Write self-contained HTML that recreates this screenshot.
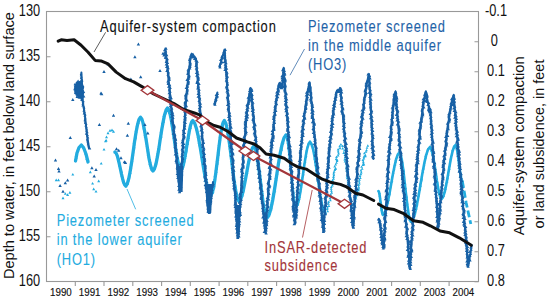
<!DOCTYPE html>
<html><head><meta charset="utf-8"><style>
html,body{margin:0;padding:0;background:#fff;}
svg{display:block;font-family:"Liberation Sans",sans-serif;}
</style></head><body>
<svg width="549" height="299" viewBox="0 0 549 299">
<rect x="46.5" y="11.5" width="432" height="270" fill="none" stroke="#999" stroke-width="1.1"/>
<path d="M46.5 56.7h4 M46.5 101.7h4 M46.5 146.7h4 M46.5 191.7h4 M46.5 236.7h4 M478.5 41.7h-4 M478.5 71.7h-4 M478.5 101.7h-4 M478.5 131.7h-4 M478.5 161.7h-4 M478.5 191.7h-4 M478.5 221.7h-4 M478.5 251.7h-4 M478.5 281.7h-4 M75.3 281.5v4.5 M104 281.5v4.5 M132.8 281.5v4.5 M161.6 281.5v4.5 M190.3 281.5v4.5 M219.1 281.5v4.5 M247.8 281.5v4.5 M276.6 281.5v4.5 M305.3 281.5v4.5 M334.1 281.5v4.5 M362.8 281.5v4.5 M391.6 281.5v4.5 M420.3 281.5v4.5 M449.1 281.5v4.5" stroke="#999" stroke-width="1.1" fill="none"/>
<polyline points="75.5,161 77,153 79,147.5 81.3,145 83.5,147.5 86,154 88,162" fill="none" stroke="#23acdf" stroke-width="3.3" stroke-linejoin="round" stroke-linecap="round"/>
<path d="M74 161.9h2.5l-1.2 -2.1zM74.1 160.3h2.5l-1.2 -2.1zM75.1 158.8h2.5l-1.2 -2.1zM74.6 157.1h2.5l-1.2 -2.1zM75.5 155.6h2.5l-1.2 -2.1zM75.6 153.9h2.5l-1.2 -2.1zM75.7 152.4h2.5l-1.2 -2.1zM76.8 151.2h2.5l-1.2 -2.1zM76.7 149.6h2.5l-1.2 -2.1zM77.7 148.4h2.5l-1.2 -2.1zM78.5 146.8h2.5l-1.2 -2.1zM80.5 145.6h2.5l-1.2 -2.1zM81.2 147.2h2.5l-1.2 -2.1zM81.8 148.7h2.5l-1.2 -2.1zM83.4 149.9h2.5l-1.2 -2.1zM83.9 151.6h2.5l-1.2 -2.1zM84 153.4h2.5l-1.2 -2.1zM84.2 155.1h2.5l-1.2 -2.1zM85.1 156.6h2.5l-1.2 -2.1zM85.7 158.2h2.5l-1.2 -2.1zM85.3 160h2.5l-1.2 -2.1zM87 161.2h2.5l-1.2 -2.1z" fill="#23acdf"/>
<polyline points="115,152 116.1,153.1 117.2,155.6 118.2,159.3 119.3,163.9 120.4,169 121.5,174.1 122.6,178.7 123.6,182.4 124.7,184.9 125.8,186 127.3,183.8 128.7,178.7 130.2,171.2 131.7,161.9 133.2,151.6 134.6,141.3 136.1,132 137.6,124.5 139,119.4 140.5,117.2 141.8,118.9 143,122.9 144.2,128.8 145.5,136.1 146.8,144.1 148,152.1 149.2,159.4 150.5,165.3 151.8,169.3 153,171 154.4,169 155.9,164.3 157.3,157.4 158.8,148.9 160.2,139.5 161.7,130.1 163.2,121.6 164.6,114.7 166.1,110 167.5,108 168.8,110 170.2,114.6 171.6,121.4 172.9,129.8 174.2,139 175.6,148.2 176.9,156.6 178.3,163.4 179.7,168 181,170 182.2,168.4 183.4,164.8 184.5,159.3 185.7,152.6 186.9,145.2 188.1,137.9 189.3,131.2 190.4,125.7 191.6,122.1 192.8,120.5 194.6,122.9 196.4,128.4 198.3,136.6 200.1,146.6 201.9,157.8 203.7,168.9 205.5,178.9 207.4,187.1 209.2,192.6 211,195 212.3,192.6 213.7,187.1 215,178.9 216.3,168.9 217.7,157.8 219,146.6 220.3,136.6 221.6,128.4 223,122.9 224.3,120.5 225.8,123.1 227.2,129.1 228.7,138 230.2,148.9 231.7,161 233.1,173.1 234.6,184 236.1,192.9 237.5,198.9 239,201.5 240.5,199.7 242,195.6 243.5,189.5 245,182 246.5,173.8 248,165.5 249.5,158 251,151.9 252.5,147.8 254,146 255.3,148.3 256.6,153.6 257.9,161.5 259.2,171.3 260.5,182 261.8,192.7 263.1,202.5 264.4,210.4 265.7,215.7 267,218 268.9,215.3 270.8,209.2 272.7,200.1 274.6,188.9 276.5,176.5 278.4,164.1 280.3,152.9 282.2,143.8 284.1,137.7 286,135" fill="none" stroke="#23acdf" stroke-width="3.3" stroke-linejoin="round" stroke-linecap="round"/>
<path d="M113.4 153.3h2.5l-1.2 -2.1zM115.1 154h2.5l-1.2 -2.1zM116.4 156.5h2.5l-1.2 -2.1zM117 158.3h2.5l-1.2 -2.1zM117.3 160.3h2.5l-1.2 -2.1zM116.9 162h2.5l-1.2 -2.1zM118.2 163.3h2.5l-1.2 -2.1zM118 164.9h2.5l-1.2 -2.1zM118.3 166.7h2.5l-1.2 -2.1zM119 168.3h2.5l-1.2 -2.1zM119.1 170h2.5l-1.2 -2.1zM120.1 171.6h2.5l-1.2 -2.1zM120.5 173.2h2.5l-1.2 -2.1zM120.6 175h2.5l-1.2 -2.1zM120.4 176.7h2.5l-1.2 -2.1zM121.1 178.1h2.5l-1.2 -2.1zM121.6 179.6h2.5l-1.2 -2.1zM121.7 181.6h2.5l-1.2 -2.1zM122.5 183.4h2.5l-1.2 -2.1zM123.7 185.7h2.5l-1.2 -2.1zM124.9 187.2h2.5l-1.2 -2.1zM126.3 184.9h2.5l-1.2 -2.1zM126.2 183h2.5l-1.2 -2.1zM127.1 181.4h2.5l-1.2 -2.1zM127.5 179.7h2.5l-1.2 -2.1zM128.3 178.3h2.5l-1.2 -2.1zM128.4 176.7h2.5l-1.2 -2.1zM128.1 175.1h2.5l-1.2 -2.1zM129.3 173.8h2.5l-1.2 -2.1zM128.4 172.1h2.5l-1.2 -2.1zM129.1 170.6h2.5l-1.2 -2.1zM129.8 169.1h2.5l-1.2 -2.1zM129.2 167.4h2.5l-1.2 -2.1zM129.9 165.9h2.5l-1.2 -2.1zM129.6 164.3h2.5l-1.2 -2.1zM130.7 162.9h2.5l-1.2 -2.1zM131 161.4h2.5l-1.2 -2.1zM131 159.9h2.5l-1.2 -2.1zM131.6 158.5h2.5l-1.2 -2.1zM131 156.9h2.5l-1.2 -2.1zM131.8 155.6h2.5l-1.2 -2.1zM131.8 154.1h2.5l-1.2 -2.1zM132 152.6h2.5l-1.2 -2.1zM132.1 151.1h2.5l-1.2 -2.1zM132.8 149.7h2.5l-1.2 -2.1zM133.2 148.3h2.5l-1.2 -2.1zM132.7 146.7h2.5l-1.2 -2.1zM133.2 145.3h2.5l-1.2 -2.1zM132.6 143.7h2.5l-1.2 -2.1zM133.7 142.4h2.5l-1.2 -2.1zM133.8 140.8h2.5l-1.2 -2.1zM134.6 139.3h2.5l-1.2 -2.1zM134.6 137.7h2.5l-1.2 -2.1zM134.1 136.1h2.5l-1.2 -2.1zM134.4 134.5h2.5l-1.2 -2.1zM135.1 133.1h2.5l-1.2 -2.1zM134.5 131.4h2.5l-1.2 -2.1zM135.4 130h2.5l-1.2 -2.1zM135.3 128.4h2.5l-1.2 -2.1zM135.5 126.9h2.5l-1.2 -2.1zM135.7 125.3h2.5l-1.2 -2.1zM137.2 123.9h2.5l-1.2 -2.1zM136.8 121.9h2.5l-1.2 -2.1zM137.5 120.2h2.5l-1.2 -2.1zM139.4 118.1h2.5l-1.2 -2.1zM140 120.1h2.5l-1.2 -2.1zM141.7 121.7h2.5l-1.2 -2.1zM141.8 123.9h2.5l-1.2 -2.1zM142 125.4h2.5l-1.2 -2.1zM141.9 126.9h2.5l-1.2 -2.1zM142.3 128.4h2.5l-1.2 -2.1zM142.5 129.9h2.5l-1.2 -2.1zM143.6 131.2h2.5l-1.2 -2.1zM143.6 132.7h2.5l-1.2 -2.1zM144 134.1h2.5l-1.2 -2.1zM143.5 135.7h2.5l-1.2 -2.1zM143.6 137.2h2.5l-1.2 -2.1zM145 138.6h2.5l-1.2 -2.1zM145.2 140.2h2.5l-1.2 -2.1zM145.4 141.8h2.5l-1.2 -2.1zM145.6 143.4h2.5l-1.2 -2.1zM145.5 145.1h2.5l-1.2 -2.1zM145.6 146.7h2.5l-1.2 -2.1zM146.3 148.2h2.5l-1.2 -2.1zM146.9 149.8h2.5l-1.2 -2.1zM146.6 151.5h2.5l-1.2 -2.1zM146.9 153.1h2.5l-1.2 -2.1zM146.9 154.6h2.5l-1.2 -2.1zM146.6 156.1h2.5l-1.2 -2.1zM147.2 157.5h2.5l-1.2 -2.1zM147.7 158.9h2.5l-1.2 -2.1zM147.9 160.4h2.5l-1.2 -2.1zM148.1 161.9h2.5l-1.2 -2.1zM149.2 163.2h2.5l-1.2 -2.1zM148.4 164.9h2.5l-1.2 -2.1zM148.9 166.4h2.5l-1.2 -2.1zM149.4 168.4h2.5l-1.2 -2.1zM150.2 170.5h2.5l-1.2 -2.1zM151.6 171.9h2.5l-1.2 -2.1zM153.1 169.9h2.5l-1.2 -2.1zM153.2 168.3h2.5l-1.2 -2.1zM154.4 166.9h2.5l-1.2 -2.1zM154.1 165.2h2.5l-1.2 -2.1zM154.4 163.8h2.5l-1.2 -2.1zM154.8 162.5h2.5l-1.2 -2.1zM155.1 161.1h2.5l-1.2 -2.1zM155.6 159.7h2.5l-1.2 -2.1zM155.5 158.3h2.5l-1.2 -2.1zM155.7 156.9h2.5l-1.2 -2.1zM156.1 155.5h2.5l-1.2 -2.1zM156.3 154.1h2.5l-1.2 -2.1zM156.9 152.7h2.5l-1.2 -2.1zM156.7 151.2h2.5l-1.2 -2.1zM158.1 150h2.5l-1.2 -2.1zM158 148.3h2.5l-1.2 -2.1zM157.6 146.7h2.5l-1.2 -2.1zM157.9 145.1h2.5l-1.2 -2.1zM158.3 143.6h2.5l-1.2 -2.1zM158.6 142h2.5l-1.2 -2.1zM158.5 140.4h2.5l-1.2 -2.1zM159.7 139h2.5l-1.2 -2.1zM160.2 137.5h2.5l-1.2 -2.1zM159.7 135.8h2.5l-1.2 -2.1zM160 134.2h2.5l-1.2 -2.1zM159.6 132.6h2.5l-1.2 -2.1zM159.9 131h2.5l-1.2 -2.1zM160.5 129.6h2.5l-1.2 -2.1zM160.6 128.2h2.5l-1.2 -2.1zM161.6 126.9h2.5l-1.2 -2.1zM161 125.3h2.5l-1.2 -2.1zM161 123.9h2.5l-1.2 -2.1zM162.5 122.7h2.5l-1.2 -2.1zM162.2 121.2h2.5l-1.2 -2.1zM162 119.7h2.5l-1.2 -2.1zM162.8 118.4h2.5l-1.2 -2.1zM162.4 116.9h2.5l-1.2 -2.1zM163.4 115.7h2.5l-1.2 -2.1zM164.5 114.3h2.5l-1.2 -2.1zM164.8 112.7h2.5l-1.2 -2.1zM165 111.2h2.5l-1.2 -2.1zM166.5 108.8h2.5l-1.2 -2.1zM167.8 110.9h2.5l-1.2 -2.1zM168.5 112.4h2.5l-1.2 -2.1zM168.1 114.1h2.5l-1.2 -2.1zM168.9 115.6h2.5l-1.2 -2.1zM168.9 117.3h2.5l-1.2 -2.1zM169.9 118.9h2.5l-1.2 -2.1zM170.4 120.6h2.5l-1.2 -2.1zM169.9 122.4h2.5l-1.2 -2.1zM169.9 123.9h2.5l-1.2 -2.1zM170.3 125.2h2.5l-1.2 -2.1zM170.6 126.6h2.5l-1.2 -2.1zM170.8 128h2.5l-1.2 -2.1zM171.1 129.4h2.5l-1.2 -2.1zM172 130.7h2.5l-1.2 -2.1zM171.9 132.3h2.5l-1.2 -2.1zM172.3 133.8h2.5l-1.2 -2.1zM173 135.3h2.5l-1.2 -2.1zM173.2 136.8h2.5l-1.2 -2.1zM173.1 138.4h2.5l-1.2 -2.1zM173.3 139.9h2.5l-1.2 -2.1zM173 141.6h2.5l-1.2 -2.1zM172.8 143.2h2.5l-1.2 -2.1zM173.8 144.6h2.5l-1.2 -2.1zM173.3 146.2h2.5l-1.2 -2.1zM173.5 147.8h2.5l-1.2 -2.1zM173.7 149.3h2.5l-1.2 -2.1zM174.8 150.6h2.5l-1.2 -2.1zM175.2 152h2.5l-1.2 -2.1zM175.4 153.4h2.5l-1.2 -2.1zM175.7 154.8h2.5l-1.2 -2.1zM175.9 156.2h2.5l-1.2 -2.1zM175.5 157.7h2.5l-1.2 -2.1zM175.5 159.4h2.5l-1.2 -2.1zM175.9 161.1h2.5l-1.2 -2.1zM176.8 162.7h2.5l-1.2 -2.1zM176.9 164.5h2.5l-1.2 -2.1zM177.1 166.1h2.5l-1.2 -2.1zM178.5 167.3h2.5l-1.2 -2.1zM178.2 169.1h2.5l-1.2 -2.1zM180.2 171.3h2.5l-1.2 -2.1zM181.3 169.5h2.5l-1.2 -2.1zM181.9 167.7h2.5l-1.2 -2.1zM182.1 165.7h2.5l-1.2 -2.1zM182.1 163.8h2.5l-1.2 -2.1zM183.3 162.2h2.5l-1.2 -2.1zM183.1 160.3h2.5l-1.2 -2.1zM184 158.7h2.5l-1.2 -2.1zM184.5 157.1h2.5l-1.2 -2.1zM184 155.3h2.5l-1.2 -2.1zM184.3 153.6h2.5l-1.2 -2.1zM185.3 152.2h2.5l-1.2 -2.1zM185.3 150.7h2.5l-1.2 -2.1zM184.7 149.1h2.5l-1.2 -2.1zM184.9 147.6h2.5l-1.2 -2.1zM185.2 146.2h2.5l-1.2 -2.1zM186.5 144.9h2.5l-1.2 -2.1zM186.6 143.4h2.5l-1.2 -2.1zM185.9 141.7h2.5l-1.2 -2.1zM187.1 140.4h2.5l-1.2 -2.1zM187.5 139h2.5l-1.2 -2.1zM187.4 137.2h2.5l-1.2 -2.1zM187.2 135.5h2.5l-1.2 -2.1zM187.8 133.8h2.5l-1.2 -2.1zM187.5 132h2.5l-1.2 -2.1zM187.8 130.2h2.5l-1.2 -2.1zM189.5 128.7h2.5l-1.2 -2.1zM189.4 126.8h2.5l-1.2 -2.1zM189.8 124.9h2.5l-1.2 -2.1zM190.9 123.4h2.5l-1.2 -2.1zM191.6 121.4h2.5l-1.2 -2.1zM192.1 123h2.5l-1.2 -2.1zM192.9 124h2.5l-1.2 -2.1zM194.2 125.1h2.5l-1.2 -2.1zM194.6 126.5h2.5l-1.2 -2.1zM195 127.9h2.5l-1.2 -2.1zM195.6 129.3h2.5l-1.2 -2.1zM195.4 131h2.5l-1.2 -2.1zM196.3 132.6h2.5l-1.2 -2.1zM196.4 134.3h2.5l-1.2 -2.1zM197.2 135.8h2.5l-1.2 -2.1zM196.5 137.6h2.5l-1.2 -2.1zM197.5 138.9h2.5l-1.2 -2.1zM197.6 140.4h2.5l-1.2 -2.1zM197.7 141.9h2.5l-1.2 -2.1zM197.5 143.4h2.5l-1.2 -2.1zM198.4 144.7h2.5l-1.2 -2.1zM198 146.3h2.5l-1.2 -2.1zM198.8 147.6h2.5l-1.2 -2.1zM199 149h2.5l-1.2 -2.1zM199.3 150.4h2.5l-1.2 -2.1zM200.2 151.7h2.5l-1.2 -2.1zM199.8 153.2h2.5l-1.2 -2.1zM200.4 154.5h2.5l-1.2 -2.1zM200.9 155.9h2.5l-1.2 -2.1zM200 157.4h2.5l-1.2 -2.1zM201.1 158.7h2.5l-1.2 -2.1zM200.9 160.1h2.5l-1.2 -2.1zM200.8 161.6h2.5l-1.2 -2.1zM201.3 162.9h2.5l-1.2 -2.1zM201.8 164.3h2.5l-1.2 -2.1zM201.8 165.7h2.5l-1.2 -2.1zM202 167.1h2.5l-1.2 -2.1zM201.9 168.5h2.5l-1.2 -2.1zM203 169.7h2.5l-1.2 -2.1zM202.7 171.3h2.5l-1.2 -2.1zM203.3 172.7h2.5l-1.2 -2.1zM203.6 174.1h2.5l-1.2 -2.1zM203.1 175.7h2.5l-1.2 -2.1zM203.8 177.1h2.5l-1.2 -2.1zM204 178.5h2.5l-1.2 -2.1zM203.9 180h2.5l-1.2 -2.1zM204.1 181.7h2.5l-1.2 -2.1zM205.1 183.2h2.5l-1.2 -2.1zM205.2 184.9h2.5l-1.2 -2.1zM205.8 186.5h2.5l-1.2 -2.1zM206.1 188.1h2.5l-1.2 -2.1zM206.3 189.6h2.5l-1.2 -2.1zM207.1 190.8h2.5l-1.2 -2.1zM207.4 192.2h2.5l-1.2 -2.1zM208 193.6h2.5l-1.2 -2.1zM208.4 195.2h2.5l-1.2 -2.1zM210 196.1h2.5l-1.2 -2.1zM211.6 193.7h2.5l-1.2 -2.1zM212 192.4h2.5l-1.2 -2.1zM211.4 190.8h2.5l-1.2 -2.1zM212.2 189.5h2.5l-1.2 -2.1zM213 188.2h2.5l-1.2 -2.1zM213.2 186.5h2.5l-1.2 -2.1zM212.5 184.8h2.5l-1.2 -2.1zM212.7 183.1h2.5l-1.2 -2.1zM213.4 181.6h2.5l-1.2 -2.1zM213.2 179.9h2.5l-1.2 -2.1zM213.6 178.4h2.5l-1.2 -2.1zM213.5 177h2.5l-1.2 -2.1zM214.6 175.6h2.5l-1.2 -2.1zM214.9 174.2h2.5l-1.2 -2.1zM215.3 172.8h2.5l-1.2 -2.1zM214.4 171.2h2.5l-1.2 -2.1zM215.4 169.9h2.5l-1.2 -2.1zM215.5 168.3h2.5l-1.2 -2.1zM215 166.6h2.5l-1.2 -2.1zM216.2 165.1h2.5l-1.2 -2.1zM216.5 163.6h2.5l-1.2 -2.1zM215.6 161.9h2.5l-1.2 -2.1zM216.9 160.4h2.5l-1.2 -2.1zM216.3 158.7h2.5l-1.2 -2.1zM216.6 157.2h2.5l-1.2 -2.1zM217.5 155.6h2.5l-1.2 -2.1zM217.4 154h2.5l-1.2 -2.1zM216.7 152.3h2.5l-1.2 -2.1zM217.3 150.8h2.5l-1.2 -2.1zM217.6 149.2h2.5l-1.2 -2.1zM217.5 147.6h2.5l-1.2 -2.1zM217.5 146.1h2.5l-1.2 -2.1zM217.9 144.7h2.5l-1.2 -2.1zM218.6 143.4h2.5l-1.2 -2.1zM217.8 141.8h2.5l-1.2 -2.1zM218.8 140.4h2.5l-1.2 -2.1zM218.8 139h2.5l-1.2 -2.1zM218.4 137.4h2.5l-1.2 -2.1zM219.1 135.9h2.5l-1.2 -2.1zM219.8 134.3h2.5l-1.2 -2.1zM219.9 132.7h2.5l-1.2 -2.1zM219.5 130.9h2.5l-1.2 -2.1zM221.1 129.5h2.5l-1.2 -2.1zM221.1 128.1h2.5l-1.2 -2.1zM221.7 126.8h2.5l-1.2 -2.1zM220.9 125.1h2.5l-1.2 -2.1zM221.4 123.7h2.5l-1.2 -2.1zM223.6 121.2h2.5l-1.2 -2.1zM223.5 123h2.5l-1.2 -2.1zM224.8 124h2.5l-1.2 -2.1zM225.4 125.5h2.5l-1.2 -2.1zM225.4 127.1h2.5l-1.2 -2.1zM225.1 128.7h2.5l-1.2 -2.1zM225.6 130.1h2.5l-1.2 -2.1zM226.6 131.5h2.5l-1.2 -2.1zM227 132.9h2.5l-1.2 -2.1zM226.2 134.6h2.5l-1.2 -2.1zM226.9 136h2.5l-1.2 -2.1zM227 137.5h2.5l-1.2 -2.1zM228 138.9h2.5l-1.2 -2.1zM228.3 140.4h2.5l-1.2 -2.1zM227.6 142.1h2.5l-1.2 -2.1zM228.2 143.6h2.5l-1.2 -2.1zM228.9 145.1h2.5l-1.2 -2.1zM227.9 146.9h2.5l-1.2 -2.1zM228.5 148.4h2.5l-1.2 -2.1zM228.5 150h2.5l-1.2 -2.1zM229.7 151.4h2.5l-1.2 -2.1zM228.8 153h2.5l-1.2 -2.1zM230.1 154.4h2.5l-1.2 -2.1zM229.2 156h2.5l-1.2 -2.1zM229.9 157.5h2.5l-1.2 -2.1zM230.3 158.9h2.5l-1.2 -2.1zM230.2 160.5h2.5l-1.2 -2.1zM229.8 162.1h2.5l-1.2 -2.1zM230.9 163.5h2.5l-1.2 -2.1zM231.3 164.9h2.5l-1.2 -2.1zM230.9 166.5h2.5l-1.2 -2.1zM231.5 168h2.5l-1.2 -2.1zM231.9 169.5h2.5l-1.2 -2.1zM232 171h2.5l-1.2 -2.1zM232.3 172.5h2.5l-1.2 -2.1zM232.3 174h2.5l-1.2 -2.1zM232.4 175.6h2.5l-1.2 -2.1zM232.6 177.2h2.5l-1.2 -2.1zM232.2 178.8h2.5l-1.2 -2.1zM233 180.3h2.5l-1.2 -2.1zM232.9 181.9h2.5l-1.2 -2.1zM233.6 183.4h2.5l-1.2 -2.1zM233.6 185h2.5l-1.2 -2.1zM234.3 186.4h2.5l-1.2 -2.1zM234.2 187.9h2.5l-1.2 -2.1zM234.8 189.4h2.5l-1.2 -2.1zM234 191h2.5l-1.2 -2.1zM234.5 192.4h2.5l-1.2 -2.1zM235.2 193.8h2.5l-1.2 -2.1zM235.2 195.4h2.5l-1.2 -2.1zM235 197h2.5l-1.2 -2.1zM236.5 198.3h2.5l-1.2 -2.1zM235.9 200.1h2.5l-1.2 -2.1zM237.1 201.1h2.5l-1.2 -2.1zM237.8 202.5h2.5l-1.2 -2.1zM239.7 200.9h2.5l-1.2 -2.1zM239.6 199.3h2.5l-1.2 -2.1zM240.3 198h2.5l-1.2 -2.1zM241 196.7h2.5l-1.2 -2.1zM241.8 195.3h2.5l-1.2 -2.1zM241.3 193.5h2.5l-1.2 -2.1zM242.3 192.2h2.5l-1.2 -2.1zM242.5 190.6h2.5l-1.2 -2.1zM242.7 189.1h2.5l-1.2 -2.1zM242.7 187.5h2.5l-1.2 -2.1zM243 186h2.5l-1.2 -2.1zM242.9 184.4h2.5l-1.2 -2.1zM243.3 182.9h2.5l-1.2 -2.1zM243.4 181.5h2.5l-1.2 -2.1zM244.6 180.3h2.5l-1.2 -2.1zM244.2 178.8h2.5l-1.2 -2.1zM244.3 177.4h2.5l-1.2 -2.1zM244.4 176h2.5l-1.2 -2.1zM245.7 174.8h2.5l-1.2 -2.1zM246 173.5h2.5l-1.2 -2.1zM246 172h2.5l-1.2 -2.1zM245.7 170.5h2.5l-1.2 -2.1zM245.9 169.2h2.5l-1.2 -2.1zM246.2 167.8h2.5l-1.2 -2.1zM246.7 166.5h2.5l-1.2 -2.1zM246.6 164.9h2.5l-1.2 -2.1zM247.3 163.4h2.5l-1.2 -2.1zM247.3 161.9h2.5l-1.2 -2.1zM248.6 160.6h2.5l-1.2 -2.1zM248.9 159.1h2.5l-1.2 -2.1zM248.7 157.4h2.5l-1.2 -2.1zM248.7 155.8h2.5l-1.2 -2.1zM250 154.5h2.5l-1.2 -2.1zM249.5 152.8h2.5l-1.2 -2.1zM250.1 151.4h2.5l-1.2 -2.1zM250.1 149.9h2.5l-1.2 -2.1zM251.1 148.7h2.5l-1.2 -2.1zM252.8 147h2.5l-1.2 -2.1zM254.1 149.3h2.5l-1.2 -2.1zM254.9 151h2.5l-1.2 -2.1zM254.9 152.8h2.5l-1.2 -2.1zM256 154.5h2.5l-1.2 -2.1zM255.9 156.1h2.5l-1.2 -2.1zM256.4 157.7h2.5l-1.2 -2.1zM256.3 159.3h2.5l-1.2 -2.1zM257 160.8h2.5l-1.2 -2.1zM257.3 162.4h2.5l-1.2 -2.1zM257.1 163.9h2.5l-1.2 -2.1zM257.4 165.2h2.5l-1.2 -2.1zM257.1 166.7h2.5l-1.2 -2.1zM257.4 168.1h2.5l-1.2 -2.1zM257.2 169.5h2.5l-1.2 -2.1zM257.6 170.9h2.5l-1.2 -2.1zM257.7 172.3h2.5l-1.2 -2.1zM257.6 173.9h2.5l-1.2 -2.1zM258.5 175.3h2.5l-1.2 -2.1zM258.8 176.8h2.5l-1.2 -2.1zM258 178.5h2.5l-1.2 -2.1zM259.4 179.9h2.5l-1.2 -2.1zM258.8 181.5h2.5l-1.2 -2.1zM259.1 183h2.5l-1.2 -2.1zM260.1 184.4h2.5l-1.2 -2.1zM259.2 186.1h2.5l-1.2 -2.1zM259.3 187.7h2.5l-1.2 -2.1zM259.8 189.1h2.5l-1.2 -2.1zM259.9 190.7h2.5l-1.2 -2.1zM259.9 192.2h2.5l-1.2 -2.1zM261.1 193.7h2.5l-1.2 -2.1zM260.7 195.1h2.5l-1.2 -2.1zM260.9 196.5h2.5l-1.2 -2.1zM260.7 198h2.5l-1.2 -2.1zM260.9 199.4h2.5l-1.2 -2.1zM261 200.7h2.5l-1.2 -2.1zM261.6 202.1h2.5l-1.2 -2.1zM261.3 203.6h2.5l-1.2 -2.1zM261.9 205.1h2.5l-1.2 -2.1zM262.1 206.7h2.5l-1.2 -2.1zM263 208.1h2.5l-1.2 -2.1zM263.6 209.7h2.5l-1.2 -2.1zM263.7 211.2h2.5l-1.2 -2.1zM263.8 213.1h2.5l-1.2 -2.1zM264.6 214.8h2.5l-1.2 -2.1zM264.1 216.9h2.5l-1.2 -2.1zM265.8 219h2.5l-1.2 -2.1zM266.9 217.8h2.5l-1.2 -2.1zM267.8 216.4h2.5l-1.2 -2.1zM268.4 214.9h2.5l-1.2 -2.1zM268.6 213.3h2.5l-1.2 -2.1zM268.4 211.5h2.5l-1.2 -2.1zM270 210.3h2.5l-1.2 -2.1zM270.2 208.8h2.5l-1.2 -2.1zM270.2 207.2h2.5l-1.2 -2.1zM270.6 205.7h2.5l-1.2 -2.1zM271 204.2h2.5l-1.2 -2.1zM270.6 202.5h2.5l-1.2 -2.1zM271.8 201.2h2.5l-1.2 -2.1zM271.4 199.6h2.5l-1.2 -2.1zM271.4 198.2h2.5l-1.2 -2.1zM271.9 196.8h2.5l-1.2 -2.1zM272.7 195.5h2.5l-1.2 -2.1zM272.2 194h2.5l-1.2 -2.1zM273.2 192.7h2.5l-1.2 -2.1zM273.8 191.4h2.5l-1.2 -2.1zM273.4 189.9h2.5l-1.2 -2.1zM273.4 188.3h2.5l-1.2 -2.1zM273.8 186.8h2.5l-1.2 -2.1zM274.3 185.3h2.5l-1.2 -2.1zM274.7 183.7h2.5l-1.2 -2.1zM274.7 182.2h2.5l-1.2 -2.1zM275 180.6h2.5l-1.2 -2.1zM274.4 178.9h2.5l-1.2 -2.1zM274.8 177.4h2.5l-1.2 -2.1zM275.2 175.9h2.5l-1.2 -2.1zM276.1 174.4h2.5l-1.2 -2.1zM275.7 172.8h2.5l-1.2 -2.1zM276.3 171.3h2.5l-1.2 -2.1zM275.8 169.7h2.5l-1.2 -2.1zM276.1 168.1h2.5l-1.2 -2.1zM276.6 166.6h2.5l-1.2 -2.1zM277.4 165.2h2.5l-1.2 -2.1zM277.7 163.8h2.5l-1.2 -2.1zM277.9 162.3h2.5l-1.2 -2.1zM277.6 160.9h2.5l-1.2 -2.1zM278.1 159.5h2.5l-1.2 -2.1zM278.3 158.1h2.5l-1.2 -2.1zM278.5 156.7h2.5l-1.2 -2.1zM278.3 155.2h2.5l-1.2 -2.1zM279.6 154h2.5l-1.2 -2.1zM279 152.3h2.5l-1.2 -2.1zM280.4 151h2.5l-1.2 -2.1zM280.6 149.5h2.5l-1.2 -2.1zM279.7 147.7h2.5l-1.2 -2.1zM280.6 146.3h2.5l-1.2 -2.1zM281.4 144.9h2.5l-1.2 -2.1zM282.1 143.4h2.5l-1.2 -2.1zM281.8 141.7h2.5l-1.2 -2.1zM282.1 140.1h2.5l-1.2 -2.1zM282.5 138.4h2.5l-1.2 -2.1zM284.3 137.7h2.5l-1.2 -2.1z" fill="#23acdf"/>
<polyline points="286,135 287,137.3 288,142.6 289,150.5 290,160.3 291,171 292,181.7 293,191.5 294,199.4 295,204.7 296,207 297.4,204.9 298.8,200.1 300.2,192.9 301.6,184.1 303,174.3 304.4,164.6 305.8,155.8 307.2,148.6 308.6,143.8 310,141.7 311.5,144 313.1,149.3 314.6,157.1 316.1,166.7 317.6,177.3 319.2,188 320.7,197.6 322.2,205.4 323.8,210.7 325.3,213" fill="none" stroke="#23acdf" stroke-width="2.6" stroke-linejoin="round" stroke-linecap="round"/>
<path d="M285.4 135.6h2l-1 -1.7zM285.9 138.1h2l-1 -1.7zM286.9 139.8h2l-1 -1.7zM286.7 141.6h2l-1 -1.7zM286.4 143.5h2l-1 -1.7zM287.7 144.9h2l-1 -1.7zM287 146.6h2l-1 -1.7zM287.6 148.1h2l-1 -1.7zM287.3 149.8h2l-1 -1.7zM287.7 151.3h2l-1 -1.7zM288.5 152.7h2l-1 -1.7zM287.8 154.1h2l-1 -1.7zM288.5 155.5h2l-1 -1.7zM289.3 156.8h2l-1 -1.7zM289.4 158.2h2l-1 -1.7zM288.9 159.7h2l-1 -1.7zM289.1 161h2l-1 -1.7zM289.4 162.6h2l-1 -1.7zM289.8 164.1h2l-1 -1.7zM289.7 165.6h2l-1 -1.7zM289.9 167.2h2l-1 -1.7zM289.3 168.8h2l-1 -1.7zM290.6 170.2h2l-1 -1.7zM289.7 171.8h2l-1 -1.7zM289.7 173.4h2l-1 -1.7zM290.8 174.8h2l-1 -1.7zM289.9 176.4h2l-1 -1.7zM290.3 177.9h2l-1 -1.7zM290.2 179.5h2l-1 -1.7zM291.2 181h2l-1 -1.7zM291.2 182.5h2l-1 -1.7zM291.3 183.9h2l-1 -1.7zM290.6 185.4h2l-1 -1.7zM291.3 186.7h2l-1 -1.7zM291.8 188.1h2l-1 -1.7zM291.8 189.5h2l-1 -1.7zM292.2 190.8h2l-1 -1.7zM292.7 192.2h2l-1 -1.7zM292.8 193.8h2l-1 -1.7zM292 195.5h2l-1 -1.7zM292.9 197h2l-1 -1.7zM292.2 198.7h2l-1 -1.7zM293.4 200.1h2l-1 -1.7zM293.7 201.9h2l-1 -1.7zM293.7 203.7h2l-1 -1.7zM294.4 205.3h2l-1 -1.7zM294.9 207.7h2l-1 -1.7zM297 205.9h2l-1 -1.7zM297.4 204.2h2l-1 -1.7zM297.8 202.6h2l-1 -1.7zM298 200.9h2l-1 -1.7zM298.7 199.5h2l-1 -1.7zM299 198.1h2l-1 -1.7zM298.7 196.6h2l-1 -1.7zM299.2 195.2h2l-1 -1.7zM298.6 193.6h2l-1 -1.7zM299.8 192.3h2l-1 -1.7zM299.6 190.7h2l-1 -1.7zM300.3 189.3h2l-1 -1.7zM300.4 187.8h2l-1 -1.7zM300.1 186.3h2l-1 -1.7zM300 184.8h2l-1 -1.7zM301.4 183.6h2l-1 -1.7zM300.5 182h2l-1 -1.7zM301.2 180.7h2l-1 -1.7zM301.2 179.3h2l-1 -1.7zM301.3 177.9h2l-1 -1.7zM302.2 176.6h2l-1 -1.7zM302.7 175.2h2l-1 -1.7zM301.9 173.7h2l-1 -1.7zM302.6 172.4h2l-1 -1.7zM302.3 170.9h2l-1 -1.7zM302.9 169.6h2l-1 -1.7zM302.9 168.2h2l-1 -1.7zM302.8 166.7h2l-1 -1.7zM303 165.3h2l-1 -1.7zM303.3 163.9h2l-1 -1.7zM304.5 162.5h2l-1 -1.7zM304.1 161h2l-1 -1.7zM304 159.4h2l-1 -1.7zM305.2 158.1h2l-1 -1.7zM305.5 156.7h2l-1 -1.7zM305 155.1h2l-1 -1.7zM304.9 153.6h2l-1 -1.7zM305.2 152.2h2l-1 -1.7zM305.4 150.7h2l-1 -1.7zM306 149.3h2l-1 -1.7zM306.1 147.6h2l-1 -1.7zM306.8 146.1h2l-1 -1.7zM307.3 144.4h2l-1 -1.7zM308.9 142.5h2l-1 -1.7zM310 144.9h2l-1 -1.7zM310.7 146.6h2l-1 -1.7zM311.7 148.2h2l-1 -1.7zM312.2 150h2l-1 -1.7zM312.4 151.6h2l-1 -1.7zM312.9 153.1h2l-1 -1.7zM313.2 154.7h2l-1 -1.7zM313.9 156.2h2l-1 -1.7zM313.9 157.8h2l-1 -1.7zM313.2 159.6h2l-1 -1.7zM314.6 161h2l-1 -1.7zM314.4 162.7h2l-1 -1.7zM314.5 164.3h2l-1 -1.7zM314.4 166h2l-1 -1.7zM315.5 167.4h2l-1 -1.7zM315.7 169h2l-1 -1.7zM315.9 170.5h2l-1 -1.7zM315.9 172h2l-1 -1.7zM316.1 173.6h2l-1 -1.7zM315.6 175.2h2l-1 -1.7zM316 176.7h2l-1 -1.7zM316.2 178.2h2l-1 -1.7zM317.6 179.6h2l-1 -1.7zM317.8 181.1h2l-1 -1.7zM317 182.7h2l-1 -1.7zM317 184.3h2l-1 -1.7zM317.8 185.7h2l-1 -1.7zM317.9 187.3h2l-1 -1.7zM318.9 188.6h2l-1 -1.7zM318.6 190.3h2l-1 -1.7zM318.1 192.1h2l-1 -1.7zM318.5 193.7h2l-1 -1.7zM318.7 195.3h2l-1 -1.7zM318.8 196.9h2l-1 -1.7zM320.1 198.3h2l-1 -1.7zM320.6 199.9h2l-1 -1.7zM320.8 201.4h2l-1 -1.7zM320.6 203.1h2l-1 -1.7zM320.7 204.7h2l-1 -1.7zM320.7 206.4h2l-1 -1.7zM321.5 208.1h2l-1 -1.7zM322.1 209.8h2l-1 -1.7zM322.5 211.7h2l-1 -1.7z" fill="#23acdf"/>
<polyline points="378.4,191 378.9,191.8 379.3,193.5 379.8,196.2 380.2,199.4 380.7,203 381.2,206.6 381.6,209.8 382.1,212.5 382.5,214.2 383,215 384.6,213 386.3,208.4 387.9,201.5 389.6,193 391.2,183.7 392.9,174.3 394.6,165.8 396.2,158.9 397.9,154.3 399.5,152.3 400.6,154.5 401.8,159.7 402.9,167.3 404.1,176.8 405.2,187.2 406.4,197.5 407.6,207 408.7,214.6 409.9,219.8 411,222 412.9,219.6 414.8,214.1 416.7,205.8 418.6,195.7 420.5,184.5 422.4,173.3 424.3,163.2 426.2,154.9 428.1,149.4 430,147 431.1,148.7 432.3,152.5 433.4,158.2 434.6,165.2 435.8,173 436.9,180.8 438.1,187.8 439.2,193.5 440.4,197.3 441.5,199 442.9,197.3 444.3,193.3 445.7,187.4 447.1,180 448.5,172 449.9,164 451.3,156.6 452.7,150.7 454.1,146.7 455.5,145 456.2,146.2 456.9,148.8 457.5,152.8 458.2,157.6 458.9,163 459.6,168.4 460.3,173.2 460.9,177.2 461.6,179.8 462.3,181" fill="none" stroke="#23acdf" stroke-width="2.6" stroke-linejoin="round" stroke-linecap="round"/>
<path d="M377.5 191.7h2l-1 -1.7zM377.8 192.6h2l-1 -1.7zM379 194.2h2l-1 -1.7zM378.4 197h2l-1 -1.7zM379.4 198.5h2l-1 -1.7zM378.7 200.3h2l-1 -1.7zM379.3 202h2l-1 -1.7zM380 203.7h2l-1 -1.7zM380.5 205.5h2l-1 -1.7zM380.5 207.3h2l-1 -1.7zM380.2 209h2l-1 -1.7zM380.4 210.7h2l-1 -1.7zM381.6 213.1h2l-1 -1.7zM382.1 214.7h2l-1 -1.7zM382.1 215.8h2l-1 -1.7zM383.8 213.8h2l-1 -1.7zM384.1 212.2h2l-1 -1.7zM384.4 210.6h2l-1 -1.7zM385.5 209.2h2l-1 -1.7zM385 207.6h2l-1 -1.7zM385.7 206.3h2l-1 -1.7zM386.3 205h2l-1 -1.7zM387.3 203.8h2l-1 -1.7zM387.2 202.3h2l-1 -1.7zM387.8 201h2l-1 -1.7zM387.5 199.4h2l-1 -1.7zM387.4 198h2l-1 -1.7zM387.7 196.5h2l-1 -1.7zM389 195.3h2l-1 -1.7zM388.9 193.8h2l-1 -1.7zM388.6 192.2h2l-1 -1.7zM388.5 190.5h2l-1 -1.7zM389.4 189.1h2l-1 -1.7zM390 187.6h2l-1 -1.7zM389.9 186h2l-1 -1.7zM389.9 184.4h2l-1 -1.7zM390.8 182.9h2l-1 -1.7zM391.4 181.4h2l-1 -1.7zM390.7 179.7h2l-1 -1.7zM390.7 178.1h2l-1 -1.7zM391.4 176.6h2l-1 -1.7zM391.8 175.1h2l-1 -1.7zM392.5 173.7h2l-1 -1.7zM392.1 172.2h2l-1 -1.7zM393.2 170.9h2l-1 -1.7zM393.4 169.5h2l-1 -1.7zM393.3 168h2l-1 -1.7zM393.2 166.5h2l-1 -1.7zM394.5 165.4h2l-1 -1.7zM394 163.8h2l-1 -1.7zM395 162.6h2l-1 -1.7zM394.5 161h2l-1 -1.7zM394.9 159.6h2l-1 -1.7zM396.1 158.3h2l-1 -1.7zM396.1 156.5h2l-1 -1.7zM397.4 155.5h2l-1 -1.7zM398.5 153.1h2l-1 -1.7zM400.1 155.2h2l-1 -1.7zM400.4 156.9h2l-1 -1.7zM400.6 158.7h2l-1 -1.7zM400.6 160.5h2l-1 -1.7zM400.4 162.1h2l-1 -1.7zM401.8 163.4h2l-1 -1.7zM401.7 165h2l-1 -1.7zM402.1 166.5h2l-1 -1.7zM401.3 168.2h2l-1 -1.7zM402.7 169.6h2l-1 -1.7zM403 171.2h2l-1 -1.7zM403.2 172.7h2l-1 -1.7zM402.9 174.4h2l-1 -1.7zM402.4 176h2l-1 -1.7zM402.6 177.6h2l-1 -1.7zM403 179.1h2l-1 -1.7zM402.8 180.6h2l-1 -1.7zM403 182.1h2l-1 -1.7zM404 183.5h2l-1 -1.7zM404.4 184.9h2l-1 -1.7zM403.5 186.5h2l-1 -1.7zM403.9 188h2l-1 -1.7zM405.1 189.3h2l-1 -1.7zM404.4 190.9h2l-1 -1.7zM404.9 192.4h2l-1 -1.7zM405.1 193.8h2l-1 -1.7zM405.3 195.3h2l-1 -1.7zM405.7 196.8h2l-1 -1.7zM406.1 198.2h2l-1 -1.7zM405.9 199.9h2l-1 -1.7zM406 201.4h2l-1 -1.7zM405.4 203.1h2l-1 -1.7zM406.7 204.5h2l-1 -1.7zM405.7 206.3h2l-1 -1.7zM407 207.7h2l-1 -1.7zM407 209.3h2l-1 -1.7zM406.6 210.9h2l-1 -1.7zM406.8 212.4h2l-1 -1.7zM407.6 213.9h2l-1 -1.7zM408.3 215.3h2l-1 -1.7zM408.1 217.1h2l-1 -1.7zM408.7 218.8h2l-1 -1.7zM408.4 220.8h2l-1 -1.7zM409.7 222.5h2l-1 -1.7zM410.8 221.5h2l-1 -1.7zM412.5 220.6h2l-1 -1.7zM411.8 218.8h2l-1 -1.7zM412.8 217.6h2l-1 -1.7zM413.8 216.4h2l-1 -1.7zM414.2 214.9h2l-1 -1.7zM413.5 213.3h2l-1 -1.7zM413.8 211.9h2l-1 -1.7zM414.2 210.6h2l-1 -1.7zM415.7 209.5h2l-1 -1.7zM415.1 207.9h2l-1 -1.7zM416.1 206.7h2l-1 -1.7zM416.5 205.3h2l-1 -1.7zM416 203.7h2l-1 -1.7zM416.2 202.2h2l-1 -1.7zM417.4 200.9h2l-1 -1.7zM417.2 199.4h2l-1 -1.7zM417 197.8h2l-1 -1.7zM417.9 196.5h2l-1 -1.7zM417.6 195h2l-1 -1.7zM417.8 193.6h2l-1 -1.7zM417.7 192.2h2l-1 -1.7zM418.9 190.9h2l-1 -1.7zM419.4 189.6h2l-1 -1.7zM419.2 188.1h2l-1 -1.7zM419.9 186.8h2l-1 -1.7zM418.9 185.2h2l-1 -1.7zM419.4 183.8h2l-1 -1.7zM420 182.5h2l-1 -1.7zM420.9 181.2h2l-1 -1.7zM421.1 179.8h2l-1 -1.7zM420.6 178.3h2l-1 -1.7zM420.6 176.8h2l-1 -1.7zM421.1 175.5h2l-1 -1.7zM421.4 174.1h2l-1 -1.7zM422.3 172.8h2l-1 -1.7zM421.5 171.1h2l-1 -1.7zM422.7 169.8h2l-1 -1.7zM422.8 168.4h2l-1 -1.7zM423.2 166.9h2l-1 -1.7zM423.4 165.5h2l-1 -1.7zM423.5 164h2l-1 -1.7zM423.4 162.5h2l-1 -1.7zM423.7 161.1h2l-1 -1.7zM424.1 159.8h2l-1 -1.7zM425 158.6h2l-1 -1.7zM424.3 157h2l-1 -1.7zM424.8 155.6h2l-1 -1.7zM426 154.5h2l-1 -1.7zM425.8 152.8h2l-1 -1.7zM426.1 151.4h2l-1 -1.7zM426.6 149.8h2l-1 -1.7zM428.1 149h2l-1 -1.7zM429.2 147.6h2l-1 -1.7zM429.5 149.6h2l-1 -1.7zM430.2 151.5h2l-1 -1.7zM430.7 153.4h2l-1 -1.7zM431.9 154.6h2l-1 -1.7zM432.5 156h2l-1 -1.7zM432.7 157.4h2l-1 -1.7zM432.5 159h2l-1 -1.7zM432.4 160.4h2l-1 -1.7zM433 161.8h2l-1 -1.7zM433.5 163.2h2l-1 -1.7zM433.5 164.6h2l-1 -1.7zM433.5 166.1h2l-1 -1.7zM433.6 167.6h2l-1 -1.7zM433.7 169.2h2l-1 -1.7zM433.8 170.8h2l-1 -1.7zM434.3 172.3h2l-1 -1.7zM435.3 173.7h2l-1 -1.7zM434.5 175.4h2l-1 -1.7zM435.5 176.8h2l-1 -1.7zM435.4 178.4h2l-1 -1.7zM435.9 180h2l-1 -1.7zM435.6 181.6h2l-1 -1.7zM436.6 182.9h2l-1 -1.7zM436.7 184.3h2l-1 -1.7zM437 185.7h2l-1 -1.7zM437.3 187.1h2l-1 -1.7zM436.5 188.7h2l-1 -1.7zM437.3 190h2l-1 -1.7zM437.9 191.4h2l-1 -1.7zM438.1 192.8h2l-1 -1.7zM437.6 194.5h2l-1 -1.7zM438.8 196.2h2l-1 -1.7zM439.7 197.9h2l-1 -1.7zM440.9 200.1h2l-1 -1.7zM442.1 198.1h2l-1 -1.7zM443 196.9h2l-1 -1.7zM442.3 195.2h2l-1 -1.7zM443.3 194.1h2l-1 -1.7zM444.1 192.7h2l-1 -1.7zM444.5 191.2h2l-1 -1.7zM444.9 189.8h2l-1 -1.7zM444.1 188h2l-1 -1.7zM444.7 186.6h2l-1 -1.7zM444.8 185.1h2l-1 -1.7zM445.1 183.7h2l-1 -1.7zM446.5 182.4h2l-1 -1.7zM446.2 180.8h2l-1 -1.7zM447 179.3h2l-1 -1.7zM446.5 177.6h2l-1 -1.7zM447.5 176.1h2l-1 -1.7zM447.2 174.4h2l-1 -1.7zM447.2 172.7h2l-1 -1.7zM448.2 171.2h2l-1 -1.7zM448.7 169.7h2l-1 -1.7zM447.8 167.9h2l-1 -1.7zM448.8 166.4h2l-1 -1.7zM449.1 164.8h2l-1 -1.7zM448.8 163.2h2l-1 -1.7zM449.3 161.8h2l-1 -1.7zM449.3 160.2h2l-1 -1.7zM449.6 158.8h2l-1 -1.7zM450 157.3h2l-1 -1.7zM450.8 156h2l-1 -1.7zM451.2 154.5h2l-1 -1.7zM451 152.9h2l-1 -1.7zM451.1 151.3h2l-1 -1.7zM452 150.1h2l-1 -1.7zM452.9 148.9h2l-1 -1.7zM452.8 147.2h2l-1 -1.7zM454.8 145.6h2l-1 -1.7zM455.6 146.8h2l-1 -1.7zM455.5 149.7h2l-1 -1.7zM456.2 151.6h2l-1 -1.7zM457.2 153.5h2l-1 -1.7zM457.3 155.1h2l-1 -1.7zM457.2 156.8h2l-1 -1.7zM457.2 158.4h2l-1 -1.7zM457.3 160.2h2l-1 -1.7zM458.3 161.9h2l-1 -1.7zM458.4 163.7h2l-1 -1.7zM457.9 165.6h2l-1 -1.7zM458.5 167.3h2l-1 -1.7zM458.9 169.1h2l-1 -1.7zM459.1 170.7h2l-1 -1.7zM458.4 172.5h2l-1 -1.7zM459.5 174h2l-1 -1.7zM459.5 176h2l-1 -1.7zM460.2 177.9h2l-1 -1.7zM460.7 180.6h2l-1 -1.7z" fill="#23acdf"/>
<path d="M462.3 181L466.2 203L470.8 224" fill="none" stroke="#23acdf" stroke-width="2.8" stroke-dasharray="7 3"/>
<path d="M324.4 214.5h2.8l-1.4 -2.4zM326.3 212.2h2.8l-1.4 -2.4zM325.9 210.1h2.8l-1.4 -2.4zM326.1 208.4h2.8l-1.4 -2.4zM327.5 206.9h2.8l-1.4 -2.4zM327.1 204.8h2.8l-1.4 -2.4zM327.2 202.9h2.8l-1.4 -2.4zM329 201.3h2.8l-1.4 -2.4zM328.6 199.2h2.8l-1.4 -2.4zM329.6 197.5h2.8l-1.4 -2.4zM329.3 195.5h2.8l-1.4 -2.4zM330.3 193.7h2.8l-1.4 -2.4zM330 191.8h2.8l-1.4 -2.4zM329.8 189.8h2.8l-1.4 -2.4zM329.9 188.1h2.8l-1.4 -2.4zM331 186.5h2.8l-1.4 -2.4zM331.4 184.8h2.8l-1.4 -2.4zM332.1 183.2h2.8l-1.4 -2.4zM331.1 181.2h2.8l-1.4 -2.4zM332.2 179.7h2.8l-1.4 -2.4zM332.1 177.9h2.8l-1.4 -2.4zM332.5 176.2h2.8l-1.4 -2.4zM332.3 174.4h2.8l-1.4 -2.4zM332.7 172.7h2.8l-1.4 -2.4zM333.4 171.1h2.8l-1.4 -2.4zM334.3 169.5h2.8l-1.4 -2.4zM333.3 167.4h2.8l-1.4 -2.4zM334.3 165.6h2.8l-1.4 -2.4zM335.1 163.8h2.8l-1.4 -2.4zM335.7 162h2.8l-1.4 -2.4zM334.8 159.9h2.8l-1.4 -2.4zM335.1 158h2.8l-1.4 -2.4zM336.7 156.4h2.8l-1.4 -2.4zM337.2 154.5h2.8l-1.4 -2.4zM336.8 152.4h2.8l-1.4 -2.4zM336.7 150.5h2.8l-1.4 -2.4zM338.6 149.2h2.8l-1.4 -2.4zM338.3 147.2h2.8l-1.4 -2.4zM339.5 145.4h2.8l-1.4 -2.4zM341.1 147.1h2.8l-1.4 -2.4zM341.3 149.5h2.8l-1.4 -2.4zM342.9 151.5h2.8l-1.4 -2.4zM342.3 153.9h2.8l-1.4 -2.4zM343.6 156h2.8l-1.4 -2.4zM343.7 158.2h2.8l-1.4 -2.4zM343.3 160.4h2.8l-1.4 -2.4zM343.6 162.5h2.8l-1.4 -2.4zM344.9 164.4h2.8l-1.4 -2.4zM345.1 166.5h2.8l-1.4 -2.4zM345.1 168.3h2.8l-1.4 -2.4zM345.1 170.2h2.8l-1.4 -2.4zM345.6 172h2.8l-1.4 -2.4zM346.2 173.7h2.8l-1.4 -2.4zM346.3 175.6h2.8l-1.4 -2.4zM345.7 177.5h2.8l-1.4 -2.4zM345.7 179.3h2.8l-1.4 -2.4zM347.3 181h2.8l-1.4 -2.4zM346.7 182.9h2.8l-1.4 -2.4zM346.6 184.8h2.8l-1.4 -2.4zM348 186.7h2.8l-1.4 -2.4zM347 188.9h2.8l-1.4 -2.4zM348.5 190.8h2.8l-1.4 -2.4zM348 193h2.8l-1.4 -2.4zM348.5 195.2h2.8l-1.4 -2.4zM348.7 197.5h2.8l-1.4 -2.4zM349.6 199.6h2.8l-1.4 -2.4zM350 201.9h2.8l-1.4 -2.4zM350.3 204.2h2.8l-1.4 -2.4zM351.5 206h2.8l-1.4 -2.4zM353.4 204.2h2.8l-1.4 -2.4zM353.9 201.8h2.8l-1.4 -2.4zM354.7 199.6h2.8l-1.4 -2.4zM354.5 197.7h2.8l-1.4 -2.4zM355.8 196.2h2.8l-1.4 -2.4zM356 194.5h2.8l-1.4 -2.4zM356 192.7h2.8l-1.4 -2.4zM357.1 191.2h2.8l-1.4 -2.4zM357.5 189.6h2.8l-1.4 -2.4zM357.3 187.8h2.8l-1.4 -2.4zM357.2 186h2.8l-1.4 -2.4zM358 184.5h2.8l-1.4 -2.4zM357.7 182.5h2.8l-1.4 -2.4zM358.1 180.7h2.8l-1.4 -2.4zM358.9 178.9h2.8l-1.4 -2.4zM358.6 177h2.8l-1.4 -2.4zM359.5 175.3h2.8l-1.4 -2.4zM359.9 173.4h2.8l-1.4 -2.4zM359.5 171.5h2.8l-1.4 -2.4zM360.8 169.8h2.8l-1.4 -2.4zM360.2 167.8h2.8l-1.4 -2.4zM361.6 166.1h2.8l-1.4 -2.4zM362 164.5h2.8l-1.4 -2.4zM361.9 162.7h2.8l-1.4 -2.4zM361.5 160.9h2.8l-1.4 -2.4zM362.5 159.4h2.8l-1.4 -2.4zM362.6 157.7h2.8l-1.4 -2.4zM363.9 156.2h2.8l-1.4 -2.4zM363 154.2h2.8l-1.4 -2.4zM364.6 152.8h2.8l-1.4 -2.4zM365.1 151.2h2.8l-1.4 -2.4zM365.6 148.8h2.8l-1.4 -2.4zM366.4 146.7h2.8l-1.4 -2.4z" fill="#23acdf"/>
<path d="M54.7 181.2h3l-1.5-2.6zM57 181.2h3l-1.5-2.6zM61.5 199.2h3l-1.5-2.6zM63.8 194.8h3l-1.5-2.6zM66.1 195.9h3l-1.5-2.6zM68.4 193.7h3l-1.5-2.6zM71.3 175.5h3l-1.5-2.6zM88.8 173.2h3l-1.5-2.6zM91.1 184.6h3l-1.5-2.6zM92.2 190.2h3l-1.5-2.6zM94.5 192.5h3l-1.5-2.6zM97.2 182.2h3l-1.5-2.6zM99.7 164.6h3l-1.5-2.6zM102.5 150.5h3l-1.5-2.6zM104.7 141.6h3l-1.5-2.6zM104 142.2h3l-1.5-2.6zM105 138.2h3l-1.5-2.6zM106.5 134.2h3l-1.5-2.6zM108.5 131.7h3l-1.5-2.6zM110.5 131.2h3l-1.5-2.6zM112 132.7h3l-1.5-2.6zM335.5 161h3l-1.5-2.6zM333.8 170h3l-1.5-2.6zM363.8 157.2h3l-1.5-2.6zM362.3 165.5h3l-1.5-2.6z" fill="#23acdf"/>
<polyline points="165.4,48.5 166.9,62.9 168.3,77.2 169.8,91.5 171.2,105.9 172.7,120.2 174.2,134.6 175.6,148.9 177.1,163.3 178.5,177.7 180,192 181.2,173.1 182.3,154.6 183.4,136.8 184.6,120 185.8,104.4 186.9,90.5 188.1,78.3 189.2,68.1 190.3,59.9 191.5,54 191.9,54.5 192.4,54.9 192.8,55.4 193.3,55.9 193.8,56.4 194.2,56.8 194.7,57.3 195.1,57.8 195.6,58.2 196,58.7 197.2,74.1 198.5,89.5 199.8,104.8 201,120.2 202.2,135.6 203.5,151 204.8,166.4 206,181.7 207.2,197.1 208.5,212.5 208.9,209.4 209.4,206.4 209.8,203.3 210.3,200.3 210.8,197.2 211.2,194.2 211.7,191.2 212.1,188.1 212.6,185.1 213,182" fill="none" stroke="#1760a5" stroke-width="2.0" stroke-linejoin="round" stroke-linecap="round"/>
<path d="M164.4 49.8h3.3l-1.6 -2.8zM162.9 51.2h3.3l-1.6 -2.8zM164 52.4h3.3l-1.6 -2.8zM163.2 53.8h3.3l-1.6 -2.8zM163.5 55.1h3.3l-1.6 -2.8zM165.1 56.3h3.3l-1.6 -2.8zM164 57.7h3.3l-1.6 -2.8zM163.8 59h3.3l-1.6 -2.8zM165.7 60.2h3.3l-1.6 -2.8zM165.2 61.5h3.3l-1.6 -2.8zM164.6 62.9h3.3l-1.6 -2.8zM165.9 64.1h3.3l-1.6 -2.8zM164.6 65.6h3.3l-1.6 -2.8zM165.9 66.7h3.3l-1.6 -2.8zM165 68.1h3.3l-1.6 -2.8zM166.5 69.3h3.3l-1.6 -2.8zM165.9 70.7h3.3l-1.6 -2.8zM165.2 72.1h3.3l-1.6 -2.8zM166.7 73.2h3.3l-1.6 -2.8zM166.7 74.6h3.3l-1.6 -2.8zM166.4 75.9h3.3l-1.6 -2.8zM166.9 77.2h3.3l-1.6 -2.8zM167.6 78.4h3.3l-1.6 -2.8zM167.4 79.8h3.3l-1.6 -2.8zM167.6 81.1h3.3l-1.6 -2.8zM166.2 82.5h3.3l-1.6 -2.8zM166.8 83.8h3.3l-1.6 -2.8zM166.5 85.1h3.3l-1.6 -2.8zM168.1 86.3h3.3l-1.6 -2.8zM167 87.7h3.3l-1.6 -2.8zM168.5 88.9h3.3l-1.6 -2.8zM167.8 90.3h3.3l-1.6 -2.8zM167.7 91.6h3.3l-1.6 -2.8zM168.4 92.8h3.3l-1.6 -2.8zM167.5 94.3h3.3l-1.6 -2.8zM168.3 95.5h3.3l-1.6 -2.8zM168.4 96.8h3.3l-1.6 -2.8zM167.9 98.2h3.3l-1.6 -2.8zM169.6 99.3h3.3l-1.6 -2.8zM167.9 100.8h3.3l-1.6 -2.8zM168.8 102h3.3l-1.6 -2.8zM169.4 103.3h3.3l-1.6 -2.8zM168.7 104.7h3.3l-1.6 -2.8zM169.9 105.9h3.3l-1.6 -2.8zM168.6 107.3h3.3l-1.6 -2.8zM169.6 108.5h3.3l-1.6 -2.8zM170.1 109.8h3.3l-1.6 -2.8zM169.5 111.2h3.3l-1.6 -2.8zM170.2 112.4h3.3l-1.6 -2.8zM170.9 113.7h3.3l-1.6 -2.8zM169.9 115.1h3.3l-1.6 -2.8zM171.4 116.3h3.3l-1.6 -2.8zM170 117.7h3.3l-1.6 -2.8zM171.3 118.9h3.3l-1.6 -2.8zM170.6 120.3h3.3l-1.6 -2.8zM170.1 121.7h3.3l-1.6 -2.8zM171 122.9h3.3l-1.6 -2.8zM171 124.2h3.3l-1.6 -2.8zM171.8 125.4h3.3l-1.6 -2.8zM172.6 126.7h3.3l-1.6 -2.8zM172.6 128h3.3l-1.6 -2.8zM172.5 129.3h3.3l-1.6 -2.8zM171.7 130.7h3.3l-1.6 -2.8zM172.2 132h3.3l-1.6 -2.8zM172.2 133.3h3.3l-1.6 -2.8zM171.6 134.7h3.3l-1.6 -2.8zM173.2 135.8h3.3l-1.6 -2.8zM173.2 137.2h3.3l-1.6 -2.8zM172.5 138.6h3.3l-1.6 -2.8zM173.9 139.7h3.3l-1.6 -2.8zM174 141h3.3l-1.6 -2.8zM173.5 142.4h3.3l-1.6 -2.8zM174.1 143.7h3.3l-1.6 -2.8zM173.7 145h3.3l-1.6 -2.8zM174.1 146.3h3.3l-1.6 -2.8zM173.5 147.7h3.3l-1.6 -2.8zM173.7 149h3.3l-1.6 -2.8zM174.6 150.2h3.3l-1.6 -2.8zM173.9 151.6h3.3l-1.6 -2.8zM174.3 152.9h3.3l-1.6 -2.8zM175.1 154.1h3.3l-1.6 -2.8zM173.6 155.6h3.3l-1.6 -2.8zM175.1 156.7h3.3l-1.6 -2.8zM175.5 158h3.3l-1.6 -2.8zM175.7 159.3h3.3l-1.6 -2.8zM174.8 160.7h3.3l-1.6 -2.8zM174.4 162.1h3.3l-1.6 -2.8zM174.7 163.4h3.3l-1.6 -2.8zM175.6 164.6h3.3l-1.6 -2.8zM176 165.9h3.3l-1.6 -2.8zM176.7 167.1h3.3l-1.6 -2.8zM175.5 168.6h3.3l-1.6 -2.8zM175.8 169.9h3.3l-1.6 -2.8zM176.4 171.1h3.3l-1.6 -2.8zM175.9 172.5h3.3l-1.6 -2.8zM176.5 173.7h3.3l-1.6 -2.8zM175.6 175.1h3.3l-1.6 -2.8zM176.2 176.4h3.3l-1.6 -2.8zM177.3 177.6h3.3l-1.6 -2.8zM176.1 179.1h3.3l-1.6 -2.8zM177.9 180.2h3.3l-1.6 -2.8zM177.1 181.6h3.3l-1.6 -2.8zM177.5 182.9h3.3l-1.6 -2.8zM177.9 184.1h3.3l-1.6 -2.8zM178.4 185.4h3.3l-1.6 -2.8zM177.1 186.9h3.3l-1.6 -2.8zM178.8 188h3.3l-1.6 -2.8zM177.9 189.4h3.3l-1.6 -2.8zM177.2 190.8h3.3l-1.6 -2.8zM178.9 191.9h3.3l-1.6 -2.8zM177.8 193.3h3.3l-1.6 -2.8zM178.6 192h3.3l-1.6 -2.8zM178.5 190.6h3.3l-1.6 -2.8zM178.9 189.3h3.3l-1.6 -2.8zM179.3 188h3.3l-1.6 -2.8zM178.1 186.5h3.3l-1.6 -2.8zM178.5 185.2h3.3l-1.6 -2.8zM178.5 183.9h3.3l-1.6 -2.8zM178.1 182.5h3.3l-1.6 -2.8zM179.9 181.2h3.3l-1.6 -2.8zM179.7 179.9h3.3l-1.6 -2.8zM179.7 178.5h3.3l-1.6 -2.8zM178.4 177.1h3.3l-1.6 -2.8zM180.1 175.8h3.3l-1.6 -2.8zM180 174.5h3.3l-1.6 -2.8zM179.5 173.1h3.3l-1.6 -2.8zM180.1 171.8h3.3l-1.6 -2.8zM179.7 170.5h3.3l-1.6 -2.8zM179.3 169.1h3.3l-1.6 -2.8zM179.1 167.8h3.3l-1.6 -2.8zM179.5 166.5h3.3l-1.6 -2.8zM179.2 165.1h3.3l-1.6 -2.8zM179.8 163.9h3.3l-1.6 -2.8zM180.7 162.6h3.3l-1.6 -2.8zM180.7 161.3h3.3l-1.6 -2.8zM181.1 160h3.3l-1.6 -2.8zM180.9 158.6h3.3l-1.6 -2.8zM180.1 157.2h3.3l-1.6 -2.8zM180.8 155.9h3.3l-1.6 -2.8zM180.6 154.6h3.3l-1.6 -2.8zM181.4 153.2h3.3l-1.6 -2.8zM181 151.8h3.3l-1.6 -2.8zM180.5 150.4h3.3l-1.6 -2.8zM181.4 149.1h3.3l-1.6 -2.8zM182.1 147.8h3.3l-1.6 -2.8zM180.7 146.3h3.3l-1.6 -2.8zM182.1 145h3.3l-1.6 -2.8zM180.5 143.5h3.3l-1.6 -2.8zM181.1 142.2h3.3l-1.6 -2.8zM181.1 140.8h3.3l-1.6 -2.8zM182.2 139.5h3.3l-1.6 -2.8zM182.7 138.2h3.3l-1.6 -2.8zM182.4 136.7h3.3l-1.6 -2.8zM181.6 135.3h3.3l-1.6 -2.8zM182.8 134h3.3l-1.6 -2.8zM181.8 132.5h3.3l-1.6 -2.8zM181.8 131.1h3.3l-1.6 -2.8zM183.2 129.7h3.3l-1.6 -2.8zM182.7 128.3h3.3l-1.6 -2.8zM183 126.9h3.3l-1.6 -2.8zM183 125.5h3.3l-1.6 -2.8zM183.7 124.1h3.3l-1.6 -2.8zM182.8 122.7h3.3l-1.6 -2.8zM183.6 121.3h3.3l-1.6 -2.8zM183.4 119.9h3.3l-1.6 -2.8zM183.9 118.5h3.3l-1.6 -2.8zM183.1 117h3.3l-1.6 -2.8zM183.8 115.7h3.3l-1.6 -2.8zM183.6 114.2h3.3l-1.6 -2.8zM183.2 112.8h3.3l-1.6 -2.8zM183.1 111.3h3.3l-1.6 -2.8zM184 110h3.3l-1.6 -2.8zM183 108.5h3.3l-1.6 -2.8zM184.8 107.2h3.3l-1.6 -2.8zM183.4 105.7h3.3l-1.6 -2.8zM183.3 104.3h3.3l-1.6 -2.8zM183.5 102.9h3.3l-1.6 -2.8zM185.3 101.6h3.3l-1.6 -2.8zM184.3 100.1h3.3l-1.6 -2.8zM184 98.7h3.3l-1.6 -2.8zM183.9 97.3h3.3l-1.6 -2.8zM184 95.9h3.3l-1.6 -2.8zM185.4 94.6h3.3l-1.6 -2.8zM185.4 93.2h3.3l-1.6 -2.8zM185.6 91.8h3.3l-1.6 -2.8zM185.8 90.5h3.3l-1.6 -2.8zM184.6 89h3.3l-1.6 -2.8zM185.8 87.7h3.3l-1.6 -2.8zM185.5 86.3h3.3l-1.6 -2.8zM186.5 85.1h3.3l-1.6 -2.8zM186.7 83.7h3.3l-1.6 -2.8zM186.9 82.4h3.3l-1.6 -2.8zM185.4 80.9h3.3l-1.6 -2.8zM187.1 79.7h3.3l-1.6 -2.8zM187.4 78.2h3.3l-1.6 -2.8zM187.6 76.8h3.3l-1.6 -2.8zM186.1 75.1h3.3l-1.6 -2.8zM186.5 73.7h3.3l-1.6 -2.8zM186.5 72.2h3.3l-1.6 -2.8zM186.5 70.7h3.3l-1.6 -2.8zM188.2 69.5h3.3l-1.6 -2.8zM188.4 68.1h3.3l-1.6 -2.8zM188.2 66.7h3.3l-1.6 -2.8zM188.8 65.4h3.3l-1.6 -2.8zM188.6 64h3.3l-1.6 -2.8zM188.1 62.5h3.3l-1.6 -2.8zM187.9 61.1h3.3l-1.6 -2.8zM188.2 59.6h3.3l-1.6 -2.8zM189.8 58.4h3.3l-1.6 -2.8zM189 56.7h3.3l-1.6 -2.8zM190.1 55.1h3.3l-1.6 -2.8zM190.4 55.7h3.3l-1.6 -2.8zM191.4 55.6h3.3l-1.6 -2.8zM191.6 56.4h3.3l-1.6 -2.8zM192 56.9h3.3l-1.6 -2.8zM191.8 58h3.3l-1.6 -2.8zM192.7 58h3.3l-1.6 -2.8zM193.3 58.4h3.3l-1.6 -2.8zM192.8 59.7h3.3l-1.6 -2.8zM193.9 59.6h3.3l-1.6 -2.8zM193.6 60.1h3.3l-1.6 -2.8zM194.2 61.4h3.3l-1.6 -2.8zM195.5 62.7h3.3l-1.6 -2.8zM194.9 64.2h3.3l-1.6 -2.8zM194.9 65.6h3.3l-1.6 -2.8zM194.4 67.1h3.3l-1.6 -2.8zM195.3 68.4h3.3l-1.6 -2.8zM194.7 69.8h3.3l-1.6 -2.8zM195.2 71.2h3.3l-1.6 -2.8zM195.9 72.6h3.3l-1.6 -2.8zM194.8 74.1h3.3l-1.6 -2.8zM196.4 75.3h3.3l-1.6 -2.8zM195.1 76.8h3.3l-1.6 -2.8zM196.5 78.1h3.3l-1.6 -2.8zM196.9 79.5h3.3l-1.6 -2.8zM196.6 80.9h3.3l-1.6 -2.8zM195.6 82.4h3.3l-1.6 -2.8zM195.3 83.9h3.3l-1.6 -2.8zM197.4 85.1h3.3l-1.6 -2.8zM196.5 86.6h3.3l-1.6 -2.8zM196.6 88h3.3l-1.6 -2.8zM196.1 89.4h3.3l-1.6 -2.8zM197.5 90.7h3.3l-1.6 -2.8zM197 92.2h3.3l-1.6 -2.8zM197.4 93.6h3.3l-1.6 -2.8zM196.5 95h3.3l-1.6 -2.8zM197.8 96.3h3.3l-1.6 -2.8zM196.5 97.8h3.3l-1.6 -2.8zM198 99.1h3.3l-1.6 -2.8zM198.2 100.5h3.3l-1.6 -2.8zM197.4 102h3.3l-1.6 -2.8zM197.9 103.4h3.3l-1.6 -2.8zM198.8 104.7h3.3l-1.6 -2.8zM197.8 106.2h3.3l-1.6 -2.8zM199 107.5h3.3l-1.6 -2.8zM197.8 109h3.3l-1.6 -2.8zM198 110.4h3.3l-1.6 -2.8zM198 111.8h3.3l-1.6 -2.8zM198.4 113.2h3.3l-1.6 -2.8zM199.1 114.5h3.3l-1.6 -2.8zM199.1 115.9h3.3l-1.6 -2.8zM199.2 117.3h3.3l-1.6 -2.8zM198.3 118.8h3.3l-1.6 -2.8zM200.1 120.1h3.3l-1.6 -2.8zM198.6 121.6h3.3l-1.6 -2.8zM200.4 122.9h3.3l-1.6 -2.8zM200.2 124.3h3.3l-1.6 -2.8zM200.2 125.7h3.3l-1.6 -2.8zM199 127.2h3.3l-1.6 -2.8zM199.9 128.5h3.3l-1.6 -2.8zM200.3 129.9h3.3l-1.6 -2.8zM199.4 131.4h3.3l-1.6 -2.8zM200.8 132.7h3.3l-1.6 -2.8zM200.5 134.1h3.3l-1.6 -2.8zM200.4 135.5h3.3l-1.6 -2.8zM200.1 137h3.3l-1.6 -2.8zM200.2 138.4h3.3l-1.6 -2.8zM200.5 139.7h3.3l-1.6 -2.8zM201.2 141.1h3.3l-1.6 -2.8zM201.4 142.5h3.3l-1.6 -2.8zM201.9 143.9h3.3l-1.6 -2.8zM200.6 145.4h3.3l-1.6 -2.8zM201.1 146.7h3.3l-1.6 -2.8zM201 148.1h3.3l-1.6 -2.8zM202.3 149.5h3.3l-1.6 -2.8zM201.9 150.9h3.3l-1.6 -2.8zM201.3 152.3h3.3l-1.6 -2.8zM201.8 153.7h3.3l-1.6 -2.8zM202.8 155h3.3l-1.6 -2.8zM202.3 156.5h3.3l-1.6 -2.8zM201.5 158h3.3l-1.6 -2.8zM202.9 159.2h3.3l-1.6 -2.8zM203.1 160.6h3.3l-1.6 -2.8zM203 162.1h3.3l-1.6 -2.8zM202.4 163.5h3.3l-1.6 -2.8zM202.2 164.9h3.3l-1.6 -2.8zM203.7 166.2h3.3l-1.6 -2.8zM203.8 167.6h3.3l-1.6 -2.8zM203.7 169h3.3l-1.6 -2.8zM203.7 170.4h3.3l-1.6 -2.8zM203.4 171.9h3.3l-1.6 -2.8zM204.2 173.2h3.3l-1.6 -2.8zM204 174.6h3.3l-1.6 -2.8zM204.4 176h3.3l-1.6 -2.8zM202.9 177.5h3.3l-1.6 -2.8zM203.6 178.9h3.3l-1.6 -2.8zM204.9 180.2h3.3l-1.6 -2.8zM203.3 181.7h3.3l-1.6 -2.8zM205.1 183h3.3l-1.6 -2.8zM204.7 184.4h3.3l-1.6 -2.8zM203.6 185.9h3.3l-1.6 -2.8zM204.1 187.3h3.3l-1.6 -2.8zM204.3 188.7h3.3l-1.6 -2.8zM205 190h3.3l-1.6 -2.8zM205.6 191.4h3.3l-1.6 -2.8zM204.9 192.9h3.3l-1.6 -2.8zM206 194.2h3.3l-1.6 -2.8zM206 195.6h3.3l-1.6 -2.8zM205.7 197h3.3l-1.6 -2.8zM206.5 198.4h3.3l-1.6 -2.8zM205.9 199.8h3.3l-1.6 -2.8zM205.2 201.3h3.3l-1.6 -2.8zM205.6 202.7h3.3l-1.6 -2.8zM206.1 204h3.3l-1.6 -2.8zM205.9 205.5h3.3l-1.6 -2.8zM206.4 206.8h3.3l-1.6 -2.8zM207.1 208.2h3.3l-1.6 -2.8zM206.3 209.6h3.3l-1.6 -2.8zM206.8 211h3.3l-1.6 -2.8zM206.3 212.5h3.3l-1.6 -2.8zM207.7 213.9h3.3l-1.6 -2.8zM206.9 212.3h3.3l-1.6 -2.8zM207.4 210.8h3.3l-1.6 -2.8zM208 209.3h3.3l-1.6 -2.8zM207.6 207.7h3.3l-1.6 -2.8zM207.4 206.1h3.3l-1.6 -2.8zM208.6 204.7h3.3l-1.6 -2.8zM209.2 203.3h3.3l-1.6 -2.8zM209.2 201.7h3.3l-1.6 -2.8zM209.3 200.2h3.3l-1.6 -2.8zM209.8 198.7h3.3l-1.6 -2.8zM209.7 197.1h3.3l-1.6 -2.8zM209.8 195.6h3.3l-1.6 -2.8zM209.7 194h3.3l-1.6 -2.8zM209.6 192.4h3.3l-1.6 -2.8zM210.5 191h3.3l-1.6 -2.8zM209.7 189.3h3.3l-1.6 -2.8zM210.5 187.9h3.3l-1.6 -2.8zM211.5 186.5h3.3l-1.6 -2.8zM211.5 184.9h3.3l-1.6 -2.8z" fill="#1760a5"/>
<polyline points="214.7,104.4 215,103.2 215.2,102 215.5,100.8 215.8,99.6 216.1,98.4 216.3,97.2 216.6,96 216.9,94.8 217.1,93.6 217.4,92.4" fill="none" stroke="#1760a5" stroke-width="2.0" stroke-linejoin="round" stroke-linecap="round"/>
<path d="M213.3 105.8h3.3l-1.6 -2.8zM212.8 104.4h3.3l-1.6 -2.8zM213.4 103.3h3.3l-1.6 -2.8zM213.8 102.1h3.3l-1.6 -2.8zM214.4 101h3.3l-1.6 -2.8zM214.2 99.7h3.3l-1.6 -2.8zM215 98.6h3.3l-1.6 -2.8zM215.8 97.5h3.3l-1.6 -2.8zM214.6 96h3.3l-1.6 -2.8zM215.8 95h3.3l-1.6 -2.8z" fill="#1760a5"/>
<polyline points="219.5,67 220,65.3 220.5,63.5 221,61.8 221.5,60 222,58.3 222.5,56.6 223,54.8 223.5,53.1 224,51.3 224.5,49.6 225.9,68.4 227.2,87.2 228.6,106 229.9,124.8 231.3,143.6 232.7,162.4 234,181.2 235.4,200 236.7,218.8 238.1,237.6 239.3,217.2 240.6,197.1 241.8,177.8 243.1,159.6 244.3,142.7 245.6,127.6 246.8,114.4 248.1,103.3 249.3,94.5 250.6,88.1 252.1,102.6 253.6,117.1 255,131.6 256.5,146.1 258,160.6 259.5,175 261,189.5 262.4,204 263.9,218.5 265.4,233 266.8,212.5 268.2,192.4 269.6,173 271,154.7 272.4,137.8 273.9,122.6 275.3,109.4 276.7,98.3 278.1,89.5 279.5,83 279.8,83.5 280,84 280.2,84.5 280.5,85 280.8,85.5 281,86 281.2,86.5 281.5,87 281.8,87.5 282,88 282.2,86 282.3,84 282.5,82 282.6,80 282.8,78 283,76 283.1,74 283.3,72 283.4,70 283.6,68 284.7,83.6 285.9,99.2 287,114.8 288.2,130.4 289.3,146 290.4,161.6 291.6,177.2 292.7,192.8 293.9,208.4 295,224 296.5,204.6 297.9,185.6 299.4,167.3 300.9,150.1 302.4,134.1 303.8,119.8 305.3,107.3 306.8,96.8 308.2,88.5 309.7,82.4 311.1,97.3 312.4,112.3 313.8,127.2 315.2,142.2 316.5,157.1 317.9,172 319.3,187 320.7,201.9 322,216.9 323.4,231.8 324.8,212.5 326.1,193.5 327.5,175.2 328.8,158 330.2,142.1 331.6,127.7 332.9,115.3 334.3,104.8 335.6,96.5 337,90.4 337.1,90.6 337.3,90.7 337.4,90.9 337.6,91 337.8,91.2 337.9,91.4 338.1,91.5 338.2,91.7 338.4,91.8 338.5,92 338.7,91.6 338.9,91.2 339.1,90.8 339.3,90.4 339.4,90 339.6,89.7 339.8,89.3 340,88.9 340.2,88.5 340.4,88.1 341.6,102 342.9,115.9 344.1,129.9 345.4,143.8 346.6,157.7 347.9,171.6 349.1,185.5 350.4,199.5 351.6,213.4 352.9,227.3 354.5,206.3 356.1,185.8 357.7,166 359.3,147.3 360.9,130 362.6,114.5 364.2,101 365.8,89.6 367.4,80.6 369,74 369.4,82.5 369.9,91 370.3,99.5 370.8,108 371.2,116.5 371.6,125 372.1,133.5 372.5,142 373,150.5 373.4,159" fill="none" stroke="#1760a5" stroke-width="2.0" stroke-linejoin="round" stroke-linecap="round"/>
<path d="M218.4 68.5h3.3l-1.6 -2.8zM218.1 66.5h3.3l-1.6 -2.8zM218.8 64.8h3.3l-1.6 -2.8zM220.3 63.4h3.3l-1.6 -2.8zM219 61.1h3.3l-1.6 -2.8zM220.4 59.6h3.3l-1.6 -2.8zM220.2 57.7h3.3l-1.6 -2.8zM221.9 56.3h3.3l-1.6 -2.8zM222.7 54.6h3.3l-1.6 -2.8zM222.4 52.7h3.3l-1.6 -2.8zM223.6 50.9h3.3l-1.6 -2.8zM222.8 52.3h3.3l-1.6 -2.8zM223 53.6h3.3l-1.6 -2.8zM222.7 55h3.3l-1.6 -2.8zM223.2 56.3h3.3l-1.6 -2.8zM223.1 57.7h3.3l-1.6 -2.8zM222.8 59h3.3l-1.6 -2.8zM223.5 60.3h3.3l-1.6 -2.8zM223.8 61.6h3.3l-1.6 -2.8zM222.8 63.1h3.3l-1.6 -2.8zM224.4 64.3h3.3l-1.6 -2.8zM223.6 65.7h3.3l-1.6 -2.8zM224.2 67h3.3l-1.6 -2.8zM223.6 68.4h3.3l-1.6 -2.8zM225 69.7h3.3l-1.6 -2.8zM223.3 71.1h3.3l-1.6 -2.8zM224.7 72.4h3.3l-1.6 -2.8zM225.4 73.7h3.3l-1.6 -2.8zM225 75.1h3.3l-1.6 -2.8zM224.9 76.4h3.3l-1.6 -2.8zM225.8 77.7h3.3l-1.6 -2.8zM225.1 79.1h3.3l-1.6 -2.8zM225.1 80.5h3.3l-1.6 -2.8zM224.7 81.8h3.3l-1.6 -2.8zM225.5 83.1h3.3l-1.6 -2.8zM225.7 84.5h3.3l-1.6 -2.8zM225.9 85.8h3.3l-1.6 -2.8zM225 87.2h3.3l-1.6 -2.8zM224.7 88.6h3.3l-1.6 -2.8zM225.6 89.9h3.3l-1.6 -2.8zM226.3 91.2h3.3l-1.6 -2.8zM225.3 92.6h3.3l-1.6 -2.8zM226.2 93.9h3.3l-1.6 -2.8zM226.6 95.2h3.3l-1.6 -2.8zM226.9 96.5h3.3l-1.6 -2.8zM225.7 98h3.3l-1.6 -2.8zM225.7 99.3h3.3l-1.6 -2.8zM226.2 100.6h3.3l-1.6 -2.8zM226.6 101.9h3.3l-1.6 -2.8zM226.5 103.3h3.3l-1.6 -2.8zM227.3 104.6h3.3l-1.6 -2.8zM225.9 106h3.3l-1.6 -2.8zM227.2 107.3h3.3l-1.6 -2.8zM226.8 108.7h3.3l-1.6 -2.8zM226.5 110.1h3.3l-1.6 -2.8zM226.6 111.4h3.3l-1.6 -2.8zM227.4 112.7h3.3l-1.6 -2.8zM227.8 114h3.3l-1.6 -2.8zM227.4 115.4h3.3l-1.6 -2.8zM228.4 116.7h3.3l-1.6 -2.8zM227 118.1h3.3l-1.6 -2.8zM228.1 119.4h3.3l-1.6 -2.8zM227.2 120.8h3.3l-1.6 -2.8zM228.5 122.1h3.3l-1.6 -2.8zM228.3 123.4h3.3l-1.6 -2.8zM228.7 124.7h3.3l-1.6 -2.8zM228.4 126.1h3.3l-1.6 -2.8zM229 127.4h3.3l-1.6 -2.8zM229.5 128.7h3.3l-1.6 -2.8zM228.1 130.2h3.3l-1.6 -2.8zM229.1 131.5h3.3l-1.6 -2.8zM229.3 132.8h3.3l-1.6 -2.8zM229.3 134.1h3.3l-1.6 -2.8zM229 135.5h3.3l-1.6 -2.8zM229.2 136.9h3.3l-1.6 -2.8zM228.9 138.2h3.3l-1.6 -2.8zM228.9 139.6h3.3l-1.6 -2.8zM229.6 140.9h3.3l-1.6 -2.8zM228.6 142.3h3.3l-1.6 -2.8zM228.8 143.6h3.3l-1.6 -2.8zM230.5 144.9h3.3l-1.6 -2.8zM229.1 146.3h3.3l-1.6 -2.8zM229 147.7h3.3l-1.6 -2.8zM229.4 149h3.3l-1.6 -2.8zM230.8 150.2h3.3l-1.6 -2.8zM229.5 151.7h3.3l-1.6 -2.8zM230 153h3.3l-1.6 -2.8zM231.3 154.3h3.3l-1.6 -2.8zM231.4 155.6h3.3l-1.6 -2.8zM229.6 157.1h3.3l-1.6 -2.8zM230.3 158.4h3.3l-1.6 -2.8zM231.2 159.7h3.3l-1.6 -2.8zM231.6 161h3.3l-1.6 -2.8zM231.6 162.3h3.3l-1.6 -2.8zM231.5 163.7h3.3l-1.6 -2.8zM230.6 165.1h3.3l-1.6 -2.8zM231.5 166.4h3.3l-1.6 -2.8zM232 167.7h3.3l-1.6 -2.8zM230.6 169.1h3.3l-1.6 -2.8zM230.9 170.5h3.3l-1.6 -2.8zM232.3 171.7h3.3l-1.6 -2.8zM230.9 173.2h3.3l-1.6 -2.8zM231.6 174.5h3.3l-1.6 -2.8zM231.3 175.8h3.3l-1.6 -2.8zM231.6 177.2h3.3l-1.6 -2.8zM231.3 178.5h3.3l-1.6 -2.8zM231.6 179.9h3.3l-1.6 -2.8zM231.6 181.2h3.3l-1.6 -2.8zM233 182.5h3.3l-1.6 -2.8zM232.1 183.9h3.3l-1.6 -2.8zM232.5 185.2h3.3l-1.6 -2.8zM232.2 186.6h3.3l-1.6 -2.8zM232.9 187.9h3.3l-1.6 -2.8zM232.1 189.3h3.3l-1.6 -2.8zM232.8 190.6h3.3l-1.6 -2.8zM233.5 191.9h3.3l-1.6 -2.8zM233.7 193.2h3.3l-1.6 -2.8zM234 194.6h3.3l-1.6 -2.8zM233.4 195.9h3.3l-1.6 -2.8zM234.3 197.2h3.3l-1.6 -2.8zM233.6 198.6h3.3l-1.6 -2.8zM234.3 199.9h3.3l-1.6 -2.8zM233.7 201.3h3.3l-1.6 -2.8zM233.8 202.7h3.3l-1.6 -2.8zM233.8 204h3.3l-1.6 -2.8zM233.3 205.4h3.3l-1.6 -2.8zM235.1 206.6h3.3l-1.6 -2.8zM233.5 208.1h3.3l-1.6 -2.8zM234.4 209.4h3.3l-1.6 -2.8zM234.3 210.7h3.3l-1.6 -2.8zM234.2 212.1h3.3l-1.6 -2.8zM233.9 213.5h3.3l-1.6 -2.8zM235 214.7h3.3l-1.6 -2.8zM235 216.1h3.3l-1.6 -2.8zM234 217.5h3.3l-1.6 -2.8zM235.8 218.7h3.3l-1.6 -2.8zM234.8 220.1h3.3l-1.6 -2.8zM234.9 221.5h3.3l-1.6 -2.8zM236.2 222.7h3.3l-1.6 -2.8zM235.2 224.2h3.3l-1.6 -2.8zM235.1 225.5h3.3l-1.6 -2.8zM234.7 226.9h3.3l-1.6 -2.8zM236 228.2h3.3l-1.6 -2.8zM234.8 229.6h3.3l-1.6 -2.8zM235.8 230.9h3.3l-1.6 -2.8zM236 232.2h3.3l-1.6 -2.8zM235.3 233.6h3.3l-1.6 -2.8zM237.1 234.8h3.3l-1.6 -2.8zM235.8 236.3h3.3l-1.6 -2.8zM236.1 237.6h3.3l-1.6 -2.8zM236.1 238.9h3.3l-1.6 -2.8zM237.3 237.6h3.3l-1.6 -2.8zM236.3 236.2h3.3l-1.6 -2.8zM236.6 234.8h3.3l-1.6 -2.8zM236.8 233.5h3.3l-1.6 -2.8zM237.4 232.1h3.3l-1.6 -2.8zM236.4 230.7h3.3l-1.6 -2.8zM236.9 229.4h3.3l-1.6 -2.8zM237 228h3.3l-1.6 -2.8zM237.3 226.7h3.3l-1.6 -2.8zM237.9 225.3h3.3l-1.6 -2.8zM237 223.9h3.3l-1.6 -2.8zM238.1 222.6h3.3l-1.6 -2.8zM237.3 221.2h3.3l-1.6 -2.8zM237.6 219.8h3.3l-1.6 -2.8zM237.2 218.5h3.3l-1.6 -2.8zM237.8 217.1h3.3l-1.6 -2.8zM238.8 215.9h3.3l-1.6 -2.8zM238.3 214.5h3.3l-1.6 -2.8zM238.6 213.2h3.3l-1.6 -2.8zM237.8 211.8h3.3l-1.6 -2.8zM237.8 210.4h3.3l-1.6 -2.8zM237.9 209.1h3.3l-1.6 -2.8zM238.5 207.8h3.3l-1.6 -2.8zM238.7 206.5h3.3l-1.6 -2.8zM239.1 205.1h3.3l-1.6 -2.8zM237.7 203.7h3.3l-1.6 -2.8zM239.1 202.5h3.3l-1.6 -2.8zM239.6 201.1h3.3l-1.6 -2.8zM239 199.8h3.3l-1.6 -2.8zM238.1 198.4h3.3l-1.6 -2.8zM238.6 197h3.3l-1.6 -2.8zM238.1 195.6h3.3l-1.6 -2.8zM238.6 194.2h3.3l-1.6 -2.8zM240.1 193h3.3l-1.6 -2.8zM239.6 191.5h3.3l-1.6 -2.8zM239.8 190.2h3.3l-1.6 -2.8zM240.2 188.8h3.3l-1.6 -2.8zM240.5 187.4h3.3l-1.6 -2.8zM240 186h3.3l-1.6 -2.8zM240.1 184.6h3.3l-1.6 -2.8zM240.2 183.3h3.3l-1.6 -2.8zM240.4 181.9h3.3l-1.6 -2.8zM240.3 180.5h3.3l-1.6 -2.8zM240.6 179.1h3.3l-1.6 -2.8zM239.7 177.8h3.3l-1.6 -2.8zM240.7 176.5h3.3l-1.6 -2.8zM240.4 175.2h3.3l-1.6 -2.8zM241.1 173.9h3.3l-1.6 -2.8zM239.9 172.5h3.3l-1.6 -2.8zM240.1 171.2h3.3l-1.6 -2.8zM239.9 169.9h3.3l-1.6 -2.8zM241.5 168.7h3.3l-1.6 -2.8zM241.8 167.4h3.3l-1.6 -2.8zM241.4 166.1h3.3l-1.6 -2.8zM240.9 164.8h3.3l-1.6 -2.8zM241.9 163.5h3.3l-1.6 -2.8zM241.9 162.2h3.3l-1.6 -2.8zM241.6 160.9h3.3l-1.6 -2.8zM241.1 159.4h3.3l-1.6 -2.8zM241.3 158h3.3l-1.6 -2.8zM241.6 156.7h3.3l-1.6 -2.8zM241.5 155.2h3.3l-1.6 -2.8zM241.8 153.9h3.3l-1.6 -2.8zM242.4 152.5h3.3l-1.6 -2.8zM243 151.1h3.3l-1.6 -2.8zM241.4 149.6h3.3l-1.6 -2.8zM242.5 148.3h3.3l-1.6 -2.8zM241.6 146.8h3.3l-1.6 -2.8zM241.8 145.4h3.3l-1.6 -2.8zM243.3 144.1h3.3l-1.6 -2.8zM243 142.7h3.3l-1.6 -2.8zM243.8 141.4h3.3l-1.6 -2.8zM242.9 139.9h3.3l-1.6 -2.8zM242.2 138.5h3.3l-1.6 -2.8zM243 137.1h3.3l-1.6 -2.8zM243.6 135.8h3.3l-1.6 -2.8zM244.4 134.5h3.3l-1.6 -2.8zM244.6 133.1h3.3l-1.6 -2.8zM243.7 131.7h3.3l-1.6 -2.8zM243.7 130.3h3.3l-1.6 -2.8zM243.2 128.8h3.3l-1.6 -2.8zM244.4 127.6h3.3l-1.6 -2.8zM243.6 126.2h3.3l-1.6 -2.8zM243.6 124.9h3.3l-1.6 -2.8zM243.5 123.5h3.3l-1.6 -2.8zM243.6 122.2h3.3l-1.6 -2.8zM245.1 121h3.3l-1.6 -2.8zM244.1 119.6h3.3l-1.6 -2.8zM245.9 118.4h3.3l-1.6 -2.8zM244.3 117h3.3l-1.6 -2.8zM245.9 115.8h3.3l-1.6 -2.8zM244.6 114.2h3.3l-1.6 -2.8zM244.6 112.8h3.3l-1.6 -2.8zM246.1 111.6h3.3l-1.6 -2.8zM245.3 110.1h3.3l-1.6 -2.8zM246.4 108.8h3.3l-1.6 -2.8zM245.5 107.3h3.3l-1.6 -2.8zM245.4 105.9h3.3l-1.6 -2.8zM247 104.7h3.3l-1.6 -2.8zM247.1 103.2h3.3l-1.6 -2.8zM247.6 101.8h3.3l-1.6 -2.8zM247.5 100.3h3.3l-1.6 -2.8zM246.5 98.7h3.3l-1.6 -2.8zM247.7 97.4h3.3l-1.6 -2.8zM248.1 95.9h3.3l-1.6 -2.8zM247.9 94.5h3.3l-1.6 -2.8zM249 93.4h3.3l-1.6 -2.8zM248 91.9h3.3l-1.6 -2.8zM249.6 90.9h3.3l-1.6 -2.8zM248.5 89.5h3.3l-1.6 -2.8zM250.1 90.6h3.3l-1.6 -2.8zM250.2 92h3.3l-1.6 -2.8zM249.1 93.4h3.3l-1.6 -2.8zM248.9 94.8h3.3l-1.6 -2.8zM250.5 95.9h3.3l-1.6 -2.8zM250.1 97.3h3.3l-1.6 -2.8zM249.4 98.7h3.3l-1.6 -2.8zM250.7 99.9h3.3l-1.6 -2.8zM249.4 101.3h3.3l-1.6 -2.8zM250.3 102.6h3.3l-1.6 -2.8zM251.3 103.8h3.3l-1.6 -2.8zM250.8 105.2h3.3l-1.6 -2.8zM250.5 106.6h3.3l-1.6 -2.8zM251 107.8h3.3l-1.6 -2.8zM250.6 109.2h3.3l-1.6 -2.8zM251.8 110.4h3.3l-1.6 -2.8zM250.6 111.9h3.3l-1.6 -2.8zM251.6 113.1h3.3l-1.6 -2.8zM251.2 114.5h3.3l-1.6 -2.8zM251.4 115.8h3.3l-1.6 -2.8zM251.9 117.1h3.3l-1.6 -2.8zM252.1 118.4h3.3l-1.6 -2.8zM251.5 119.8h3.3l-1.6 -2.8zM251.3 121.1h3.3l-1.6 -2.8zM251.7 122.4h3.3l-1.6 -2.8zM252.3 123.7h3.3l-1.6 -2.8zM253 124.9h3.3l-1.6 -2.8zM253.6 126.2h3.3l-1.6 -2.8zM251.9 127.7h3.3l-1.6 -2.8zM252.6 129h3.3l-1.6 -2.8zM252.5 130.3h3.3l-1.6 -2.8zM253.6 131.5h3.3l-1.6 -2.8zM253.2 132.9h3.3l-1.6 -2.8zM252.6 134.3h3.3l-1.6 -2.8zM253 135.6h3.3l-1.6 -2.8zM253.6 136.9h3.3l-1.6 -2.8zM254.3 138.1h3.3l-1.6 -2.8zM254.2 139.5h3.3l-1.6 -2.8zM253.4 140.9h3.3l-1.6 -2.8zM254.6 142.1h3.3l-1.6 -2.8zM254.1 143.5h3.3l-1.6 -2.8zM254.4 144.8h3.3l-1.6 -2.8zM253.9 146.1h3.3l-1.6 -2.8zM254.3 147.4h3.3l-1.6 -2.8zM255.4 148.7h3.3l-1.6 -2.8zM256.1 149.9h3.3l-1.6 -2.8zM255.7 151.3h3.3l-1.6 -2.8zM255.6 152.6h3.3l-1.6 -2.8zM255.4 154h3.3l-1.6 -2.8zM255 155.3h3.3l-1.6 -2.8zM255 156.7h3.3l-1.6 -2.8zM256.9 157.8h3.3l-1.6 -2.8zM255.4 159.3h3.3l-1.6 -2.8zM255.6 160.6h3.3l-1.6 -2.8zM255.6 161.9h3.3l-1.6 -2.8zM256.3 163.2h3.3l-1.6 -2.8zM257.1 164.5h3.3l-1.6 -2.8zM256.1 165.9h3.3l-1.6 -2.8zM256.3 167.2h3.3l-1.6 -2.8zM256.7 168.5h3.3l-1.6 -2.8zM256.3 169.9h3.3l-1.6 -2.8zM257.6 171.1h3.3l-1.6 -2.8zM258.3 172.3h3.3l-1.6 -2.8zM257.5 173.7h3.3l-1.6 -2.8zM257.1 175.1h3.3l-1.6 -2.8zM258.4 176.3h3.3l-1.6 -2.8zM257.5 177.7h3.3l-1.6 -2.8zM257.2 179.1h3.3l-1.6 -2.8zM258.8 180.3h3.3l-1.6 -2.8zM258.2 181.7h3.3l-1.6 -2.8zM258.1 183h3.3l-1.6 -2.8zM258.7 184.3h3.3l-1.6 -2.8zM259.4 185.5h3.3l-1.6 -2.8zM259.4 186.8h3.3l-1.6 -2.8zM258.5 188.3h3.3l-1.6 -2.8zM258.6 189.6h3.3l-1.6 -2.8zM259.4 190.8h3.3l-1.6 -2.8zM260.3 192.1h3.3l-1.6 -2.8zM259 193.5h3.3l-1.6 -2.8zM259.2 194.9h3.3l-1.6 -2.8zM260.4 196.1h3.3l-1.6 -2.8zM259.8 197.5h3.3l-1.6 -2.8zM259.3 198.8h3.3l-1.6 -2.8zM259.5 200.1h3.3l-1.6 -2.8zM260.3 201.4h3.3l-1.6 -2.8zM260.6 202.7h3.3l-1.6 -2.8zM260.5 204h3.3l-1.6 -2.8zM261.4 205.3h3.3l-1.6 -2.8zM261.5 206.6h3.3l-1.6 -2.8zM261.7 207.9h3.3l-1.6 -2.8zM260.8 209.3h3.3l-1.6 -2.8zM261.6 210.6h3.3l-1.6 -2.8zM261.3 211.9h3.3l-1.6 -2.8zM261.8 213.2h3.3l-1.6 -2.8zM261.7 214.6h3.3l-1.6 -2.8zM262.6 215.8h3.3l-1.6 -2.8zM262.9 217.1h3.3l-1.6 -2.8zM261.1 218.6h3.3l-1.6 -2.8zM262.5 219.8h3.3l-1.6 -2.8zM263.2 221.1h3.3l-1.6 -2.8zM262.3 222.5h3.3l-1.6 -2.8zM262.1 223.8h3.3l-1.6 -2.8zM263.5 225h3.3l-1.6 -2.8zM262.7 226.4h3.3l-1.6 -2.8zM263.4 227.7h3.3l-1.6 -2.8zM263.2 229.1h3.3l-1.6 -2.8zM264.3 230.3h3.3l-1.6 -2.8zM264.4 231.6h3.3l-1.6 -2.8zM262.6 233.1h3.3l-1.6 -2.8zM264.5 234.4h3.3l-1.6 -2.8zM263.8 233h3.3l-1.6 -2.8zM264.1 231.6h3.3l-1.6 -2.8zM263.6 230.2h3.3l-1.6 -2.8zM264.7 228.9h3.3l-1.6 -2.8zM264.1 227.5h3.3l-1.6 -2.8zM265.2 226.2h3.3l-1.6 -2.8zM264.9 224.8h3.3l-1.6 -2.8zM265.1 223.4h3.3l-1.6 -2.8zM265.5 222.1h3.3l-1.6 -2.8zM264.2 220.6h3.3l-1.6 -2.8zM263.9 219.2h3.3l-1.6 -2.8zM264.3 217.9h3.3l-1.6 -2.8zM264.3 216.5h3.3l-1.6 -2.8zM264.2 215.1h3.3l-1.6 -2.8zM264.3 213.8h3.3l-1.6 -2.8zM265.4 212.5h3.3l-1.6 -2.8zM266.1 211.2h3.3l-1.6 -2.8zM265.4 209.8h3.3l-1.6 -2.8zM266.4 208.5h3.3l-1.6 -2.8zM266.4 207.2h3.3l-1.6 -2.8zM264.9 205.7h3.3l-1.6 -2.8zM266 204.4h3.3l-1.6 -2.8zM265.7 203.1h3.3l-1.6 -2.8zM265.2 201.7h3.3l-1.6 -2.8zM267 200.5h3.3l-1.6 -2.8zM265.7 199h3.3l-1.6 -2.8zM266.4 197.7h3.3l-1.6 -2.8zM266.7 196.4h3.3l-1.6 -2.8zM267.4 195.1h3.3l-1.6 -2.8zM266.9 193.7h3.3l-1.6 -2.8zM266.5 192.3h3.3l-1.6 -2.8zM266.7 190.9h3.3l-1.6 -2.8zM266.2 189.5h3.3l-1.6 -2.8zM267.9 188.2h3.3l-1.6 -2.8zM268.1 186.8h3.3l-1.6 -2.8zM266.6 185.3h3.3l-1.6 -2.8zM266.4 183.9h3.3l-1.6 -2.8zM266.9 182.6h3.3l-1.6 -2.8zM267.2 181.2h3.3l-1.6 -2.8zM268.4 179.9h3.3l-1.6 -2.8zM268.5 178.5h3.3l-1.6 -2.8zM268.5 177.1h3.3l-1.6 -2.8zM267 175.6h3.3l-1.6 -2.8zM268.6 174.3h3.3l-1.6 -2.8zM268.5 173h3.3l-1.6 -2.8zM268.5 171.7h3.3l-1.6 -2.8zM269.3 170.5h3.3l-1.6 -2.8zM267.5 169h3.3l-1.6 -2.8zM267.8 167.7h3.3l-1.6 -2.8zM269.1 166.5h3.3l-1.6 -2.8zM269.6 165.2h3.3l-1.6 -2.8zM269.1 163.9h3.3l-1.6 -2.8zM268.5 162.5h3.3l-1.6 -2.8zM269.2 161.3h3.3l-1.6 -2.8zM269.6 160h3.3l-1.6 -2.8zM268.4 158.6h3.3l-1.6 -2.8zM268.9 157.3h3.3l-1.6 -2.8zM268.9 156h3.3l-1.6 -2.8zM268.7 154.6h3.3l-1.6 -2.8zM269.6 153.4h3.3l-1.6 -2.8zM269.1 152.1h3.3l-1.6 -2.8zM269.3 150.8h3.3l-1.6 -2.8zM269.2 149.5h3.3l-1.6 -2.8zM270.4 148.2h3.3l-1.6 -2.8zM269.2 146.8h3.3l-1.6 -2.8zM270.7 145.7h3.3l-1.6 -2.8zM269.8 144.3h3.3l-1.6 -2.8zM269.5 142.9h3.3l-1.6 -2.8zM271.4 141.8h3.3l-1.6 -2.8zM270.1 140.4h3.3l-1.6 -2.8zM271.7 139.2h3.3l-1.6 -2.8zM271.7 137.8h3.3l-1.6 -2.8zM271.8 136.4h3.3l-1.6 -2.8zM270.5 134.9h3.3l-1.6 -2.8zM271.2 133.6h3.3l-1.6 -2.8zM270.6 132.1h3.3l-1.6 -2.8zM272.4 130.9h3.3l-1.6 -2.8zM272.4 129.5h3.3l-1.6 -2.8zM272.1 128.1h3.3l-1.6 -2.8zM271.9 126.7h3.3l-1.6 -2.8zM271.8 125.3h3.3l-1.6 -2.8zM272.9 124h3.3l-1.6 -2.8zM272.3 122.6h3.3l-1.6 -2.8zM272.7 121.3h3.3l-1.6 -2.8zM271.9 119.9h3.3l-1.6 -2.8zM272.2 118.6h3.3l-1.6 -2.8zM272 117.2h3.3l-1.6 -2.8zM273.5 116h3.3l-1.6 -2.8zM273.3 114.7h3.3l-1.6 -2.8zM272.6 113.3h3.3l-1.6 -2.8zM274.2 112.1h3.3l-1.6 -2.8zM273.2 110.6h3.3l-1.6 -2.8zM273.6 109.3h3.3l-1.6 -2.8zM273.3 107.8h3.3l-1.6 -2.8zM273.7 106.5h3.3l-1.6 -2.8zM275 105.2h3.3l-1.6 -2.8zM274.2 103.7h3.3l-1.6 -2.8zM274 102.3h3.3l-1.6 -2.8zM274.8 101h3.3l-1.6 -2.8zM274.7 99.5h3.3l-1.6 -2.8zM276.1 98.2h3.3l-1.6 -2.8zM274.7 96.5h3.3l-1.6 -2.8zM276.7 95.3h3.3l-1.6 -2.8zM275.1 93.6h3.3l-1.6 -2.8zM277 92.4h3.3l-1.6 -2.8zM276.8 90.8h3.3l-1.6 -2.8zM276.2 89.4h3.3l-1.6 -2.8zM277 88.2h3.3l-1.6 -2.8zM276.9 86.8h3.3l-1.6 -2.8zM277.1 85.5h3.3l-1.6 -2.8zM278.4 84.1h3.3l-1.6 -2.8zM278.3 84.7h3.3l-1.6 -2.8zM277.5 85.8h3.3l-1.6 -2.8zM277.7 86.3h3.3l-1.6 -2.8zM278.1 86.7h3.3l-1.6 -2.8zM279.8 86.5h3.3l-1.6 -2.8zM279.7 87.1h3.3l-1.6 -2.8zM278.9 88.2h3.3l-1.6 -2.8zM280.6 87.9h3.3l-1.6 -2.8zM279.7 89h3.3l-1.6 -2.8zM279.9 89.3h3.3l-1.6 -2.8zM281.5 87.4h3.3l-1.6 -2.8zM279.7 85.2h3.3l-1.6 -2.8zM281.4 83.4h3.3l-1.6 -2.8zM280.7 81.3h3.3l-1.6 -2.8zM280.4 79.3h3.3l-1.6 -2.8zM280.3 77.2h3.3l-1.6 -2.8zM282.1 75.4h3.3l-1.6 -2.8zM281.7 73.3h3.3l-1.6 -2.8zM281.2 71.3h3.3l-1.6 -2.8zM282.1 69.3h3.3l-1.6 -2.8zM281.2 70.7h3.3l-1.6 -2.8zM282.7 71.9h3.3l-1.6 -2.8zM282.1 73.2h3.3l-1.6 -2.8zM283.1 74.5h3.3l-1.6 -2.8zM283.1 75.8h3.3l-1.6 -2.8zM282 77.2h3.3l-1.6 -2.8zM282.2 78.5h3.3l-1.6 -2.8zM283.3 79.7h3.3l-1.6 -2.8zM283.6 81h3.3l-1.6 -2.8zM283.7 82.3h3.3l-1.6 -2.8zM282.8 83.6h3.3l-1.6 -2.8zM283.1 84.9h3.3l-1.6 -2.8zM283.6 86.2h3.3l-1.6 -2.8zM283.9 87.5h3.3l-1.6 -2.8zM283.2 88.8h3.3l-1.6 -2.8zM283.1 90.2h3.3l-1.6 -2.8zM282.9 91.5h3.3l-1.6 -2.8zM283.5 92.7h3.3l-1.6 -2.8zM284.3 94h3.3l-1.6 -2.8zM284.7 95.3h3.3l-1.6 -2.8zM283.5 96.7h3.3l-1.6 -2.8zM284.2 97.9h3.3l-1.6 -2.8zM283.7 99.3h3.3l-1.6 -2.8zM285.1 100.5h3.3l-1.6 -2.8zM283.7 101.9h3.3l-1.6 -2.8zM284.7 103.1h3.3l-1.6 -2.8zM283.8 104.5h3.3l-1.6 -2.8zM283.9 105.8h3.3l-1.6 -2.8zM284.7 107h3.3l-1.6 -2.8zM285.8 108.2h3.3l-1.6 -2.8zM284.1 109.7h3.3l-1.6 -2.8zM285 110.9h3.3l-1.6 -2.8zM284.3 112.3h3.3l-1.6 -2.8zM285.6 113.5h3.3l-1.6 -2.8zM285.9 114.8h3.3l-1.6 -2.8zM284.7 116.2h3.3l-1.6 -2.8zM285.7 117.4h3.3l-1.6 -2.8zM286.2 118.7h3.3l-1.6 -2.8zM285.9 120h3.3l-1.6 -2.8zM285.6 121.3h3.3l-1.6 -2.8zM286.8 122.5h3.3l-1.6 -2.8zM285.9 123.9h3.3l-1.6 -2.8zM286.1 125.2h3.3l-1.6 -2.8zM286.1 126.5h3.3l-1.6 -2.8zM287 127.8h3.3l-1.6 -2.8zM285.9 129.2h3.3l-1.6 -2.8zM285.8 130.5h3.3l-1.6 -2.8zM285.8 131.8h3.3l-1.6 -2.8zM287 133h3.3l-1.6 -2.8zM286.3 134.4h3.3l-1.6 -2.8zM287 135.6h3.3l-1.6 -2.8zM286.4 137h3.3l-1.6 -2.8zM287.9 138.2h3.3l-1.6 -2.8zM286.3 139.6h3.3l-1.6 -2.8zM286.3 140.9h3.3l-1.6 -2.8zM287.3 142.1h3.3l-1.6 -2.8zM287.3 143.4h3.3l-1.6 -2.8zM287.4 144.7h3.3l-1.6 -2.8zM287.5 146h3.3l-1.6 -2.8zM288.6 147.3h3.3l-1.6 -2.8zM286.8 148.7h3.3l-1.6 -2.8zM288.4 149.9h3.3l-1.6 -2.8zM288.6 151.2h3.3l-1.6 -2.8zM288.8 152.5h3.3l-1.6 -2.8zM288.6 153.8h3.3l-1.6 -2.8zM287.6 155.2h3.3l-1.6 -2.8zM289.3 156.4h3.3l-1.6 -2.8zM289.2 157.7h3.3l-1.6 -2.8zM288.1 159h3.3l-1.6 -2.8zM289.2 160.3h3.3l-1.6 -2.8zM289.7 161.5h3.3l-1.6 -2.8zM288.6 162.9h3.3l-1.6 -2.8zM288.7 164.2h3.3l-1.6 -2.8zM288.9 165.5h3.3l-1.6 -2.8zM288.7 166.8h3.3l-1.6 -2.8zM290 168.1h3.3l-1.6 -2.8zM288.5 169.5h3.3l-1.6 -2.8zM288.9 170.8h3.3l-1.6 -2.8zM290.4 172h3.3l-1.6 -2.8zM290.3 173.3h3.3l-1.6 -2.8zM289.7 174.6h3.3l-1.6 -2.8zM289.7 175.9h3.3l-1.6 -2.8zM290.3 177.2h3.3l-1.6 -2.8zM290.7 178.5h3.3l-1.6 -2.8zM290.2 179.8h3.3l-1.6 -2.8zM290.8 181.1h3.3l-1.6 -2.8zM290 182.4h3.3l-1.6 -2.8zM289.6 183.8h3.3l-1.6 -2.8zM291.1 185h3.3l-1.6 -2.8zM290.4 186.3h3.3l-1.6 -2.8zM290.1 187.7h3.3l-1.6 -2.8zM291.4 188.9h3.3l-1.6 -2.8zM290.1 190.3h3.3l-1.6 -2.8zM290 191.6h3.3l-1.6 -2.8zM291.2 192.8h3.3l-1.6 -2.8zM291.2 194.1h3.3l-1.6 -2.8zM290.5 195.5h3.3l-1.6 -2.8zM291.2 196.7h3.3l-1.6 -2.8zM291.6 198h3.3l-1.6 -2.8zM290.6 199.4h3.3l-1.6 -2.8zM291 200.7h3.3l-1.6 -2.8zM292 201.9h3.3l-1.6 -2.8zM292.3 203.2h3.3l-1.6 -2.8zM292.2 204.5h3.3l-1.6 -2.8zM292.1 205.8h3.3l-1.6 -2.8zM291.1 207.2h3.3l-1.6 -2.8zM291.5 208.5h3.3l-1.6 -2.8zM291.4 209.8h3.3l-1.6 -2.8zM291.7 211.1h3.3l-1.6 -2.8zM291.7 212.4h3.3l-1.6 -2.8zM293.4 213.6h3.3l-1.6 -2.8zM292.6 214.9h3.3l-1.6 -2.8zM291.8 216.3h3.3l-1.6 -2.8zM291.9 217.6h3.3l-1.6 -2.8zM293.4 218.8h3.3l-1.6 -2.8zM293.1 220.1h3.3l-1.6 -2.8zM292.8 221.4h3.3l-1.6 -2.8zM293.4 222.7h3.3l-1.6 -2.8zM293.2 224h3.3l-1.6 -2.8zM292.5 225.3h3.3l-1.6 -2.8zM293.3 223.9h3.3l-1.6 -2.8zM293.6 222.6h3.3l-1.6 -2.8zM292.7 221.1h3.3l-1.6 -2.8zM293.1 219.7h3.3l-1.6 -2.8zM294.8 218.5h3.3l-1.6 -2.8zM294.5 217.1h3.3l-1.6 -2.8zM295 215.7h3.3l-1.6 -2.8zM294.5 214.3h3.3l-1.6 -2.8zM294.9 212.9h3.3l-1.6 -2.8zM295.2 211.6h3.3l-1.6 -2.8zM295.3 210.2h3.3l-1.6 -2.8zM293.7 208.7h3.3l-1.6 -2.8zM295 207.4h3.3l-1.6 -2.8zM294.4 205.9h3.3l-1.6 -2.8zM295.3 204.6h3.3l-1.6 -2.8zM294.6 203.2h3.3l-1.6 -2.8zM295.2 201.9h3.3l-1.6 -2.8zM296.1 200.6h3.3l-1.6 -2.8zM295.6 199.2h3.3l-1.6 -2.8zM295 197.8h3.3l-1.6 -2.8zM295.6 196.5h3.3l-1.6 -2.8zM295.5 195.1h3.3l-1.6 -2.8zM296.7 193.8h3.3l-1.6 -2.8zM295.4 192.4h3.3l-1.6 -2.8zM295.6 191h3.3l-1.6 -2.8zM296.4 189.7h3.3l-1.6 -2.8zM295.4 188.3h3.3l-1.6 -2.8zM296.5 187h3.3l-1.6 -2.8zM297.3 185.7h3.3l-1.6 -2.8zM296.5 184.4h3.3l-1.6 -2.8zM296.1 183h3.3l-1.6 -2.8zM296.6 181.7h3.3l-1.6 -2.8zM296.9 180.4h3.3l-1.6 -2.8zM296.2 179.1h3.3l-1.6 -2.8zM296.3 177.8h3.3l-1.6 -2.8zM296.4 176.5h3.3l-1.6 -2.8zM296.8 175.2h3.3l-1.6 -2.8zM297.2 173.9h3.3l-1.6 -2.8zM297 172.6h3.3l-1.6 -2.8zM297 171.2h3.3l-1.6 -2.8zM296.8 169.9h3.3l-1.6 -2.8zM297.9 168.7h3.3l-1.6 -2.8zM298.6 167.4h3.3l-1.6 -2.8zM298.2 166h3.3l-1.6 -2.8zM298.2 164.7h3.3l-1.6 -2.8zM298.5 163.4h3.3l-1.6 -2.8zM297.7 162h3.3l-1.6 -2.8zM298.9 160.7h3.3l-1.6 -2.8zM298.5 159.4h3.3l-1.6 -2.8zM298.8 158h3.3l-1.6 -2.8zM299 156.7h3.3l-1.6 -2.8zM298.8 155.4h3.3l-1.6 -2.8zM298.6 154h3.3l-1.6 -2.8zM298.6 152.7h3.3l-1.6 -2.8zM298.7 151.3h3.3l-1.6 -2.8zM299.4 150.1h3.3l-1.6 -2.8zM299.2 148.7h3.3l-1.6 -2.8zM299.8 147.4h3.3l-1.6 -2.8zM298.7 146h3.3l-1.6 -2.8zM299.5 144.7h3.3l-1.6 -2.8zM300.7 143.5h3.3l-1.6 -2.8zM299.6 142.1h3.3l-1.6 -2.8zM300.3 140.8h3.3l-1.6 -2.8zM300.3 139.4h3.3l-1.6 -2.8zM300 138.1h3.3l-1.6 -2.8zM301.5 136.9h3.3l-1.6 -2.8zM300.3 135.4h3.3l-1.6 -2.8zM301.4 134.2h3.3l-1.6 -2.8zM300.3 132.8h3.3l-1.6 -2.8zM300.2 131.5h3.3l-1.6 -2.8zM302 130.3h3.3l-1.6 -2.8zM301.2 128.9h3.3l-1.6 -2.8zM300.6 127.5h3.3l-1.6 -2.8zM301.4 126.3h3.3l-1.6 -2.8zM301.6 125h3.3l-1.6 -2.8zM302.4 123.8h3.3l-1.6 -2.8zM301.3 122.3h3.3l-1.6 -2.8zM301.6 121.1h3.3l-1.6 -2.8zM303.2 119.8h3.3l-1.6 -2.8zM303 118.4h3.3l-1.6 -2.8zM302 116.9h3.3l-1.6 -2.8zM302.5 115.5h3.3l-1.6 -2.8zM302.7 114.1h3.3l-1.6 -2.8zM303.5 112.8h3.3l-1.6 -2.8zM303.5 111.4h3.3l-1.6 -2.8zM304.2 110.1h3.3l-1.6 -2.8zM304.3 108.7h3.3l-1.6 -2.8zM303.9 107.3h3.3l-1.6 -2.8zM304.5 106.1h3.3l-1.6 -2.8zM304.7 104.8h3.3l-1.6 -2.8zM304.9 103.5h3.3l-1.6 -2.8zM304.5 102.1h3.3l-1.6 -2.8zM305.3 100.8h3.3l-1.6 -2.8zM305.3 99.5h3.3l-1.6 -2.8zM305.9 98.3h3.3l-1.6 -2.8zM304.6 96.6h3.3l-1.6 -2.8zM306.3 95.5h3.3l-1.6 -2.8zM304.9 93.8h3.3l-1.6 -2.8zM306.6 92.7h3.3l-1.6 -2.8zM306.5 91.2h3.3l-1.6 -2.8zM306.6 89.8h3.3l-1.6 -2.8zM307.8 88.5h3.3l-1.6 -2.8zM307.5 86.8h3.3l-1.6 -2.8zM307.5 85.2h3.3l-1.6 -2.8zM307.5 83.8h3.3l-1.6 -2.8zM307.4 85.1h3.3l-1.6 -2.8zM308.1 86.5h3.3l-1.6 -2.8zM308.7 87.8h3.3l-1.6 -2.8zM308.6 89.1h3.3l-1.6 -2.8zM308.8 90.5h3.3l-1.6 -2.8zM308.4 91.9h3.3l-1.6 -2.8zM309.3 93.2h3.3l-1.6 -2.8zM309.3 94.6h3.3l-1.6 -2.8zM309.1 96h3.3l-1.6 -2.8zM309.5 97.3h3.3l-1.6 -2.8zM309.8 98.6h3.3l-1.6 -2.8zM309 100.1h3.3l-1.6 -2.8zM309 101.4h3.3l-1.6 -2.8zM309.8 102.7h3.3l-1.6 -2.8zM310 104.1h3.3l-1.6 -2.8zM310.7 105.4h3.3l-1.6 -2.8zM310.6 106.8h3.3l-1.6 -2.8zM311 108.1h3.3l-1.6 -2.8zM310.3 109.5h3.3l-1.6 -2.8zM310.4 110.9h3.3l-1.6 -2.8zM311.5 112.2h3.3l-1.6 -2.8zM310 113.7h3.3l-1.6 -2.8zM311.3 114.9h3.3l-1.6 -2.8zM310.4 116.4h3.3l-1.6 -2.8zM310.5 117.7h3.3l-1.6 -2.8zM310.4 119.1h3.3l-1.6 -2.8zM312 120.3h3.3l-1.6 -2.8zM311.7 121.7h3.3l-1.6 -2.8zM310.8 123.2h3.3l-1.6 -2.8zM312.8 124.4h3.3l-1.6 -2.8zM312.8 125.7h3.3l-1.6 -2.8zM311.9 127.2h3.3l-1.6 -2.8zM312.2 128.5h3.3l-1.6 -2.8zM311.4 130h3.3l-1.6 -2.8zM311.9 131.3h3.3l-1.6 -2.8zM312.5 132.6h3.3l-1.6 -2.8zM311.7 134.1h3.3l-1.6 -2.8zM312.7 135.3h3.3l-1.6 -2.8zM312.9 136.7h3.3l-1.6 -2.8zM312.7 138.1h3.3l-1.6 -2.8zM313.4 139.4h3.3l-1.6 -2.8zM313.6 140.7h3.3l-1.6 -2.8zM313.2 142.1h3.3l-1.6 -2.8zM313.8 143.5h3.3l-1.6 -2.8zM312.8 144.9h3.3l-1.6 -2.8zM313.4 146.2h3.3l-1.6 -2.8zM313.9 147.6h3.3l-1.6 -2.8zM314.8 148.8h3.3l-1.6 -2.8zM314.4 150.2h3.3l-1.6 -2.8zM314.5 151.6h3.3l-1.6 -2.8zM314.3 153h3.3l-1.6 -2.8zM314.4 154.4h3.3l-1.6 -2.8zM313.9 155.8h3.3l-1.6 -2.8zM313.9 157.1h3.3l-1.6 -2.8zM314.9 158.4h3.3l-1.6 -2.8zM315.1 159.8h3.3l-1.6 -2.8zM314.9 161.2h3.3l-1.6 -2.8zM314.3 162.6h3.3l-1.6 -2.8zM315.7 163.8h3.3l-1.6 -2.8zM315.5 165.2h3.3l-1.6 -2.8zM315 166.6h3.3l-1.6 -2.8zM316.4 167.9h3.3l-1.6 -2.8zM316.3 169.3h3.3l-1.6 -2.8zM315.1 170.7h3.3l-1.6 -2.8zM315.5 172.1h3.3l-1.6 -2.8zM316.2 173.4h3.3l-1.6 -2.8zM317.2 174.6h3.3l-1.6 -2.8zM315.7 176.1h3.3l-1.6 -2.8zM316.3 177.5h3.3l-1.6 -2.8zM316.1 178.9h3.3l-1.6 -2.8zM315.9 180.2h3.3l-1.6 -2.8zM316.2 181.6h3.3l-1.6 -2.8zM317.3 182.9h3.3l-1.6 -2.8zM318 184.2h3.3l-1.6 -2.8zM317.8 185.5h3.3l-1.6 -2.8zM317.5 186.9h3.3l-1.6 -2.8zM317.6 188.3h3.3l-1.6 -2.8zM318.4 189.6h3.3l-1.6 -2.8zM318.5 191h3.3l-1.6 -2.8zM317.8 192.4h3.3l-1.6 -2.8zM317.9 193.8h3.3l-1.6 -2.8zM318.6 195.1h3.3l-1.6 -2.8zM317.4 196.5h3.3l-1.6 -2.8zM318.2 197.8h3.3l-1.6 -2.8zM319.5 199.1h3.3l-1.6 -2.8zM318.9 200.5h3.3l-1.6 -2.8zM318.3 201.9h3.3l-1.6 -2.8zM319.4 203.2h3.3l-1.6 -2.8zM318.8 204.6h3.3l-1.6 -2.8zM320.2 205.9h3.3l-1.6 -2.8zM319.8 207.3h3.3l-1.6 -2.8zM318.8 208.7h3.3l-1.6 -2.8zM319.5 210h3.3l-1.6 -2.8zM319.4 211.4h3.3l-1.6 -2.8zM320.5 212.7h3.3l-1.6 -2.8zM320 214.1h3.3l-1.6 -2.8zM320 215.5h3.3l-1.6 -2.8zM320.7 216.8h3.3l-1.6 -2.8zM320.1 218.2h3.3l-1.6 -2.8zM320.4 219.5h3.3l-1.6 -2.8zM319.6 221h3.3l-1.6 -2.8zM320.6 222.3h3.3l-1.6 -2.8zM321.1 223.6h3.3l-1.6 -2.8zM321.8 224.9h3.3l-1.6 -2.8zM321.8 226.3h3.3l-1.6 -2.8zM320.7 227.7h3.3l-1.6 -2.8zM322.2 229h3.3l-1.6 -2.8zM322.3 230.3h3.3l-1.6 -2.8zM322.3 231.7h3.3l-1.6 -2.8zM321.8 233.1h3.3l-1.6 -2.8zM322.5 231.8h3.3l-1.6 -2.8zM322.2 230.4h3.3l-1.6 -2.8zM322.7 229h3.3l-1.6 -2.8zM321.3 227.5h3.3l-1.6 -2.8zM321.3 226.1h3.3l-1.6 -2.8zM322.9 224.9h3.3l-1.6 -2.8zM322.1 223.4h3.3l-1.6 -2.8zM323 222.1h3.3l-1.6 -2.8zM322.3 220.7h3.3l-1.6 -2.8zM322.1 219.3h3.3l-1.6 -2.8zM322.4 217.9h3.3l-1.6 -2.8zM322.1 216.5h3.3l-1.6 -2.8zM323.8 215.2h3.3l-1.6 -2.8zM323.3 213.8h3.3l-1.6 -2.8zM322.9 212.4h3.3l-1.6 -2.8zM323.2 211.1h3.3l-1.6 -2.8zM323.2 209.7h3.3l-1.6 -2.8zM322.6 208.3h3.3l-1.6 -2.8zM324.4 207.1h3.3l-1.6 -2.8zM323.9 205.7h3.3l-1.6 -2.8zM324.7 204.4h3.3l-1.6 -2.8zM323.8 202.9h3.3l-1.6 -2.8zM324.2 201.6h3.3l-1.6 -2.8zM323.6 200.2h3.3l-1.6 -2.8zM323.3 198.8h3.3l-1.6 -2.8zM325.1 197.6h3.3l-1.6 -2.8zM325.1 196.2h3.3l-1.6 -2.8zM324.1 194.8h3.3l-1.6 -2.8zM325.4 193.6h3.3l-1.6 -2.8zM325.3 192.3h3.3l-1.6 -2.8zM324.4 190.9h3.3l-1.6 -2.8zM325.1 189.6h3.3l-1.6 -2.8zM325.9 188.4h3.3l-1.6 -2.8zM325 187h3.3l-1.6 -2.8zM326 185.8h3.3l-1.6 -2.8zM324.7 184.3h3.3l-1.6 -2.8zM325.1 183.1h3.3l-1.6 -2.8zM325.9 181.8h3.3l-1.6 -2.8zM325 180.4h3.3l-1.6 -2.8zM325.3 179.1h3.3l-1.6 -2.8zM326.5 177.9h3.3l-1.6 -2.8zM325.8 176.5h3.3l-1.6 -2.8zM326.5 175.3h3.3l-1.6 -2.8zM325.5 173.9h3.3l-1.6 -2.8zM325.5 172.5h3.3l-1.6 -2.8zM326 171.2h3.3l-1.6 -2.8zM325.7 169.9h3.3l-1.6 -2.8zM327.4 168.7h3.3l-1.6 -2.8zM326.1 167.2h3.3l-1.6 -2.8zM326.8 165.9h3.3l-1.6 -2.8zM326 164.5h3.3l-1.6 -2.8zM326.9 163.3h3.3l-1.6 -2.8zM326.8 161.9h3.3l-1.6 -2.8zM326.9 160.6h3.3l-1.6 -2.8zM326.3 159.2h3.3l-1.6 -2.8zM326.6 157.9h3.3l-1.6 -2.8zM328.1 156.7h3.3l-1.6 -2.8zM327.2 155.3h3.3l-1.6 -2.8zM327.1 154h3.3l-1.6 -2.8zM327.1 152.6h3.3l-1.6 -2.8zM327.4 151.3h3.3l-1.6 -2.8zM327.5 150h3.3l-1.6 -2.8zM327.2 148.6h3.3l-1.6 -2.8zM328.5 147.4h3.3l-1.6 -2.8zM328 146h3.3l-1.6 -2.8zM327.8 144.7h3.3l-1.6 -2.8zM329 143.4h3.3l-1.6 -2.8zM327.9 142h3.3l-1.6 -2.8zM328.3 140.7h3.3l-1.6 -2.8zM329.6 139.5h3.3l-1.6 -2.8zM328.3 138.1h3.3l-1.6 -2.8zM329.1 136.9h3.3l-1.6 -2.8zM330 135.6h3.3l-1.6 -2.8zM330 134.3h3.3l-1.6 -2.8zM328.9 132.9h3.3l-1.6 -2.8zM329.4 131.6h3.3l-1.6 -2.8zM330.2 130.4h3.3l-1.6 -2.8zM329.7 129h3.3l-1.6 -2.8zM331 127.8h3.3l-1.6 -2.8zM329.6 126.2h3.3l-1.6 -2.8zM331.3 125h3.3l-1.6 -2.8zM330.5 123.5h3.3l-1.6 -2.8zM330.1 122.1h3.3l-1.6 -2.8zM330.7 120.7h3.3l-1.6 -2.8zM330.2 119.3h3.3l-1.6 -2.8zM331.5 118h3.3l-1.6 -2.8zM330.8 116.5h3.3l-1.6 -2.8zM332.2 115.4h3.3l-1.6 -2.8zM331.8 114h3.3l-1.6 -2.8zM331.5 112.6h3.3l-1.6 -2.8zM331.4 111.3h3.3l-1.6 -2.8zM332.3 110.1h3.3l-1.6 -2.8zM331.7 108.7h3.3l-1.6 -2.8zM333.2 107.5h3.3l-1.6 -2.8zM331.9 106h3.3l-1.6 -2.8zM332.9 104.7h3.3l-1.6 -2.8zM333.2 103.4h3.3l-1.6 -2.8zM332.9 101.9h3.3l-1.6 -2.8zM334.1 100.7h3.3l-1.6 -2.8zM333.5 99.1h3.3l-1.6 -2.8zM334.3 97.9h3.3l-1.6 -2.8zM334.5 96.3h3.3l-1.6 -2.8zM334.3 94.7h3.3l-1.6 -2.8zM334.8 93.2h3.3l-1.6 -2.8zM336 91.2h3.3l-1.6 -2.8zM336 91.4h3.3l-1.6 -2.8zM335.1 92.5h3.3l-1.6 -2.8zM336.1 92h3.3l-1.6 -2.8zM335.7 92.6h3.3l-1.6 -2.8zM336.7 92h3.3l-1.6 -2.8zM336.2 92.8h3.3l-1.6 -2.8zM336.6 92.7h3.3l-1.6 -2.8zM336.5 93h3.3l-1.6 -2.8zM337 92.9h3.3l-1.6 -2.8zM336.1 92.9h3.3l-1.6 -2.8zM336.7 92.8h3.3l-1.6 -2.8zM336.7 92.3h3.3l-1.6 -2.8zM336.7 91.8h3.3l-1.6 -2.8zM338 91.9h3.3l-1.6 -2.8zM337.4 91.2h3.3l-1.6 -2.8zM337.8 90.9h3.3l-1.6 -2.8zM338.9 90.9h3.3l-1.6 -2.8zM338.9 90.4h3.3l-1.6 -2.8zM339.2 90.1h3.3l-1.6 -2.8zM338 89.5h3.3l-1.6 -2.8zM339.6 90.7h3.3l-1.6 -2.8zM339.4 92.2h3.3l-1.6 -2.8zM340.1 93.5h3.3l-1.6 -2.8zM338.9 95h3.3l-1.6 -2.8zM339 96.4h3.3l-1.6 -2.8zM339.8 97.7h3.3l-1.6 -2.8zM339.8 99.1h3.3l-1.6 -2.8zM339.4 100.6h3.3l-1.6 -2.8zM339.5 102h3.3l-1.6 -2.8zM340.5 103.3h3.3l-1.6 -2.8zM339.4 104.8h3.3l-1.6 -2.8zM340.5 106.1h3.3l-1.6 -2.8zM340.1 107.5h3.3l-1.6 -2.8zM341.1 108.9h3.3l-1.6 -2.8zM341.4 110.2h3.3l-1.6 -2.8zM339.9 111.8h3.3l-1.6 -2.8zM340.4 113.1h3.3l-1.6 -2.8zM340.6 114.5h3.3l-1.6 -2.8zM342 115.8h3.3l-1.6 -2.8zM342.2 117.2h3.3l-1.6 -2.8zM342 118.6h3.3l-1.6 -2.8zM342.1 120h3.3l-1.6 -2.8zM342 121.4h3.3l-1.6 -2.8zM342 122.8h3.3l-1.6 -2.8zM342.8 124.1h3.3l-1.6 -2.8zM342.4 125.6h3.3l-1.6 -2.8zM341.8 127h3.3l-1.6 -2.8zM342.9 128.3h3.3l-1.6 -2.8zM341.7 129.8h3.3l-1.6 -2.8zM342.4 131.2h3.3l-1.6 -2.8zM342.2 132.6h3.3l-1.6 -2.8zM343.2 133.9h3.3l-1.6 -2.8zM343 135.3h3.3l-1.6 -2.8zM342.6 136.8h3.3l-1.6 -2.8zM343.4 138.1h3.3l-1.6 -2.8zM344.2 139.4h3.3l-1.6 -2.8zM342.7 141h3.3l-1.6 -2.8zM342.9 142.4h3.3l-1.6 -2.8zM344.1 143.7h3.3l-1.6 -2.8zM344.7 145h3.3l-1.6 -2.8zM343.2 146.6h3.3l-1.6 -2.8zM343.8 147.9h3.3l-1.6 -2.8zM345 149.2h3.3l-1.6 -2.8zM344.8 150.6h3.3l-1.6 -2.8zM345.1 152h3.3l-1.6 -2.8zM343.9 153.5h3.3l-1.6 -2.8zM345.2 154.8h3.3l-1.6 -2.8zM343.9 156.3h3.3l-1.6 -2.8zM344.4 157.7h3.3l-1.6 -2.8zM345.8 158.9h3.3l-1.6 -2.8zM344.7 160.4h3.3l-1.6 -2.8zM345.5 161.8h3.3l-1.6 -2.8zM344.9 163.2h3.3l-1.6 -2.8zM344.8 164.6h3.3l-1.6 -2.8zM346.1 165.9h3.3l-1.6 -2.8zM346.6 167.3h3.3l-1.6 -2.8zM345 168.8h3.3l-1.6 -2.8zM346.2 170.1h3.3l-1.6 -2.8zM345.3 171.6h3.3l-1.6 -2.8zM345.9 173h3.3l-1.6 -2.8zM345.9 174.4h3.3l-1.6 -2.8zM345.8 175.8h3.3l-1.6 -2.8zM346.4 177.1h3.3l-1.6 -2.8zM346.8 178.5h3.3l-1.6 -2.8zM347.8 179.8h3.3l-1.6 -2.8zM346.6 181.3h3.3l-1.6 -2.8zM347.3 182.7h3.3l-1.6 -2.8zM347.2 184.1h3.3l-1.6 -2.8zM346.5 185.5h3.3l-1.6 -2.8zM348.2 186.8h3.3l-1.6 -2.8zM347.1 188.3h3.3l-1.6 -2.8zM348.7 189.6h3.3l-1.6 -2.8zM347.5 191.1h3.3l-1.6 -2.8zM347.4 192.5h3.3l-1.6 -2.8zM348.6 193.8h3.3l-1.6 -2.8zM348.2 195.2h3.3l-1.6 -2.8zM347.4 196.7h3.3l-1.6 -2.8zM348.2 198h3.3l-1.6 -2.8zM348.5 199.4h3.3l-1.6 -2.8zM349.2 200.7h3.3l-1.6 -2.8zM349.8 202.1h3.3l-1.6 -2.8zM349.3 203.5h3.3l-1.6 -2.8zM349.3 204.9h3.3l-1.6 -2.8zM349.8 206.3h3.3l-1.6 -2.8zM349.8 207.7h3.3l-1.6 -2.8zM350.2 209.1h3.3l-1.6 -2.8zM349.2 210.6h3.3l-1.6 -2.8zM349.4 211.9h3.3l-1.6 -2.8zM350.4 213.3h3.3l-1.6 -2.8zM350.5 214.7h3.3l-1.6 -2.8zM350.1 216.1h3.3l-1.6 -2.8zM350.4 217.5h3.3l-1.6 -2.8zM349.5 219h3.3l-1.6 -2.8zM350.8 220.2h3.3l-1.6 -2.8zM351 221.6h3.3l-1.6 -2.8zM350 223.1h3.3l-1.6 -2.8zM351.6 224.4h3.3l-1.6 -2.8zM350.9 225.8h3.3l-1.6 -2.8zM351.5 227.2h3.3l-1.6 -2.8zM351.9 228.7h3.3l-1.6 -2.8zM351.4 227.3h3.3l-1.6 -2.8zM352 226h3.3l-1.6 -2.8zM350.9 224.6h3.3l-1.6 -2.8zM352 223.4h3.3l-1.6 -2.8zM351.9 222.1h3.3l-1.6 -2.8zM351.8 220.8h3.3l-1.6 -2.8zM352.5 219.5h3.3l-1.6 -2.8zM352.7 218.2h3.3l-1.6 -2.8zM351.4 216.8h3.3l-1.6 -2.8zM351.8 215.5h3.3l-1.6 -2.8zM352.1 214.2h3.3l-1.6 -2.8zM351.9 212.9h3.3l-1.6 -2.8zM351.7 211.5h3.3l-1.6 -2.8zM352.2 210.3h3.3l-1.6 -2.8zM352.2 208.9h3.3l-1.6 -2.8zM353.3 207.7h3.3l-1.6 -2.8zM352.9 206.3h3.3l-1.6 -2.8zM352.3 204.9h3.3l-1.6 -2.8zM352.8 203.5h3.3l-1.6 -2.8zM353.2 202.2h3.3l-1.6 -2.8zM353.1 200.8h3.3l-1.6 -2.8zM352.8 199.4h3.3l-1.6 -2.8zM352.8 198h3.3l-1.6 -2.8zM352.7 196.6h3.3l-1.6 -2.8zM354.8 195.4h3.3l-1.6 -2.8zM354.4 194h3.3l-1.6 -2.8zM353.2 192.5h3.3l-1.6 -2.8zM354.6 191.2h3.3l-1.6 -2.8zM355.2 189.9h3.3l-1.6 -2.8zM354.5 188.5h3.3l-1.6 -2.8zM353.7 187h3.3l-1.6 -2.8zM354.6 185.8h3.3l-1.6 -2.8zM354.6 184.4h3.3l-1.6 -2.8zM354.2 183.1h3.3l-1.6 -2.8zM355 181.8h3.3l-1.6 -2.8zM354 180.4h3.3l-1.6 -2.8zM356 179.2h3.3l-1.6 -2.8zM355.5 177.9h3.3l-1.6 -2.8zM355.6 176.6h3.3l-1.6 -2.8zM356.3 175.3h3.3l-1.6 -2.8zM355.8 173.9h3.3l-1.6 -2.8zM355.2 172.5h3.3l-1.6 -2.8zM355.3 171.2h3.3l-1.6 -2.8zM355.1 169.9h3.3l-1.6 -2.8zM355 168.5h3.3l-1.6 -2.8zM356.6 167.3h3.3l-1.6 -2.8zM356.9 166h3.3l-1.6 -2.8zM355.9 164.6h3.3l-1.6 -2.8zM355.8 163.2h3.3l-1.6 -2.8zM356.8 162h3.3l-1.6 -2.8zM357.3 160.7h3.3l-1.6 -2.8zM357.6 159.3h3.3l-1.6 -2.8zM356.2 157.9h3.3l-1.6 -2.8zM357.6 156.7h3.3l-1.6 -2.8zM357.8 155.3h3.3l-1.6 -2.8zM357.7 154h3.3l-1.6 -2.8zM357 152.6h3.3l-1.6 -2.8zM356.8 151.2h3.3l-1.6 -2.8zM358.2 150h3.3l-1.6 -2.8zM357.3 148.6h3.3l-1.6 -2.8zM357.6 147.2h3.3l-1.6 -2.8zM358 145.9h3.3l-1.6 -2.8zM357.8 144.6h3.3l-1.6 -2.8zM358.8 143.3h3.3l-1.6 -2.8zM357.8 141.9h3.3l-1.6 -2.8zM357.5 140.5h3.3l-1.6 -2.8zM358.7 139.3h3.3l-1.6 -2.8zM358.9 138h3.3l-1.6 -2.8zM359.4 136.7h3.3l-1.6 -2.8zM359.3 135.4h3.3l-1.6 -2.8zM359.9 134.1h3.3l-1.6 -2.8zM360.1 132.7h3.3l-1.6 -2.8zM359.3 131.3h3.3l-1.6 -2.8zM359.4 130h3.3l-1.6 -2.8zM358.9 128.7h3.3l-1.6 -2.8zM359.3 127.4h3.3l-1.6 -2.8zM360 126.2h3.3l-1.6 -2.8zM359.1 124.8h3.3l-1.6 -2.8zM360.5 123.6h3.3l-1.6 -2.8zM359.6 122.2h3.3l-1.6 -2.8zM360.3 121h3.3l-1.6 -2.8zM361.4 119.8h3.3l-1.6 -2.8zM359.8 118.3h3.3l-1.6 -2.8zM359.9 117h3.3l-1.6 -2.8zM360.8 115.8h3.3l-1.6 -2.8zM360.5 114.4h3.3l-1.6 -2.8zM361.7 113.2h3.3l-1.6 -2.8zM360.4 111.6h3.3l-1.6 -2.8zM362.2 110.5h3.3l-1.6 -2.8zM362.4 109.1h3.3l-1.6 -2.8zM362.4 107.8h3.3l-1.6 -2.8zM361.9 106.3h3.3l-1.6 -2.8zM361.8 104.9h3.3l-1.6 -2.8zM362.7 103.7h3.3l-1.6 -2.8zM362.5 102.3h3.3l-1.6 -2.8zM362.6 100.8h3.3l-1.6 -2.8zM362.6 99.4h3.3l-1.6 -2.8zM363 98h3.3l-1.6 -2.8zM363.7 96.6h3.3l-1.6 -2.8zM364.2 95.3h3.3l-1.6 -2.8zM364.5 93.9h3.3l-1.6 -2.8zM363.3 92.3h3.3l-1.6 -2.8zM363.7 90.9h3.3l-1.6 -2.8zM364.2 89.6h3.3l-1.6 -2.8zM364.7 88.4h3.3l-1.6 -2.8zM364.5 87h3.3l-1.6 -2.8zM364.5 85.7h3.3l-1.6 -2.8zM364.5 84.3h3.3l-1.6 -2.8zM365.2 83.1h3.3l-1.6 -2.8zM365.7 81.9h3.3l-1.6 -2.8zM367 80.8h3.3l-1.6 -2.8zM367.2 79.5h3.3l-1.6 -2.8zM367.4 78.1h3.3l-1.6 -2.8zM367.9 76.9h3.3l-1.6 -2.8zM366.4 75.4h3.3l-1.6 -2.8zM367.2 76.7h3.3l-1.6 -2.8zM366.9 78.2h3.3l-1.6 -2.8zM368.4 79.5h3.3l-1.6 -2.8zM367.3 81h3.3l-1.6 -2.8zM367.5 82.4h3.3l-1.6 -2.8zM368.2 83.8h3.3l-1.6 -2.8zM367.7 85.2h3.3l-1.6 -2.8zM367 86.7h3.3l-1.6 -2.8zM368 88.1h3.3l-1.6 -2.8zM367.8 89.5h3.3l-1.6 -2.8zM368.6 90.9h3.3l-1.6 -2.8zM368.5 92.3h3.3l-1.6 -2.8zM367.5 93.8h3.3l-1.6 -2.8zM369.3 95.1h3.3l-1.6 -2.8zM369.1 96.5h3.3l-1.6 -2.8zM368.2 98h3.3l-1.6 -2.8zM368.7 99.4h3.3l-1.6 -2.8zM369.5 100.8h3.3l-1.6 -2.8zM368.4 102.3h3.3l-1.6 -2.8zM369.1 103.6h3.3l-1.6 -2.8zM368.7 105.1h3.3l-1.6 -2.8zM369.1 106.5h3.3l-1.6 -2.8zM369 107.9h3.3l-1.6 -2.8zM369 109.3h3.3l-1.6 -2.8zM369.4 110.7h3.3l-1.6 -2.8zM370 112.1h3.3l-1.6 -2.8zM370 113.5h3.3l-1.6 -2.8zM368.6 115h3.3l-1.6 -2.8zM369.4 116.4h3.3l-1.6 -2.8zM370.3 117.8h3.3l-1.6 -2.8zM368.9 119.3h3.3l-1.6 -2.8zM370.2 120.6h3.3l-1.6 -2.8zM370.6 122h3.3l-1.6 -2.8zM369.8 123.5h3.3l-1.6 -2.8zM370.4 124.9h3.3l-1.6 -2.8zM370 126.3h3.3l-1.6 -2.8zM370 127.7h3.3l-1.6 -2.8zM370.7 129.1h3.3l-1.6 -2.8zM370.1 130.6h3.3l-1.6 -2.8zM371.1 131.9h3.3l-1.6 -2.8zM370.3 133.4h3.3l-1.6 -2.8zM370.3 134.8h3.3l-1.6 -2.8zM371.3 136.2h3.3l-1.6 -2.8zM370.8 137.6h3.3l-1.6 -2.8zM371.5 139h3.3l-1.6 -2.8zM370.8 140.5h3.3l-1.6 -2.8zM370.1 141.9h3.3l-1.6 -2.8zM370.8 143.3h3.3l-1.6 -2.8zM370.5 144.8h3.3l-1.6 -2.8zM370.5 146.2h3.3l-1.6 -2.8zM371.9 147.5h3.3l-1.6 -2.8zM370.2 149h3.3l-1.6 -2.8zM370.8 150.4h3.3l-1.6 -2.8zM372.1 151.8h3.3l-1.6 -2.8zM370.7 153.3h3.3l-1.6 -2.8zM371.7 154.6h3.3l-1.6 -2.8zM372.2 156h3.3l-1.6 -2.8zM370.7 157.5h3.3l-1.6 -2.8zM371.6 158.9h3.3l-1.6 -2.8z" fill="#1760a5"/>
<polyline points="379,219 379.5,221.9 379.9,224.8 380.4,227.8 380.8,230.7 381.3,233.6 381.8,236.5 382.2,239.4 382.7,242.4 383.1,245.3 383.6,248.2 384.8,226.8 386,205.8 387.2,185.5 388.4,166.4 389.6,148.8 390.7,132.9 391.9,119.1 393.1,107.5 394.3,98.2 395.5,91.5 396.9,109.2 398.4,126.9 399.8,144.6 401.2,162.3 402.6,180.1 404.1,197.8 405.5,215.5 406.9,233.2 408.4,250.9 409.8,268.6 411.4,244.4 413,220.6 414.6,197.7 416.2,176.1 417.8,156.2 419.3,138.3 420.9,122.6 422.5,109.5 424.1,99.1 425.7,91.5 426,93.2 426.4,94.8 426.7,96.5 427,98.1 427.4,99.8 427.7,101.4 428,103 428.3,104.7 428.7,106.3 429,108 429.1,108.4 429.3,108.8 429.4,109.2 429.6,109.6 429.8,110 429.9,110.4 430.1,110.8 430.2,111.2 430.4,111.6 430.5,112 431.3,123.6 432,135.3 432.8,146.9 433.6,158.6 434.4,170.2 435.1,181.8 435.9,193.5 436.7,205.1 437.4,216.8 438.2,228.4 439.7,210.2 441.3,192.2 442.8,175 444.4,158.7 445.9,143.7 447.4,130.2 449,118.4 450.5,108.5 452.1,100.6 453.6,94.9 455.1,112.1 456.5,129.2 458,146.3 459.4,163.5 460.9,180.6 462.4,197.8 463.8,214.9 465.3,232.1 466.7,249.2 468.2,266.4 468.6,264.3 468.9,262.2 469.3,260 469.6,257.9 470,255.8 470.4,253.7 470.7,251.6 471.1,249.4 471.4,247.3 471.8,245.2" fill="none" stroke="#1760a5" stroke-width="2.0" stroke-linejoin="round" stroke-linecap="round"/>
<path d="M376.8 220.4h3.3l-1.6 -2.8zM378.3 221.7h3.3l-1.6 -2.8zM377.3 223.3h3.3l-1.6 -2.8zM378.9 224.6h3.3l-1.6 -2.8zM378.8 226.1h3.3l-1.6 -2.8zM378.8 227.6h3.3l-1.6 -2.8zM379.7 228.9h3.3l-1.6 -2.8zM378.8 230.6h3.3l-1.6 -2.8zM379.8 231.9h3.3l-1.6 -2.8zM379.8 233.4h3.3l-1.6 -2.8zM379.2 235h3.3l-1.6 -2.8zM380 236.4h3.3l-1.6 -2.8zM379.3 238h3.3l-1.6 -2.8zM380.1 239.3h3.3l-1.6 -2.8zM379.8 240.9h3.3l-1.6 -2.8zM380.7 242.2h3.3l-1.6 -2.8zM380.2 243.8h3.3l-1.6 -2.8zM380.5 245.3h3.3l-1.6 -2.8zM382.1 246.5h3.3l-1.6 -2.8zM381.2 248.1h3.3l-1.6 -2.8zM381.6 249.5h3.3l-1.6 -2.8zM382.6 248.2h3.3l-1.6 -2.8zM382.5 246.9h3.3l-1.6 -2.8zM382.8 245.5h3.3l-1.6 -2.8zM381.5 244.1h3.3l-1.6 -2.8zM382.1 242.8h3.3l-1.6 -2.8zM382.9 241.5h3.3l-1.6 -2.8zM383.4 240.2h3.3l-1.6 -2.8zM383 238.8h3.3l-1.6 -2.8zM381.7 237.4h3.3l-1.6 -2.8zM382.9 236.1h3.3l-1.6 -2.8zM382 234.8h3.3l-1.6 -2.8zM382.9 233.5h3.3l-1.6 -2.8zM383.5 232.2h3.3l-1.6 -2.8zM382.2 230.7h3.3l-1.6 -2.8zM383.9 229.5h3.3l-1.6 -2.8zM383.5 228.1h3.3l-1.6 -2.8zM382.7 226.8h3.3l-1.6 -2.8zM382.7 225.4h3.3l-1.6 -2.8zM383.3 224.2h3.3l-1.6 -2.8zM384.1 222.9h3.3l-1.6 -2.8zM383.7 221.5h3.3l-1.6 -2.8zM382.8 220.2h3.3l-1.6 -2.8zM382.7 218.8h3.3l-1.6 -2.8zM383 217.5h3.3l-1.6 -2.8zM384.4 216.3h3.3l-1.6 -2.8zM383.3 214.9h3.3l-1.6 -2.8zM384.1 213.7h3.3l-1.6 -2.8zM383.6 212.3h3.3l-1.6 -2.8zM384.5 211h3.3l-1.6 -2.8zM383.9 209.7h3.3l-1.6 -2.8zM383.5 208.3h3.3l-1.6 -2.8zM385.1 207.1h3.3l-1.6 -2.8zM384.5 205.7h3.3l-1.6 -2.8zM384.9 204.4h3.3l-1.6 -2.8zM385.2 203.1h3.3l-1.6 -2.8zM385.5 201.7h3.3l-1.6 -2.8zM383.8 200.3h3.3l-1.6 -2.8zM384.5 199h3.3l-1.6 -2.8zM384.2 197.6h3.3l-1.6 -2.8zM385 196.3h3.3l-1.6 -2.8zM385.8 195h3.3l-1.6 -2.8zM385.7 193.6h3.3l-1.6 -2.8zM384.3 192.2h3.3l-1.6 -2.8zM384.6 190.8h3.3l-1.6 -2.8zM386 189.6h3.3l-1.6 -2.8zM385.8 188.2h3.3l-1.6 -2.8zM385.3 186.8h3.3l-1.6 -2.8zM385.6 185.5h3.3l-1.6 -2.8zM385 184.1h3.3l-1.6 -2.8zM386.5 182.8h3.3l-1.6 -2.8zM385.6 181.4h3.3l-1.6 -2.8zM386.7 180h3.3l-1.6 -2.8zM386.3 178.6h3.3l-1.6 -2.8zM385.3 177.2h3.3l-1.6 -2.8zM385.9 175.9h3.3l-1.6 -2.8zM385.7 174.5h3.3l-1.6 -2.8zM387.2 173.2h3.3l-1.6 -2.8zM386.6 171.8h3.3l-1.6 -2.8zM385.6 170.4h3.3l-1.6 -2.8zM386 169h3.3l-1.6 -2.8zM386.4 167.7h3.3l-1.6 -2.8zM386.7 166.4h3.3l-1.6 -2.8zM387 165h3.3l-1.6 -2.8zM386.8 163.6h3.3l-1.6 -2.8zM386.8 162.3h3.3l-1.6 -2.8zM386.2 160.9h3.3l-1.6 -2.8zM387.4 159.6h3.3l-1.6 -2.8zM387 158.2h3.3l-1.6 -2.8zM386.5 156.8h3.3l-1.6 -2.8zM387.5 155.5h3.3l-1.6 -2.8zM388.6 154.2h3.3l-1.6 -2.8zM386.8 152.7h3.3l-1.6 -2.8zM387.1 151.4h3.3l-1.6 -2.8zM388.2 150.1h3.3l-1.6 -2.8zM387.5 148.7h3.3l-1.6 -2.8zM387.6 147.4h3.3l-1.6 -2.8zM388.2 146.1h3.3l-1.6 -2.8zM387.8 144.8h3.3l-1.6 -2.8zM388.5 143.5h3.3l-1.6 -2.8zM388.6 142.1h3.3l-1.6 -2.8zM389.5 140.9h3.3l-1.6 -2.8zM389.7 139.6h3.3l-1.6 -2.8zM387.9 138.1h3.3l-1.6 -2.8zM389 136.9h3.3l-1.6 -2.8zM389.5 135.6h3.3l-1.6 -2.8zM389.8 134.3h3.3l-1.6 -2.8zM389.8 132.9h3.3l-1.6 -2.8zM389.6 131.5h3.3l-1.6 -2.8zM389.7 130.1h3.3l-1.6 -2.8zM389.3 128.7h3.3l-1.6 -2.8zM389.2 127.3h3.3l-1.6 -2.8zM390.4 126h3.3l-1.6 -2.8zM390.7 124.6h3.3l-1.6 -2.8zM390.9 123.2h3.3l-1.6 -2.8zM390.5 121.8h3.3l-1.6 -2.8zM389.9 120.3h3.3l-1.6 -2.8zM391 119h3.3l-1.6 -2.8zM391.1 117.5h3.3l-1.6 -2.8zM390.7 116h3.3l-1.6 -2.8zM391.1 114.6h3.3l-1.6 -2.8zM390.7 113.1h3.3l-1.6 -2.8zM391.3 111.7h3.3l-1.6 -2.8zM391.1 110.2h3.3l-1.6 -2.8zM390.6 108.7h3.3l-1.6 -2.8zM391.3 107.4h3.3l-1.6 -2.8zM391.5 106.1h3.3l-1.6 -2.8zM392.9 104.9h3.3l-1.6 -2.8zM392.1 103.5h3.3l-1.6 -2.8zM392.1 102.2h3.3l-1.6 -2.8zM392 100.8h3.3l-1.6 -2.8zM392.1 99.5h3.3l-1.6 -2.8zM392.6 98.2h3.3l-1.6 -2.8zM392.4 96.7h3.3l-1.6 -2.8zM392.4 95.3h3.3l-1.6 -2.8zM394.3 94.3h3.3l-1.6 -2.8zM393.9 92.8h3.3l-1.6 -2.8zM394.1 94.2h3.3l-1.6 -2.8zM393.9 95.6h3.3l-1.6 -2.8zM394.6 96.9h3.3l-1.6 -2.8zM395 98.2h3.3l-1.6 -2.8zM395.3 99.6h3.3l-1.6 -2.8zM394.9 101h3.3l-1.6 -2.8zM395 102.3h3.3l-1.6 -2.8zM394.3 103.8h3.3l-1.6 -2.8zM394.7 105.1h3.3l-1.6 -2.8zM394.1 106.5h3.3l-1.6 -2.8zM395.4 107.8h3.3l-1.6 -2.8zM394.3 109.2h3.3l-1.6 -2.8zM395.1 110.5h3.3l-1.6 -2.8zM396.2 111.8h3.3l-1.6 -2.8zM396.1 113.2h3.3l-1.6 -2.8zM395.4 114.6h3.3l-1.6 -2.8zM394.7 116.1h3.3l-1.6 -2.8zM396.1 117.3h3.3l-1.6 -2.8zM395.4 118.7h3.3l-1.6 -2.8zM396.2 120.1h3.3l-1.6 -2.8zM395.4 121.5h3.3l-1.6 -2.8zM397.1 122.7h3.3l-1.6 -2.8zM396.4 124.2h3.3l-1.6 -2.8zM395.7 125.6h3.3l-1.6 -2.8zM397 126.8h3.3l-1.6 -2.8zM397.2 128.2h3.3l-1.6 -2.8zM397.8 129.5h3.3l-1.6 -2.8zM397.6 130.9h3.3l-1.6 -2.8zM397.5 132.3h3.3l-1.6 -2.8zM396.7 133.7h3.3l-1.6 -2.8zM397.8 135h3.3l-1.6 -2.8zM397.6 136.4h3.3l-1.6 -2.8zM398.1 137.7h3.3l-1.6 -2.8zM397.4 139.2h3.3l-1.6 -2.8zM397 140.6h3.3l-1.6 -2.8zM397.5 141.9h3.3l-1.6 -2.8zM398.5 143.2h3.3l-1.6 -2.8zM397.6 144.6h3.3l-1.6 -2.8zM397.2 146h3.3l-1.6 -2.8zM398 147.3h3.3l-1.6 -2.8zM399.2 148.6h3.3l-1.6 -2.8zM397.9 150.1h3.3l-1.6 -2.8zM397.8 151.5h3.3l-1.6 -2.8zM399 152.7h3.3l-1.6 -2.8zM399.5 154.1h3.3l-1.6 -2.8zM399.5 155.4h3.3l-1.6 -2.8zM398.9 156.9h3.3l-1.6 -2.8zM398.4 158.3h3.3l-1.6 -2.8zM399 159.6h3.3l-1.6 -2.8zM398.5 161h3.3l-1.6 -2.8zM400 162.3h3.3l-1.6 -2.8zM399.9 163.6h3.3l-1.6 -2.8zM399.2 165.1h3.3l-1.6 -2.8zM399.5 166.4h3.3l-1.6 -2.8zM400.1 167.7h3.3l-1.6 -2.8zM399.7 169.1h3.3l-1.6 -2.8zM400.4 170.4h3.3l-1.6 -2.8zM401.1 171.8h3.3l-1.6 -2.8zM400.5 173.2h3.3l-1.6 -2.8zM401.4 174.5h3.3l-1.6 -2.8zM400.3 175.9h3.3l-1.6 -2.8zM401 177.3h3.3l-1.6 -2.8zM400.8 178.6h3.3l-1.6 -2.8zM400.7 180h3.3l-1.6 -2.8zM401.5 181.3h3.3l-1.6 -2.8zM401.2 182.7h3.3l-1.6 -2.8zM402.2 184h3.3l-1.6 -2.8zM400.5 185.5h3.3l-1.6 -2.8zM401.3 186.8h3.3l-1.6 -2.8zM400.6 188.3h3.3l-1.6 -2.8zM402.5 189.5h3.3l-1.6 -2.8zM401.5 190.9h3.3l-1.6 -2.8zM401.4 192.3h3.3l-1.6 -2.8zM402.3 193.6h3.3l-1.6 -2.8zM402.9 194.9h3.3l-1.6 -2.8zM402.9 196.3h3.3l-1.6 -2.8zM403 197.7h3.3l-1.6 -2.8zM401.9 199.1h3.3l-1.6 -2.8zM403.4 200.4h3.3l-1.6 -2.8zM402 201.9h3.3l-1.6 -2.8zM402.9 203.2h3.3l-1.6 -2.8zM402.8 204.5h3.3l-1.6 -2.8zM402.8 205.9h3.3l-1.6 -2.8zM403 207.3h3.3l-1.6 -2.8zM402.9 208.6h3.3l-1.6 -2.8zM403.1 210h3.3l-1.6 -2.8zM403.8 211.3h3.3l-1.6 -2.8zM403 212.7h3.3l-1.6 -2.8zM404.1 214h3.3l-1.6 -2.8zM403.3 215.5h3.3l-1.6 -2.8zM403.3 216.8h3.3l-1.6 -2.8zM403.4 218.2h3.3l-1.6 -2.8zM404.5 219.5h3.3l-1.6 -2.8zM403.6 220.9h3.3l-1.6 -2.8zM403.3 222.3h3.3l-1.6 -2.8zM404.5 223.6h3.3l-1.6 -2.8zM405 224.9h3.3l-1.6 -2.8zM404.6 226.3h3.3l-1.6 -2.8zM403.9 227.8h3.3l-1.6 -2.8zM405.6 229h3.3l-1.6 -2.8zM405.9 230.3h3.3l-1.6 -2.8zM405.1 231.8h3.3l-1.6 -2.8zM404.9 233.2h3.3l-1.6 -2.8zM404.7 234.5h3.3l-1.6 -2.8zM405.7 235.8h3.3l-1.6 -2.8zM404.5 237.3h3.3l-1.6 -2.8zM406.2 238.5h3.3l-1.6 -2.8zM405.2 240h3.3l-1.6 -2.8zM406.7 241.2h3.3l-1.6 -2.8zM406.9 242.6h3.3l-1.6 -2.8zM406.8 244h3.3l-1.6 -2.8zM407 245.3h3.3l-1.6 -2.8zM406.3 246.8h3.3l-1.6 -2.8zM406.3 248.1h3.3l-1.6 -2.8zM407.1 249.4h3.3l-1.6 -2.8zM405.7 250.9h3.3l-1.6 -2.8zM407 252.2h3.3l-1.6 -2.8zM407.5 253.5h3.3l-1.6 -2.8zM407.6 254.9h3.3l-1.6 -2.8zM406.6 256.3h3.3l-1.6 -2.8zM406.3 257.7h3.3l-1.6 -2.8zM407.9 259h3.3l-1.6 -2.8zM408.3 260.3h3.3l-1.6 -2.8zM406.9 261.8h3.3l-1.6 -2.8zM408.1 263.1h3.3l-1.6 -2.8zM406.7 264.5h3.3l-1.6 -2.8zM407.8 265.8h3.3l-1.6 -2.8zM407.7 267.2h3.3l-1.6 -2.8zM408.4 268.5h3.3l-1.6 -2.8zM408.7 270h3.3l-1.6 -2.8zM408.2 268.6h3.3l-1.6 -2.8zM408 267.2h3.3l-1.6 -2.8zM409.2 265.9h3.3l-1.6 -2.8zM407.7 264.5h3.3l-1.6 -2.8zM409.1 263.2h3.3l-1.6 -2.8zM407.8 261.8h3.3l-1.6 -2.8zM409.1 260.5h3.3l-1.6 -2.8zM408.7 259.1h3.3l-1.6 -2.8zM409.7 257.9h3.3l-1.6 -2.8zM408.2 256.4h3.3l-1.6 -2.8zM409.2 255.1h3.3l-1.6 -2.8zM409 253.8h3.3l-1.6 -2.8zM410.1 252.5h3.3l-1.6 -2.8zM410.3 251.2h3.3l-1.6 -2.8zM409.7 249.8h3.3l-1.6 -2.8zM409 248.4h3.3l-1.6 -2.8zM409.2 247h3.3l-1.6 -2.8zM409.3 245.7h3.3l-1.6 -2.8zM409.7 244.4h3.3l-1.6 -2.8zM409.4 243h3.3l-1.6 -2.8zM409.4 241.7h3.3l-1.6 -2.8zM410.6 240.5h3.3l-1.6 -2.8zM410.5 239.1h3.3l-1.6 -2.8zM409.9 237.8h3.3l-1.6 -2.8zM411.3 236.5h3.3l-1.6 -2.8zM409.9 235.1h3.3l-1.6 -2.8zM410.7 233.8h3.3l-1.6 -2.8zM409.9 232.5h3.3l-1.6 -2.8zM411.4 231.2h3.3l-1.6 -2.8zM411.5 229.9h3.3l-1.6 -2.8zM410.4 228.5h3.3l-1.6 -2.8zM411.5 227.3h3.3l-1.6 -2.8zM411.7 226h3.3l-1.6 -2.8zM410.7 224.6h3.3l-1.6 -2.8zM410.9 223.2h3.3l-1.6 -2.8zM411.3 221.9h3.3l-1.6 -2.8zM412.2 220.7h3.3l-1.6 -2.8zM410.8 219.2h3.3l-1.6 -2.8zM412 217.9h3.3l-1.6 -2.8zM411.9 216.6h3.3l-1.6 -2.8zM411.7 215.2h3.3l-1.6 -2.8zM412 213.9h3.3l-1.6 -2.8zM412.7 212.6h3.3l-1.6 -2.8zM411.5 211.1h3.3l-1.6 -2.8zM412.9 209.9h3.3l-1.6 -2.8zM412 208.5h3.3l-1.6 -2.8zM412.9 207.2h3.3l-1.6 -2.8zM413.2 205.8h3.3l-1.6 -2.8zM411.9 204.4h3.3l-1.6 -2.8zM413.4 203.2h3.3l-1.6 -2.8zM413.7 201.8h3.3l-1.6 -2.8zM412.4 200.4h3.3l-1.6 -2.8zM412 199h3.3l-1.6 -2.8zM412.2 197.7h3.3l-1.6 -2.8zM414.1 196.4h3.3l-1.6 -2.8zM412.2 194.9h3.3l-1.6 -2.8zM414.1 193.7h3.3l-1.6 -2.8zM412.7 192.3h3.3l-1.6 -2.8zM414 191h3.3l-1.6 -2.8zM412.8 189.6h3.3l-1.6 -2.8zM413.1 188.2h3.3l-1.6 -2.8zM414.2 186.9h3.3l-1.6 -2.8zM413.1 185.5h3.3l-1.6 -2.8zM413.7 184.2h3.3l-1.6 -2.8zM414.9 182.9h3.3l-1.6 -2.8zM414.6 181.5h3.3l-1.6 -2.8zM415.1 180.2h3.3l-1.6 -2.8zM415.4 178.9h3.3l-1.6 -2.8zM413.6 177.4h3.3l-1.6 -2.8zM414.1 176.1h3.3l-1.6 -2.8zM415.3 174.9h3.3l-1.6 -2.8zM415.2 173.5h3.3l-1.6 -2.8zM414 172.1h3.3l-1.6 -2.8zM415 170.8h3.3l-1.6 -2.8zM414.6 169.4h3.3l-1.6 -2.8zM415.1 168.1h3.3l-1.6 -2.8zM414.6 166.8h3.3l-1.6 -2.8zM414.5 165.4h3.3l-1.6 -2.8zM416.5 164.3h3.3l-1.6 -2.8zM415.3 162.8h3.3l-1.6 -2.8zM416.5 161.6h3.3l-1.6 -2.8zM415.1 160.1h3.3l-1.6 -2.8zM416 158.9h3.3l-1.6 -2.8zM415.4 157.5h3.3l-1.6 -2.8zM416.1 156.1h3.3l-1.6 -2.8zM415.7 154.7h3.3l-1.6 -2.8zM416.8 153.4h3.3l-1.6 -2.8zM415.9 151.9h3.3l-1.6 -2.8zM417.2 150.7h3.3l-1.6 -2.8zM416.8 149.3h3.3l-1.6 -2.8zM416.2 147.8h3.3l-1.6 -2.8zM416.8 146.5h3.3l-1.6 -2.8zM417.2 145.1h3.3l-1.6 -2.8zM418.2 143.8h3.3l-1.6 -2.8zM417.1 142.3h3.3l-1.6 -2.8zM417 140.9h3.3l-1.6 -2.8zM418.6 139.7h3.3l-1.6 -2.8zM418.6 138.4h3.3l-1.6 -2.8zM418.4 137h3.3l-1.6 -2.8zM417.6 135.6h3.3l-1.6 -2.8zM417.6 134.3h3.3l-1.6 -2.8zM417.9 133h3.3l-1.6 -2.8zM417.6 131.7h3.3l-1.6 -2.8zM417.7 130.4h3.3l-1.6 -2.8zM418.8 129.2h3.3l-1.6 -2.8zM418.7 127.9h3.3l-1.6 -2.8zM419.1 126.6h3.3l-1.6 -2.8zM418.9 125.2h3.3l-1.6 -2.8zM418.3 123.8h3.3l-1.6 -2.8zM419.8 122.7h3.3l-1.6 -2.8zM419.9 121.4h3.3l-1.6 -2.8zM419.8 120h3.3l-1.6 -2.8zM420 118.7h3.3l-1.6 -2.8zM420.5 117.5h3.3l-1.6 -2.8zM421.2 116.2h3.3l-1.6 -2.8zM421.1 114.9h3.3l-1.6 -2.8zM421 113.5h3.3l-1.6 -2.8zM420.5 112.1h3.3l-1.6 -2.8zM420.5 110.8h3.3l-1.6 -2.8zM420.9 109.5h3.3l-1.6 -2.8zM422.2 108.4h3.3l-1.6 -2.8zM421.2 106.9h3.3l-1.6 -2.8zM421.4 105.6h3.3l-1.6 -2.8zM421.7 104.3h3.3l-1.6 -2.8zM421.4 102.9h3.3l-1.6 -2.8zM423.2 101.9h3.3l-1.6 -2.8zM421.5 100.2h3.3l-1.6 -2.8zM423 99h3.3l-1.6 -2.8zM423.9 97.6h3.3l-1.6 -2.8zM422.9 95.8h3.3l-1.6 -2.8zM423.9 94.4h3.3l-1.6 -2.8zM424.3 92.8h3.3l-1.6 -2.8zM424.9 94.4h3.3l-1.6 -2.8zM425.3 96h3.3l-1.6 -2.8zM425.8 97.6h3.3l-1.6 -2.8zM424.7 99.6h3.3l-1.6 -2.8zM425.1 101.2h3.3l-1.6 -2.8zM425.2 102.9h3.3l-1.6 -2.8zM427.2 104.2h3.3l-1.6 -2.8zM426.3 106.1h3.3l-1.6 -2.8zM427.4 107.6h3.3l-1.6 -2.8zM427.1 109.4h3.3l-1.6 -2.8zM427.4 109.8h3.3l-1.6 -2.8zM428 110h3.3l-1.6 -2.8zM426.9 110.9h3.3l-1.6 -2.8zM428.9 110.6h3.3l-1.6 -2.8zM427.6 111.5h3.3l-1.6 -2.8zM427.6 112h3.3l-1.6 -2.8zM428.4 112.1h3.3l-1.6 -2.8zM428.4 112.6h3.3l-1.6 -2.8zM427.8 113.3h3.3l-1.6 -2.8zM429.4 113.3h3.3l-1.6 -2.8zM428.7 114.8h3.3l-1.6 -2.8zM428.6 116.3h3.3l-1.6 -2.8zM429.4 117.7h3.3l-1.6 -2.8zM428.8 119.2h3.3l-1.6 -2.8zM429.5 120.6h3.3l-1.6 -2.8zM429.4 122.1h3.3l-1.6 -2.8zM429.3 123.5h3.3l-1.6 -2.8zM429.3 125h3.3l-1.6 -2.8zM430.1 126.4h3.3l-1.6 -2.8zM429.6 127.9h3.3l-1.6 -2.8zM429.8 129.3h3.3l-1.6 -2.8zM430.6 130.7h3.3l-1.6 -2.8zM429.9 132.2h3.3l-1.6 -2.8zM430.7 133.7h3.3l-1.6 -2.8zM429.5 135.2h3.3l-1.6 -2.8zM430.4 136.6h3.3l-1.6 -2.8zM430 138.1h3.3l-1.6 -2.8zM430.5 139.5h3.3l-1.6 -2.8zM430.7 141h3.3l-1.6 -2.8zM431.3 142.4h3.3l-1.6 -2.8zM431.6 143.8h3.3l-1.6 -2.8zM430.1 145.4h3.3l-1.6 -2.8zM431 146.8h3.3l-1.6 -2.8zM431.1 148.2h3.3l-1.6 -2.8zM431.2 149.7h3.3l-1.6 -2.8zM430.7 151.2h3.3l-1.6 -2.8zM432 152.6h3.3l-1.6 -2.8zM432.2 154h3.3l-1.6 -2.8zM431 155.6h3.3l-1.6 -2.8zM431.8 157h3.3l-1.6 -2.8zM431.6 158.4h3.3l-1.6 -2.8zM431.3 159.9h3.3l-1.6 -2.8zM431.2 161.4h3.3l-1.6 -2.8zM431.4 162.8h3.3l-1.6 -2.8zM433.1 164.2h3.3l-1.6 -2.8zM432.6 165.7h3.3l-1.6 -2.8zM431.7 167.2h3.3l-1.6 -2.8zM431.9 168.7h3.3l-1.6 -2.8zM433.4 170h3.3l-1.6 -2.8zM433.4 171.5h3.3l-1.6 -2.8zM433.3 172.9h3.3l-1.6 -2.8zM433.7 174.4h3.3l-1.6 -2.8zM433.3 175.9h3.3l-1.6 -2.8zM432.5 177.4h3.3l-1.6 -2.8zM433.1 178.8h3.3l-1.6 -2.8zM433.4 180.2h3.3l-1.6 -2.8zM434.2 181.7h3.3l-1.6 -2.8zM433.7 183.1h3.3l-1.6 -2.8zM432.6 184.7h3.3l-1.6 -2.8zM433.3 186.1h3.3l-1.6 -2.8zM433.9 187.5h3.3l-1.6 -2.8zM433.9 189h3.3l-1.6 -2.8zM433.4 190.5h3.3l-1.6 -2.8zM433.5 191.9h3.3l-1.6 -2.8zM434.8 193.3h3.3l-1.6 -2.8zM433.9 194.8h3.3l-1.6 -2.8zM434.6 196.2h3.3l-1.6 -2.8zM434.4 197.7h3.3l-1.6 -2.8zM435.1 199.1h3.3l-1.6 -2.8zM434.9 200.6h3.3l-1.6 -2.8zM435 202.1h3.3l-1.6 -2.8zM435.1 203.5h3.3l-1.6 -2.8zM435.9 204.9h3.3l-1.6 -2.8zM435.6 206.4h3.3l-1.6 -2.8zM435 207.9h3.3l-1.6 -2.8zM436.1 209.3h3.3l-1.6 -2.8zM435.9 210.8h3.3l-1.6 -2.8zM435 212.3h3.3l-1.6 -2.8zM435.9 213.7h3.3l-1.6 -2.8zM435.9 215.1h3.3l-1.6 -2.8zM436.2 216.6h3.3l-1.6 -2.8zM435.1 218.1h3.3l-1.6 -2.8zM436.7 219.5h3.3l-1.6 -2.8zM435.7 221h3.3l-1.6 -2.8zM435.4 222.5h3.3l-1.6 -2.8zM436.8 223.9h3.3l-1.6 -2.8zM436.4 225.3h3.3l-1.6 -2.8zM435.8 226.8h3.3l-1.6 -2.8zM436.2 228.3h3.3l-1.6 -2.8zM436.3 229.7h3.3l-1.6 -2.8zM435.8 228.3h3.3l-1.6 -2.8zM436.7 227.1h3.3l-1.6 -2.8zM436.6 225.8h3.3l-1.6 -2.8zM437.4 224.5h3.3l-1.6 -2.8zM436.7 223.2h3.3l-1.6 -2.8zM437 221.9h3.3l-1.6 -2.8zM437.6 220.6h3.3l-1.6 -2.8zM438 219.3h3.3l-1.6 -2.8zM437.2 218h3.3l-1.6 -2.8zM437.4 216.7h3.3l-1.6 -2.8zM437.9 215.4h3.3l-1.6 -2.8zM438.7 214.2h3.3l-1.6 -2.8zM437.4 212.7h3.3l-1.6 -2.8zM439 211.6h3.3l-1.6 -2.8zM438.6 210.1h3.3l-1.6 -2.8zM438.1 208.7h3.3l-1.6 -2.8zM438.8 207.4h3.3l-1.6 -2.8zM438.2 205.9h3.3l-1.6 -2.8zM437.8 204.5h3.3l-1.6 -2.8zM439.3 203.2h3.3l-1.6 -2.8zM438.7 201.8h3.3l-1.6 -2.8zM439.1 200.5h3.3l-1.6 -2.8zM439.1 199.1h3.3l-1.6 -2.8zM440.1 197.8h3.3l-1.6 -2.8zM439.9 196.4h3.3l-1.6 -2.8zM438.6 194.9h3.3l-1.6 -2.8zM439.8 193.6h3.3l-1.6 -2.8zM439.7 192.2h3.3l-1.6 -2.8zM439.8 190.9h3.3l-1.6 -2.8zM440.7 189.6h3.3l-1.6 -2.8zM439.9 188.2h3.3l-1.6 -2.8zM440.2 186.9h3.3l-1.6 -2.8zM441.1 185.7h3.3l-1.6 -2.8zM440.3 184.3h3.3l-1.6 -2.8zM440.6 182.9h3.3l-1.6 -2.8zM440.7 181.6h3.3l-1.6 -2.8zM441.5 180.3h3.3l-1.6 -2.8zM441.3 179h3.3l-1.6 -2.8zM441.5 177.7h3.3l-1.6 -2.8zM441 176.3h3.3l-1.6 -2.8zM440.4 174.9h3.3l-1.6 -2.8zM441.8 173.6h3.3l-1.6 -2.8zM441.7 172.2h3.3l-1.6 -2.8zM442.2 170.9h3.3l-1.6 -2.8zM442.3 169.6h3.3l-1.6 -2.8zM441.2 168.1h3.3l-1.6 -2.8zM441.5 166.8h3.3l-1.6 -2.8zM441.4 165.4h3.3l-1.6 -2.8zM443 164.2h3.3l-1.6 -2.8zM441.7 162.7h3.3l-1.6 -2.8zM441.8 161.3h3.3l-1.6 -2.8zM443.2 160.1h3.3l-1.6 -2.8zM443 158.7h3.3l-1.6 -2.8zM442.1 157.2h3.3l-1.6 -2.8zM443.5 156h3.3l-1.6 -2.8zM443.7 154.6h3.3l-1.6 -2.8zM443.4 153.2h3.3l-1.6 -2.8zM442.7 151.7h3.3l-1.6 -2.8zM444.1 150.5h3.3l-1.6 -2.8zM443.7 149.1h3.3l-1.6 -2.8zM444.1 147.7h3.3l-1.6 -2.8zM445.1 146.5h3.3l-1.6 -2.8zM444.9 145.1h3.3l-1.6 -2.8zM445.1 143.7h3.3l-1.6 -2.8zM443.9 142.2h3.3l-1.6 -2.8zM444.4 140.9h3.3l-1.6 -2.8zM444.9 139.6h3.3l-1.6 -2.8zM444 138.1h3.3l-1.6 -2.8zM446.1 137h3.3l-1.6 -2.8zM444.9 135.5h3.3l-1.6 -2.8zM445 134.1h3.3l-1.6 -2.8zM445.3 132.8h3.3l-1.6 -2.8zM445.3 131.4h3.3l-1.6 -2.8zM446.7 130.3h3.3l-1.6 -2.8zM446.2 128.9h3.3l-1.6 -2.8zM446.3 127.6h3.3l-1.6 -2.8zM446.3 126.2h3.3l-1.6 -2.8zM445.8 124.8h3.3l-1.6 -2.8zM446.4 123.6h3.3l-1.6 -2.8zM447.7 122.4h3.3l-1.6 -2.8zM447.8 121.1h3.3l-1.6 -2.8zM448 119.8h3.3l-1.6 -2.8zM447.1 118.2h3.3l-1.6 -2.8zM447.2 116.8h3.3l-1.6 -2.8zM447.1 115.3h3.3l-1.6 -2.8zM448.3 114.1h3.3l-1.6 -2.8zM448.2 112.6h3.3l-1.6 -2.8zM448.6 111.2h3.3l-1.6 -2.8zM448.8 109.8h3.3l-1.6 -2.8zM449.3 108.5h3.3l-1.6 -2.8zM449.1 107.1h3.3l-1.6 -2.8zM450.2 106h3.3l-1.6 -2.8zM449.3 104.5h3.3l-1.6 -2.8zM451 103.4h3.3l-1.6 -2.8zM450.5 102h3.3l-1.6 -2.8zM449.9 100.3h3.3l-1.6 -2.8zM450.8 99h3.3l-1.6 -2.8zM451.6 97.7h3.3l-1.6 -2.8zM452.1 96.2h3.3l-1.6 -2.8zM451.9 97.6h3.3l-1.6 -2.8zM452.5 98.8h3.3l-1.6 -2.8zM452.7 100.1h3.3l-1.6 -2.8zM451.8 101.5h3.3l-1.6 -2.8zM452.9 102.8h3.3l-1.6 -2.8zM452.2 104.2h3.3l-1.6 -2.8zM452.1 105.5h3.3l-1.6 -2.8zM452.7 106.8h3.3l-1.6 -2.8zM453.1 108.1h3.3l-1.6 -2.8zM452.2 109.5h3.3l-1.6 -2.8zM453.3 110.7h3.3l-1.6 -2.8zM452.5 112.1h3.3l-1.6 -2.8zM454.3 113.3h3.3l-1.6 -2.8zM453.7 114.7h3.3l-1.6 -2.8zM453.4 116h3.3l-1.6 -2.8zM454.6 117.3h3.3l-1.6 -2.8zM453.1 118.7h3.3l-1.6 -2.8zM454.8 119.9h3.3l-1.6 -2.8zM453.9 121.3h3.3l-1.6 -2.8zM454.8 122.6h3.3l-1.6 -2.8zM453.5 124h3.3l-1.6 -2.8zM454.3 125.3h3.3l-1.6 -2.8zM453.9 126.6h3.3l-1.6 -2.8zM454.6 127.9h3.3l-1.6 -2.8zM454.4 129.2h3.3l-1.6 -2.8zM454.5 130.5h3.3l-1.6 -2.8zM455.4 131.8h3.3l-1.6 -2.8zM455.7 133.1h3.3l-1.6 -2.8zM454.5 134.5h3.3l-1.6 -2.8zM456 135.7h3.3l-1.6 -2.8zM454.6 137.2h3.3l-1.6 -2.8zM456.1 138.4h3.3l-1.6 -2.8zM456.5 139.7h3.3l-1.6 -2.8zM456.6 141h3.3l-1.6 -2.8zM455.3 142.4h3.3l-1.6 -2.8zM455.1 143.8h3.3l-1.6 -2.8zM456.3 145h3.3l-1.6 -2.8zM455.9 146.4h3.3l-1.6 -2.8zM456.8 147.6h3.3l-1.6 -2.8zM455.6 149.1h3.3l-1.6 -2.8zM456.2 150.3h3.3l-1.6 -2.8zM457.4 151.6h3.3l-1.6 -2.8zM457.7 152.9h3.3l-1.6 -2.8zM456.5 154.3h3.3l-1.6 -2.8zM457.9 155.5h3.3l-1.6 -2.8zM456.4 157h3.3l-1.6 -2.8zM457.6 158.2h3.3l-1.6 -2.8zM457.9 159.5h3.3l-1.6 -2.8zM457.3 160.9h3.3l-1.6 -2.8zM457.9 162.2h3.3l-1.6 -2.8zM457.6 163.5h3.3l-1.6 -2.8zM458.5 164.8h3.3l-1.6 -2.8zM457.1 166.2h3.3l-1.6 -2.8zM458.4 167.4h3.3l-1.6 -2.8zM457.4 168.8h3.3l-1.6 -2.8zM458.9 170h3.3l-1.6 -2.8zM457.8 171.5h3.3l-1.6 -2.8zM457.5 172.8h3.3l-1.6 -2.8zM458.8 174h3.3l-1.6 -2.8zM459.6 175.3h3.3l-1.6 -2.8zM459 176.7h3.3l-1.6 -2.8zM458.6 178h3.3l-1.6 -2.8zM459.6 179.3h3.3l-1.6 -2.8zM459 180.7h3.3l-1.6 -2.8zM460.1 181.9h3.3l-1.6 -2.8zM459.4 183.3h3.3l-1.6 -2.8zM459 184.6h3.3l-1.6 -2.8zM459.7 185.9h3.3l-1.6 -2.8zM459.3 187.3h3.3l-1.6 -2.8zM460.6 188.5h3.3l-1.6 -2.8zM459.3 189.9h3.3l-1.6 -2.8zM460.8 191.1h3.3l-1.6 -2.8zM459.3 192.6h3.3l-1.6 -2.8zM459.3 193.9h3.3l-1.6 -2.8zM459.5 195.2h3.3l-1.6 -2.8zM460.4 196.5h3.3l-1.6 -2.8zM461 197.8h3.3l-1.6 -2.8zM461 199.1h3.3l-1.6 -2.8zM460.3 200.5h3.3l-1.6 -2.8zM460.9 201.8h3.3l-1.6 -2.8zM460.2 203.2h3.3l-1.6 -2.8zM462 204.3h3.3l-1.6 -2.8zM461.3 205.7h3.3l-1.6 -2.8zM460.7 207.1h3.3l-1.6 -2.8zM461.3 208.4h3.3l-1.6 -2.8zM461.5 209.7h3.3l-1.6 -2.8zM462.5 210.9h3.3l-1.6 -2.8zM462.6 212.3h3.3l-1.6 -2.8zM462.4 213.6h3.3l-1.6 -2.8zM461.3 215h3.3l-1.6 -2.8zM461.5 216.3h3.3l-1.6 -2.8zM462.8 217.5h3.3l-1.6 -2.8zM461.5 219h3.3l-1.6 -2.8zM463.4 220.1h3.3l-1.6 -2.8zM462.4 221.6h3.3l-1.6 -2.8zM461.8 222.9h3.3l-1.6 -2.8zM463.2 224.2h3.3l-1.6 -2.8zM462.1 225.6h3.3l-1.6 -2.8zM462.8 226.9h3.3l-1.6 -2.8zM464.1 228.1h3.3l-1.6 -2.8zM463.6 229.4h3.3l-1.6 -2.8zM463.5 230.8h3.3l-1.6 -2.8zM464 232.1h3.3l-1.6 -2.8zM463.1 233.5h3.3l-1.6 -2.8zM464.4 234.7h3.3l-1.6 -2.8zM463.3 236.1h3.3l-1.6 -2.8zM464.4 237.3h3.3l-1.6 -2.8zM464.9 238.6h3.3l-1.6 -2.8zM464.1 240h3.3l-1.6 -2.8zM465.1 241.3h3.3l-1.6 -2.8zM464.3 242.7h3.3l-1.6 -2.8zM464 244h3.3l-1.6 -2.8zM464.5 245.3h3.3l-1.6 -2.8zM464.8 246.6h3.3l-1.6 -2.8zM465.8 247.9h3.3l-1.6 -2.8zM465 249.3h3.3l-1.6 -2.8zM465.9 250.5h3.3l-1.6 -2.8zM464.9 251.9h3.3l-1.6 -2.8zM466 253.1h3.3l-1.6 -2.8zM465.3 254.5h3.3l-1.6 -2.8zM465.8 255.8h3.3l-1.6 -2.8zM465.9 257.1h3.3l-1.6 -2.8zM465.4 258.5h3.3l-1.6 -2.8zM466.5 259.7h3.3l-1.6 -2.8zM466.6 261.1h3.3l-1.6 -2.8zM465.2 262.5h3.3l-1.6 -2.8zM466.5 263.7h3.3l-1.6 -2.8zM465.6 265.1h3.3l-1.6 -2.8zM465.7 266.5h3.3l-1.6 -2.8zM466.5 267.7h3.3l-1.6 -2.8zM466.2 265.5h3.3l-1.6 -2.8zM466.5 263.3h3.3l-1.6 -2.8zM468.4 261.5h3.3l-1.6 -2.8zM467.2 259.1h3.3l-1.6 -2.8zM468.3 257.1h3.3l-1.6 -2.8zM468.8 255h3.3l-1.6 -2.8zM468.3 252.8h3.3l-1.6 -2.8zM469.4 250.7h3.3l-1.6 -2.8zM469.1 248.5h3.3l-1.6 -2.8z" fill="#1760a5"/>
<polyline points="89,148 87,135 85,116 82.5,100 82,85 81.4,72.5" fill="none" stroke="#1760a5" stroke-width="2.0" stroke-linejoin="round" stroke-linecap="round"/>
<path d="M87.8 149h2.6l-1.3 -2.2zM87.5 147.7h2.6l-1.3 -2.2zM87.1 146.5h2.6l-1.3 -2.2zM86.6 145.2h2.6l-1.3 -2.2zM86.7 143.9h2.6l-1.3 -2.2zM86.2 142.6h2.6l-1.3 -2.2zM85.9 141.3h2.6l-1.3 -2.2zM85.9 140h2.6l-1.3 -2.2zM86.7 138.5h2.6l-1.3 -2.2zM85.9 137.3h2.6l-1.3 -2.2zM86.3 136h2.6l-1.3 -2.2zM84.8 134.8h2.6l-1.3 -2.2zM86.1 133.3h2.6l-1.3 -2.2zM85.3 132h2.6l-1.3 -2.2zM85.6 130.6h2.6l-1.3 -2.2zM85.1 129.2h2.6l-1.3 -2.2zM85.1 127.9h2.6l-1.3 -2.2zM84.3 126.6h2.6l-1.3 -2.2zM85 125.1h2.6l-1.3 -2.2zM83.9 123.9h2.6l-1.3 -2.2zM83.9 122.5h2.6l-1.3 -2.2zM83.4 121.2h2.6l-1.3 -2.2zM83.8 119.8h2.6l-1.3 -2.2zM83.9 118.4h2.6l-1.3 -2.2zM83.4 117.1h2.6l-1.3 -2.2zM84.1 115.6h2.6l-1.3 -2.2zM82.6 114.5h2.6l-1.3 -2.2zM83.2 113h2.6l-1.3 -2.2zM82.4 111.8h2.6l-1.3 -2.2zM82.8 110.3h2.6l-1.3 -2.2zM82.9 109h2.6l-1.3 -2.2zM82.6 107.7h2.6l-1.3 -2.2zM81.3 106.5h2.6l-1.3 -2.2zM81.4 105.1h2.6l-1.3 -2.2zM81.8 103.7h2.6l-1.3 -2.2zM82.2 102.3h2.6l-1.3 -2.2zM80.5 101.1h2.6l-1.3 -2.2zM81.3 99.7h2.6l-1.3 -2.2zM81.4 98.3h2.6l-1.3 -2.2zM81.6 96.9h2.6l-1.3 -2.2zM80.8 95.6h2.6l-1.3 -2.2zM81.5 94.2h2.6l-1.3 -2.2zM80.9 92.9h2.6l-1.3 -2.2zM81.6 91.5h2.6l-1.3 -2.2zM80.1 90.2h2.6l-1.3 -2.2zM81.5 88.7h2.6l-1.3 -2.2zM80.6 87.4h2.6l-1.3 -2.2zM80.6 86h2.6l-1.3 -2.2zM80 84.7h2.6l-1.3 -2.2zM80.2 83.3h2.6l-1.3 -2.2zM80.9 81.9h2.6l-1.3 -2.2zM80.7 80.5h2.6l-1.3 -2.2zM79.8 79.1h2.6l-1.3 -2.2zM80.1 77.7h2.6l-1.3 -2.2zM79.7 76.3h2.6l-1.3 -2.2zM79.7 75h2.6l-1.3 -2.2z" fill="#1760a5"/>
<polygon points="80.5,81 83,84 83.5,96 81.5,99 78,97.5 74.8,93 74.5,85.5 77,81.5 80.5,81" fill="#1760a5"/>
<path d="M79.6 81.7h2.6l-1.3 -2.2zM80.3 82.8h2.6l-1.3 -2.2zM80.2 84.6h2.6l-1.3 -2.2zM80.8 85.1h2.6l-1.3 -2.2zM81.2 86.1h2.6l-1.3 -2.2zM81.8 87h2.6l-1.3 -2.2zM81.8 88h2.6l-1.3 -2.2zM81.4 89.1h2.6l-1.3 -2.2zM81.2 90.1h2.6l-1.3 -2.2zM81.5 91.1h2.6l-1.3 -2.2zM81.7 92.1h2.6l-1.3 -2.2zM82.6 93h2.6l-1.3 -2.2zM81.8 94h2.6l-1.3 -2.2zM81.5 95.1h2.6l-1.3 -2.2zM81.6 96.1h2.6l-1.3 -2.2zM82.8 97.4h2.6l-1.3 -2.2zM81.2 97.8h2.6l-1.3 -2.2zM81.1 99.2h2.6l-1.3 -2.2zM80 100.6h2.6l-1.3 -2.2zM79.4 98.8h2.6l-1.3 -2.2zM78 98.8h2.6l-1.3 -2.2zM77.1 98.3h2.6l-1.3 -2.2zM75.5 98h2.6l-1.3 -2.2zM75.9 96.4h2.6l-1.3 -2.2zM75.4 95.4h2.6l-1.3 -2.2zM74.7 94.5h2.6l-1.3 -2.2zM73.9 94h2.6l-1.3 -2.2zM74.1 92.9h2.6l-1.3 -2.2zM74 91.9h2.6l-1.3 -2.2zM73.5 90.8h2.6l-1.3 -2.2zM73.2 89.8h2.6l-1.3 -2.2zM73.9 88.7h2.6l-1.3 -2.2zM73.8 87.6h2.6l-1.3 -2.2zM73.8 86.9h2.6l-1.3 -2.2zM73.5 85.3h2.6l-1.3 -2.2zM75.2 85h2.6l-1.3 -2.2zM75.1 83.6h2.6l-1.3 -2.2zM75.8 83.3h2.6l-1.3 -2.2zM76.8 81.7h2.6l-1.3 -2.2zM78.2 83h2.6l-1.3 -2.2z" fill="#1760a5"/>
<path d="M71.1 100.9h3.4l-1.7-3zM100 95.2h3.4l-1.7-3zM111.8 116.8h3.4l-1.7-3zM97.7 125.9h3.4l-1.7-3zM68.6 139h3.4l-1.7-3zM126.6 124.7h3.4l-1.7-3zM125.7 136.8h3.4l-1.7-3zM143.2 125.9h3.4l-1.7-3zM146.1 134.4h3.4l-1.7-3zM53.8 161.6h3.4l-1.7-3zM56.8 170h3.4l-1.7-3zM57.3 172.4h3.4l-1.7-3zM58.4 187h3.4l-1.7-3zM63.6 184.3h3.4l-1.7-3zM65.9 181.4h3.4l-1.7-3zM61.3 192.7h3.4l-1.7-3zM87.9 149.5h3.4l-1.7-3zM90.2 169.3h3.4l-1.7-3zM94.3 171.1h3.4l-1.7-3zM92.5 177.5h3.4l-1.7-3zM114.8 150.2h3.4l-1.7-3zM117 151.8h3.4l-1.7-3zM119.3 159.3h3.4l-1.7-3zM122.7 163.2h3.4l-1.7-3zM123.8 163.9h3.4l-1.7-3zM136.7 45.4h3.4l-1.7-3zM133.2 58.3h3.4l-1.7-3zM106.3 65.4h3.4l-1.7-3zM102.3 73h3.4l-1.7-3zM99.3 94.6h3.4l-1.7-3zM129.2 80.5h3.4l-1.7-3zM139 78.2h3.4l-1.7-3zM161.3 54.8h3.4l-1.7-3zM158.3 71.9h3.4l-1.7-3zM162.3 56.4h3.4l-1.7-3z" fill="#1760a5"/>
<polygon points="176.2,166 183.4,166 182.6,192 178.6,192" fill="#1760a5"/>
<polygon points="205,184 212.8,184 211.2,213 207.2,213" fill="#1760a5"/>
<polygon points="234.5,205 240.5,205 239.2,238 236.8,238" fill="#1760a5"/>
<polyline points="58.2,41.2 61.2,39.8 67,40.5 74.1,39.8 81.1,45.2 88.1,52.2 95.1,60.4 101,60.9 108,63.9 116.2,72.1 125.5,78.7 133.7,81.9 141.9,86.6 153.6,94 167.6,100.5 174,103.5 183.5,109.5 195.1,113.2 199.5,114.8 208.3,122.7 214,125.5 220.1,127.3 228,131.5 236.5,138 247.4,141.9 254,144 260,147.8 266.1,154 274.1,155.3 284.2,158.3 292.2,164 298.2,167.1 306.2,169.1 314.3,174.2 322.3,179.2 330.3,182.2 340.4,184.4 346,186.6 355.6,193.3 362.9,195 373.7,200.5" fill="none" stroke="#111" stroke-width="3.0" stroke-linejoin="round" stroke-linecap="round"/>
<polyline points="378.5,204.1 385.8,208.2 394.2,209.6 403.8,213.7 413.5,220.8 423.1,222.3 430.3,225.8 440,231 449.6,232.8 459.3,237.8 471.3,245.3" fill="none" stroke="#111" stroke-width="3.0" stroke-linejoin="round" stroke-linecap="round"/>
<polyline points="147.5,90.2 202.5,120.5 245.3,151 253.5,156 344.5,203.8" fill="none" stroke="#a3363a" stroke-width="2.2" stroke-linejoin="round"/>
<path d="M141.2 90.2L147.5 85.7L153.8 90.2L147.5 94.7Z" fill="#fff" stroke="#a3363a" stroke-width="1.4"/>
<path d="M196.2 120.5L202.5 116L208.8 120.5L202.5 125Z" fill="#fff" stroke="#a3363a" stroke-width="1.4"/>
<path d="M239 151L245.3 146.5L251.6 151L245.3 155.5Z" fill="#fff" stroke="#a3363a" stroke-width="1.4"/>
<path d="M247.2 156L253.5 151.5L259.8 156L253.5 160.5Z" fill="#fff" stroke="#a3363a" stroke-width="1.4"/>
<path d="M338.2 203.8L344.5 199.3L350.8 203.8L344.5 208.3Z" fill="#fff" stroke="#a3363a" stroke-width="1.4"/>
<path d="M105.6 32.3L94 52" stroke="#333" stroke-width="0.8"/>
<path d="M304.5 49L290 75.2" stroke="#3a6fa8" stroke-width="0.8"/>
<path d="M127 189L135.7 209.3" stroke="#23acdf" stroke-width="0.8"/>
<path d="M302.5 237.5L312.2 190" stroke="#a3363a" stroke-width="0.8"/>
<text transform="translate(100 31.9) scale(0.82 1)" fill="#111" stroke="#111" stroke-width="0.1" font-size="15.7" text-anchor="start" letter-spacing="1.05">Aquifer-system compaction</text>
<text transform="translate(307.9 32.2) scale(0.82 1)" fill="#1f63a8" stroke="#1f63a8" stroke-width="0.1" font-size="15.7" text-anchor="start" letter-spacing="1.05">Piezometer screened</text>
<text transform="translate(307.9 50.9) scale(0.82 1)" fill="#1f63a8" stroke="#1f63a8" stroke-width="0.1" font-size="15.7" text-anchor="start" letter-spacing="1.05">in the middle aquifer</text>
<text transform="translate(307.9 69.6) scale(0.82 1)" fill="#1f63a8" stroke="#1f63a8" stroke-width="0.1" font-size="15.7" text-anchor="start" letter-spacing="1.05">(HO3)</text>
<text transform="translate(56.7 225.9) scale(0.82 1)" fill="#23acdf" stroke="#23acdf" stroke-width="0.1" font-size="15.7" text-anchor="start" letter-spacing="1.05">Piezometer screened</text>
<text transform="translate(56.7 245.4) scale(0.82 1)" fill="#23acdf" stroke="#23acdf" stroke-width="0.1" font-size="15.7" text-anchor="start" letter-spacing="1.05">in the lower aquifer</text>
<text transform="translate(56.7 264.9) scale(0.82 1)" fill="#23acdf" stroke="#23acdf" stroke-width="0.1" font-size="15.7" text-anchor="start" letter-spacing="1.05">(HO1)</text>
<text transform="translate(264.5 252.6) scale(0.82 1)" fill="#a3363a" stroke="#a3363a" stroke-width="0.1" font-size="15.7" text-anchor="start" letter-spacing="1.05">InSAR-detected</text>
<text transform="translate(264.5 271.3) scale(0.82 1)" fill="#a3363a" stroke="#a3363a" stroke-width="0.1" font-size="15.7" text-anchor="start" letter-spacing="1.05">subsidence</text>
<text transform="translate(40.2 15.6) scale(0.8 1)" fill="#111" font-size="16" text-anchor="end">130</text>
<text transform="translate(40.2 60.6) scale(0.8 1)" fill="#111" font-size="16" text-anchor="end">135</text>
<text transform="translate(40.2 105.6) scale(0.8 1)" fill="#111" font-size="16" text-anchor="end">140</text>
<text transform="translate(40.2 150.6) scale(0.8 1)" fill="#111" font-size="16" text-anchor="end">145</text>
<text transform="translate(40.2 195.6) scale(0.8 1)" fill="#111" font-size="16" text-anchor="end">150</text>
<text transform="translate(40.2 240.6) scale(0.8 1)" fill="#111" font-size="16" text-anchor="end">155</text>
<text transform="translate(40.2 285.6) scale(0.8 1)" fill="#111" font-size="16" text-anchor="end">160</text>
<text transform="translate(496 16.1) scale(0.8 1)" fill="#111" font-size="16" text-anchor="middle">-0.1</text>
<text transform="translate(494.2 46.1) scale(0.8 1)" fill="#111" font-size="16" text-anchor="middle">0</text>
<text transform="translate(496 76.1) scale(0.8 1)" fill="#111" font-size="16" text-anchor="middle">0.1</text>
<text transform="translate(496 106.1) scale(0.8 1)" fill="#111" font-size="16" text-anchor="middle">0.2</text>
<text transform="translate(496 136.1) scale(0.8 1)" fill="#111" font-size="16" text-anchor="middle">0.3</text>
<text transform="translate(496 166.1) scale(0.8 1)" fill="#111" font-size="16" text-anchor="middle">0.4</text>
<text transform="translate(496 196.1) scale(0.8 1)" fill="#111" font-size="16" text-anchor="middle">0.5</text>
<text transform="translate(496 226.1) scale(0.8 1)" fill="#111" font-size="16" text-anchor="middle">0.6</text>
<text transform="translate(496 256.1) scale(0.8 1)" fill="#111" font-size="16" text-anchor="middle">0.7</text>
<text transform="translate(496 286.1) scale(0.8 1)" fill="#111" font-size="16" text-anchor="middle">0.8</text>
<text transform="translate(60.9 296) scale(0.85 1)" fill="#111" stroke="#111" stroke-width="0.15" font-size="11.5" text-anchor="middle">1990</text>
<text transform="translate(89.7 296) scale(0.85 1)" fill="#111" stroke="#111" stroke-width="0.15" font-size="11.5" text-anchor="middle">1991</text>
<text transform="translate(118.4 296) scale(0.85 1)" fill="#111" stroke="#111" stroke-width="0.15" font-size="11.5" text-anchor="middle">1992</text>
<text transform="translate(147.2 296) scale(0.85 1)" fill="#111" stroke="#111" stroke-width="0.15" font-size="11.5" text-anchor="middle">1993</text>
<text transform="translate(175.9 296) scale(0.85 1)" fill="#111" stroke="#111" stroke-width="0.15" font-size="11.5" text-anchor="middle">1994</text>
<text transform="translate(204.7 296) scale(0.85 1)" fill="#111" stroke="#111" stroke-width="0.15" font-size="11.5" text-anchor="middle">1995</text>
<text transform="translate(233.4 296) scale(0.85 1)" fill="#111" stroke="#111" stroke-width="0.15" font-size="11.5" text-anchor="middle">1996</text>
<text transform="translate(262.2 296) scale(0.85 1)" fill="#111" stroke="#111" stroke-width="0.15" font-size="11.5" text-anchor="middle">1997</text>
<text transform="translate(290.9 296) scale(0.85 1)" fill="#111" stroke="#111" stroke-width="0.15" font-size="11.5" text-anchor="middle">1998</text>
<text transform="translate(319.7 296) scale(0.85 1)" fill="#111" stroke="#111" stroke-width="0.15" font-size="11.5" text-anchor="middle">1999</text>
<text transform="translate(348.4 296) scale(0.85 1)" fill="#111" stroke="#111" stroke-width="0.15" font-size="11.5" text-anchor="middle">2000</text>
<text transform="translate(377.2 296) scale(0.85 1)" fill="#111" stroke="#111" stroke-width="0.15" font-size="11.5" text-anchor="middle">2001</text>
<text transform="translate(405.9 296) scale(0.85 1)" fill="#111" stroke="#111" stroke-width="0.15" font-size="11.5" text-anchor="middle">2002</text>
<text transform="translate(434.7 296) scale(0.85 1)" fill="#111" stroke="#111" stroke-width="0.15" font-size="11.5" text-anchor="middle">2003</text>
<text transform="translate(463.4 296) scale(0.85 1)" fill="#111" stroke="#111" stroke-width="0.15" font-size="11.5" text-anchor="middle">2004</text>
<text transform="translate(13.8 145.6) rotate(-90) scale(1 1)" fill="#111" font-size="14.55" text-anchor="middle" letter-spacing="0">Depth to water, in feet below land surface</text>
<text transform="translate(524 145.7) rotate(-90) scale(1 1)" fill="#111" font-size="14.7" text-anchor="middle" letter-spacing="0.08">Aquifer-system compaction</text>
<text transform="translate(543.8 144) rotate(-90) scale(1 1)" fill="#111" font-size="14.4" text-anchor="middle" letter-spacing="0.03">or land subsidence, in feet</text>
</svg>
</body></html>
